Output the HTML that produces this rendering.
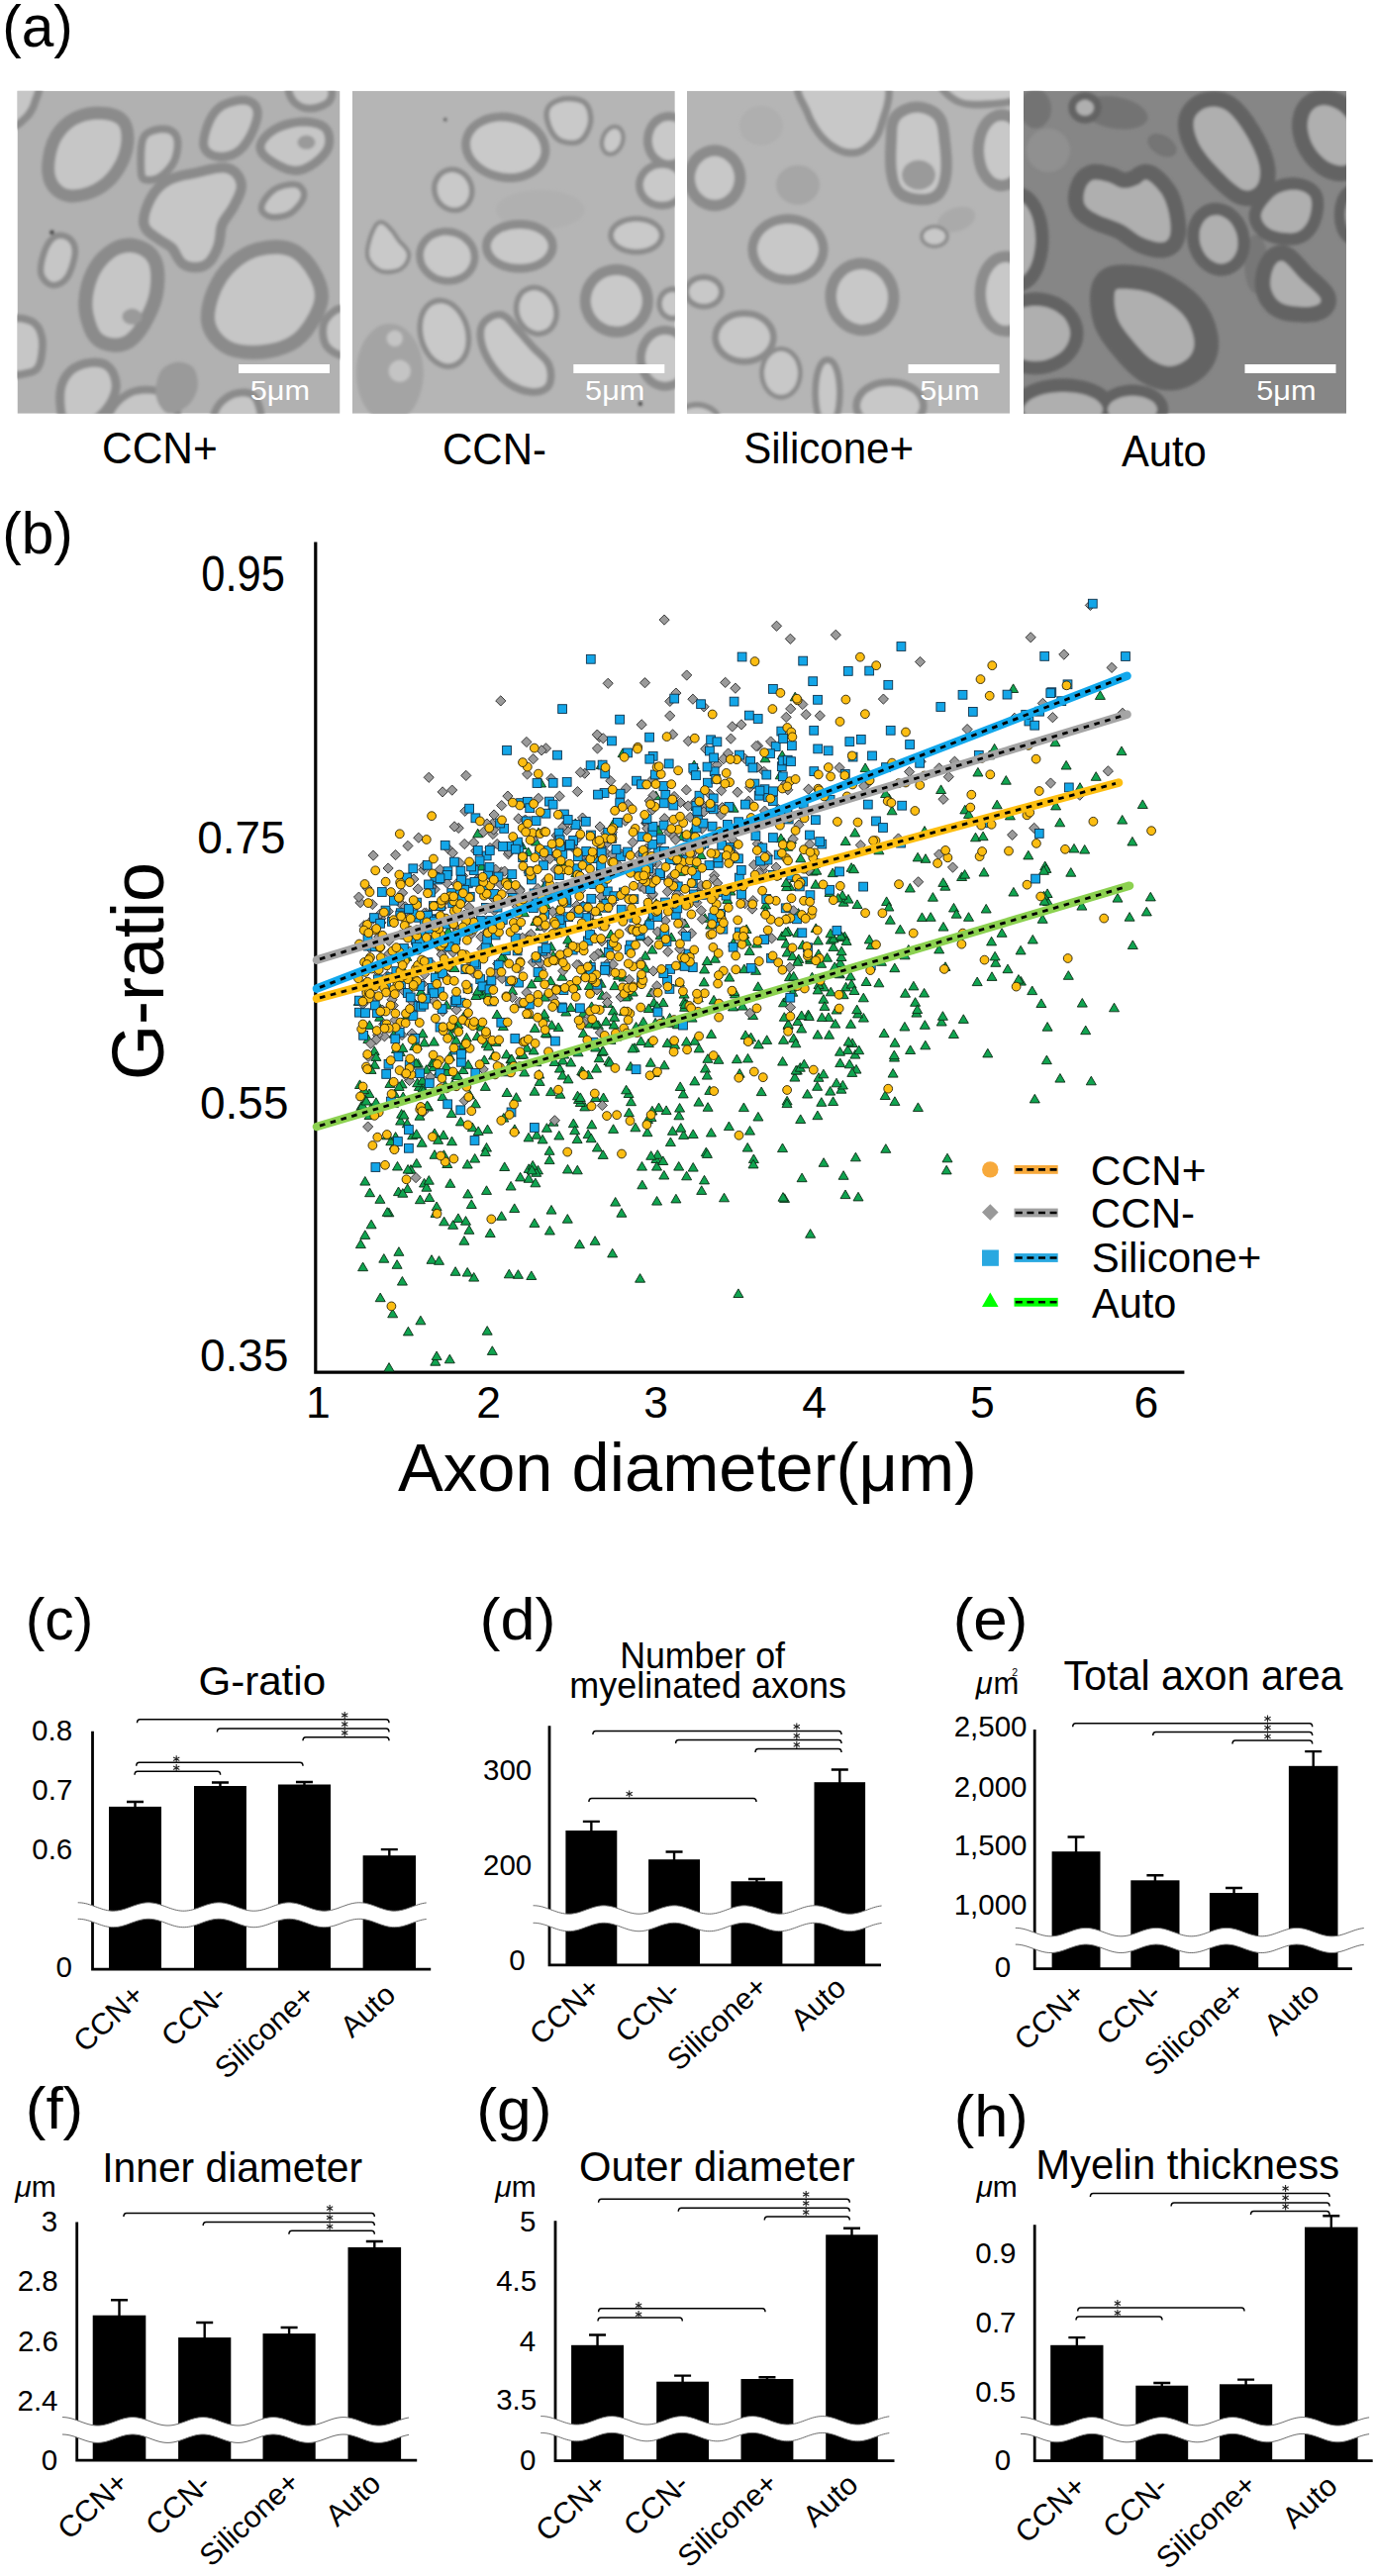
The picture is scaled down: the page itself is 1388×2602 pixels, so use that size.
<!DOCTYPE html>
<html><head><meta charset="utf-8"><title>figure</title>
<style>
html,body{margin:0;padding:0;background:#fff;}
body{width:1388px;height:2602px;overflow:hidden;}
svg{display:block;}
text{font-family:"Liberation Sans",sans-serif;}
</style></head><body>
<svg width="1388" height="2602" viewBox="0 0 1388 2602">
<rect width="1388" height="2602" fill="#fff"/>
<defs><filter id="bl" x="-5%" y="-5%" width="110%" height="110%"><feGaussianBlur stdDeviation="1.6"/></filter>
<clipPath id="cp0"><rect x="17.5" y="91.8" width="326" height="326"/></clipPath>
<clipPath id="cp1"><rect x="355.8" y="91.8" width="326" height="326"/></clipPath>
<clipPath id="cp2"><rect x="694" y="91.8" width="326" height="326"/></clipPath>
<clipPath id="cp3"><rect x="1034" y="91.8" width="326" height="326"/></clipPath>
</defs>
<g clip-path="url(#cp0)">
<rect x="17.5" y="91.8" width="326" height="326" fill="#b1b1b1"/>
<g transform="translate(17.5,91.8)" filter="url(#bl)">
<path d="M38,83C37,75.8 38.8,62.8 42,55C45.2,47.2 50.8,40.3 57,36C63.2,31.7 71.8,29.5 79,29C86.2,28.5 95.7,29.8 100,33C104.3,36.2 105,42 105,48C105,54 103.2,62.3 100,69C96.8,75.7 91.5,83.2 86,88C80.5,92.8 73.3,96.3 67,98C60.7,99.7 52.8,100.5 48,98C43.2,95.5 39,90.2 38,83Z" fill="#8b8b8b" stroke="#8b8b8b" stroke-width="26" stroke-linejoin="round"/>
<path d="M129,81C128.7,75.3 128.5,58.2 130,52C131.5,45.8 134.3,45.5 138,44C141.7,42.5 148.7,41.8 152,43C155.3,44.2 157.5,46.7 158,51C158.5,55.3 157.5,63.7 155,69C152.5,74.3 146.8,80.2 143,83C139.2,85.8 134.3,86.3 132,86C129.7,85.7 129.3,86.7 129,81Z" fill="#8b8b8b" stroke="#8b8b8b" stroke-width="15.6" stroke-linejoin="round"/>
<path d="M193,55C191.8,50.2 195.3,39 198,33C200.7,27 203.8,22.2 209,19C214.2,15.8 224.2,13.7 229,14C233.8,14.3 237.3,16.7 238,21C238.7,25.3 235.8,34 233,40C230.2,46 225.7,53.3 221,57C216.3,60.7 209.7,62.3 205,62C200.3,61.7 194.2,59.8 193,55Z" fill="#8b8b8b" stroke="#8b8b8b" stroke-width="18.2" stroke-linejoin="round"/>
<path d="M250,57C250,52.7 256,46.5 262,43C268,39.5 278.5,36.5 286,36C293.5,35.5 303,36.8 307,40C311,43.2 311.5,50.2 310,55C308.5,59.8 302.8,65.5 298,69C293.2,72.5 287,76 281,76C275,76 267.2,72.2 262,69C256.8,65.8 250,61.3 250,57Z" fill="#8b8b8b" stroke="#8b8b8b" stroke-width="18.2" stroke-linejoin="round"/>
<path d="M280,-5C284.7,-7.2 304.7,-7.2 310,-5C315.3,-2.8 314.5,4.8 312,8C309.5,11.2 300,14 295,14C290,14 284.5,11.2 282,8C279.5,4.8 275.3,-2.8 280,-5Z" fill="#8b8b8b" stroke="#8b8b8b" stroke-width="15.6" stroke-linejoin="round"/>
<path d="M-30,-10C-25.8,-16.7 7.7,-13.3 15,-10C22.3,-6.7 15.7,4.2 14,10C12.3,15.8 9,21.7 5,25C1,28.3 -4.2,35.8 -10,30C-15.8,24.2 -34.2,-3.3 -30,-10Z" fill="#8b8b8b" stroke="#8b8b8b" stroke-width="15.6" stroke-linejoin="round"/>
<path d="M133,133C132.2,127.2 136.3,116.3 140,110C143.7,103.7 148.2,98.7 155,95C161.8,91.3 171.8,90 181,88C190.2,86 203.3,81.8 210,83C216.7,84.2 220.3,89.8 221,95C221.7,100.2 217.2,107.7 214,114C210.8,120.3 204.7,126.2 202,133C199.3,139.8 200.3,148.7 198,155C195.7,161.3 192.5,168.3 188,171C183.5,173.7 175.7,173.7 171,171C166.3,168.3 164.3,159.3 160,155C155.7,150.7 149.5,148.7 145,145C140.5,141.3 133.8,138.8 133,133Z" fill="#8b8b8b" stroke="#8b8b8b" stroke-width="20.8" stroke-linejoin="round"/>
<path d="M250,117C250.8,113.3 256.8,105.2 262,102C267.2,98.8 277,97.2 281,98C285,98.8 287.2,103.2 286,107C284.8,110.8 278.8,118.2 274,121C269.2,123.8 261,124.7 257,124C253,123.3 249.2,120.7 250,117Z" fill="#8b8b8b" stroke="#8b8b8b" stroke-width="13" stroke-linejoin="round"/>
<path d="M27,183C26.2,177.8 28.8,167.5 31,162C33.2,156.5 36.7,151.7 40,150C43.3,148.3 48.5,149.7 51,152C53.5,154.3 55.5,158.3 55,164C54.5,169.7 51.2,181.2 48,186C44.8,190.8 39.5,193.5 36,193C32.5,192.5 27.8,188.2 27,183Z" fill="#8b8b8b" stroke="#8b8b8b" stroke-width="13" stroke-linejoin="round"/>
<path d="M81,238C78.7,232.3 75.7,222.7 76,214C76.3,205.3 79,193.8 83,186C87,178.2 94,170.7 100,167C106,163.3 113.5,162.5 119,164C124.5,165.5 130.7,169.2 133,176C135.3,182.8 135,195.5 133,205C131,214.5 125.3,225.8 121,233C116.7,240.2 112.2,245.5 107,248C101.8,250.5 94.3,249.7 90,248C85.7,246.3 83.3,243.7 81,238Z" fill="#8b8b8b" stroke="#8b8b8b" stroke-width="28.6" stroke-linejoin="round"/>
<path d="M200,233C198.5,225.2 201.5,213.7 205,205C208.5,196.3 214.3,187.3 221,181C227.7,174.7 236.2,169.3 245,167C253.8,164.7 266,163.8 274,167C282,170.2 288.7,178.8 293,186C297.3,193.2 301.2,201.3 300,210C298.8,218.7 291.5,231 286,238C280.5,245 275,248.8 267,252C259,255.2 246.8,257 238,257C229.2,257 220.3,256 214,252C207.7,248 201.5,240.8 200,233Z" fill="#8b8b8b" stroke="#8b8b8b" stroke-width="28.6" stroke-linejoin="round"/>
<path d="M48,305C48.8,296.8 52.3,290.3 57,286C61.7,281.7 70.5,279.5 76,279C81.5,278.5 86.8,279.5 90,283C93.2,286.5 95.7,294 95,300C94.3,306 90.7,313.2 86,319C81.3,324.8 72.7,332.3 67,335C61.3,337.7 55.2,340 52,335C48.8,330 47.2,313.2 48,305Z" fill="#8b8b8b" stroke="#8b8b8b" stroke-width="18.2" stroke-linejoin="round"/>
<path d="M100,322C103.3,316.8 112,309 120,307C128,305 142.2,305.3 148,310C153.8,314.7 163,330.3 155,335C147,339.7 109.2,340.2 100,338C90.8,335.8 96.7,327.2 100,322Z" fill="#8b8b8b" stroke="#8b8b8b" stroke-width="15.6" stroke-linejoin="round"/>
<path d="M-10,238C-6.3,230.8 6.8,234 12,236C17.2,238 19.8,243.7 21,250C22.2,256.3 20.8,268.8 19,274C17.2,279.2 14.8,280.2 10,281C5.2,281.8 -6.7,286.2 -10,279C-13.3,271.8 -13.7,245.2 -10,238Z" fill="#8b8b8b" stroke="#8b8b8b" stroke-width="15.6" stroke-linejoin="round"/>
<path d="M314,235C316.3,229.8 326.5,220.5 330,225C333.5,229.5 337.3,256.8 335,262C332.7,267.2 319.5,260.5 316,256C312.5,251.5 311.7,240.2 314,235Z" fill="#8b8b8b" stroke="#8b8b8b" stroke-width="15.6" stroke-linejoin="round"/>
<path d="M205,322C207.5,317.3 214.7,311.7 220,310C225.3,308.3 233.7,307.3 237,312C240.3,316.7 245.3,333.7 240,338C234.7,342.3 210.8,340.7 205,338C199.2,335.3 202.5,326.7 205,322Z" fill="#8b8b8b" stroke="#8b8b8b" stroke-width="15.6" stroke-linejoin="round"/>
<path d="M38,83C37,75.8 38.8,62.8 42,55C45.2,47.2 50.8,40.3 57,36C63.2,31.7 71.8,29.5 79,29C86.2,28.5 95.7,29.8 100,33C104.3,36.2 105,42 105,48C105,54 103.2,62.3 100,69C96.8,75.7 91.5,83.2 86,88C80.5,92.8 73.3,96.3 67,98C60.7,99.7 52.8,100.5 48,98C43.2,95.5 39,90.2 38,83Z" fill="#c6c6c6"/>
<path d="M129,81C128.7,75.3 128.5,58.2 130,52C131.5,45.8 134.3,45.5 138,44C141.7,42.5 148.7,41.8 152,43C155.3,44.2 157.5,46.7 158,51C158.5,55.3 157.5,63.7 155,69C152.5,74.3 146.8,80.2 143,83C139.2,85.8 134.3,86.3 132,86C129.7,85.7 129.3,86.7 129,81Z" fill="#c6c6c6"/>
<path d="M193,55C191.8,50.2 195.3,39 198,33C200.7,27 203.8,22.2 209,19C214.2,15.8 224.2,13.7 229,14C233.8,14.3 237.3,16.7 238,21C238.7,25.3 235.8,34 233,40C230.2,46 225.7,53.3 221,57C216.3,60.7 209.7,62.3 205,62C200.3,61.7 194.2,59.8 193,55Z" fill="#c6c6c6"/>
<path d="M250,57C250,52.7 256,46.5 262,43C268,39.5 278.5,36.5 286,36C293.5,35.5 303,36.8 307,40C311,43.2 311.5,50.2 310,55C308.5,59.8 302.8,65.5 298,69C293.2,72.5 287,76 281,76C275,76 267.2,72.2 262,69C256.8,65.8 250,61.3 250,57Z" fill="#c6c6c6"/>
<path d="M280,-5C284.7,-7.2 304.7,-7.2 310,-5C315.3,-2.8 314.5,4.8 312,8C309.5,11.2 300,14 295,14C290,14 284.5,11.2 282,8C279.5,4.8 275.3,-2.8 280,-5Z" fill="#c6c6c6"/>
<path d="M-30,-10C-25.8,-16.7 7.7,-13.3 15,-10C22.3,-6.7 15.7,4.2 14,10C12.3,15.8 9,21.7 5,25C1,28.3 -4.2,35.8 -10,30C-15.8,24.2 -34.2,-3.3 -30,-10Z" fill="#c6c6c6"/>
<path d="M133,133C132.2,127.2 136.3,116.3 140,110C143.7,103.7 148.2,98.7 155,95C161.8,91.3 171.8,90 181,88C190.2,86 203.3,81.8 210,83C216.7,84.2 220.3,89.8 221,95C221.7,100.2 217.2,107.7 214,114C210.8,120.3 204.7,126.2 202,133C199.3,139.8 200.3,148.7 198,155C195.7,161.3 192.5,168.3 188,171C183.5,173.7 175.7,173.7 171,171C166.3,168.3 164.3,159.3 160,155C155.7,150.7 149.5,148.7 145,145C140.5,141.3 133.8,138.8 133,133Z" fill="#c6c6c6"/>
<path d="M250,117C250.8,113.3 256.8,105.2 262,102C267.2,98.8 277,97.2 281,98C285,98.8 287.2,103.2 286,107C284.8,110.8 278.8,118.2 274,121C269.2,123.8 261,124.7 257,124C253,123.3 249.2,120.7 250,117Z" fill="#c6c6c6"/>
<path d="M27,183C26.2,177.8 28.8,167.5 31,162C33.2,156.5 36.7,151.7 40,150C43.3,148.3 48.5,149.7 51,152C53.5,154.3 55.5,158.3 55,164C54.5,169.7 51.2,181.2 48,186C44.8,190.8 39.5,193.5 36,193C32.5,192.5 27.8,188.2 27,183Z" fill="#c6c6c6"/>
<path d="M81,238C78.7,232.3 75.7,222.7 76,214C76.3,205.3 79,193.8 83,186C87,178.2 94,170.7 100,167C106,163.3 113.5,162.5 119,164C124.5,165.5 130.7,169.2 133,176C135.3,182.8 135,195.5 133,205C131,214.5 125.3,225.8 121,233C116.7,240.2 112.2,245.5 107,248C101.8,250.5 94.3,249.7 90,248C85.7,246.3 83.3,243.7 81,238Z" fill="#c6c6c6"/>
<path d="M200,233C198.5,225.2 201.5,213.7 205,205C208.5,196.3 214.3,187.3 221,181C227.7,174.7 236.2,169.3 245,167C253.8,164.7 266,163.8 274,167C282,170.2 288.7,178.8 293,186C297.3,193.2 301.2,201.3 300,210C298.8,218.7 291.5,231 286,238C280.5,245 275,248.8 267,252C259,255.2 246.8,257 238,257C229.2,257 220.3,256 214,252C207.7,248 201.5,240.8 200,233Z" fill="#c6c6c6"/>
<path d="M48,305C48.8,296.8 52.3,290.3 57,286C61.7,281.7 70.5,279.5 76,279C81.5,278.5 86.8,279.5 90,283C93.2,286.5 95.7,294 95,300C94.3,306 90.7,313.2 86,319C81.3,324.8 72.7,332.3 67,335C61.3,337.7 55.2,340 52,335C48.8,330 47.2,313.2 48,305Z" fill="#c6c6c6"/>
<path d="M100,322C103.3,316.8 112,309 120,307C128,305 142.2,305.3 148,310C153.8,314.7 163,330.3 155,335C147,339.7 109.2,340.2 100,338C90.8,335.8 96.7,327.2 100,322Z" fill="#c6c6c6"/>
<path d="M-10,238C-6.3,230.8 6.8,234 12,236C17.2,238 19.8,243.7 21,250C22.2,256.3 20.8,268.8 19,274C17.2,279.2 14.8,280.2 10,281C5.2,281.8 -6.7,286.2 -10,279C-13.3,271.8 -13.7,245.2 -10,238Z" fill="#c6c6c6"/>
<path d="M314,235C316.3,229.8 326.5,220.5 330,225C333.5,229.5 337.3,256.8 335,262C332.7,267.2 319.5,260.5 316,256C312.5,251.5 311.7,240.2 314,235Z" fill="#c6c6c6"/>
<path d="M205,322C207.5,317.3 214.7,311.7 220,310C225.3,308.3 233.7,307.3 237,312C240.3,316.7 245.3,333.7 240,338C234.7,342.3 210.8,340.7 205,338C199.2,335.3 202.5,326.7 205,322Z" fill="#c6c6c6"/>
<path d="M301,52C301,53.4 300.3,55 299.3,56.1C298.2,57.2 296.5,58.2 294.8,58.7C293.1,59.1 290.9,59.1 289.2,58.7C287.5,58.2 285.8,57.2 284.7,56.1C283.7,55 283,53.4 283,52C283,50.6 283.7,49 284.7,47.9C285.8,46.8 287.5,45.8 289.2,45.3C290.9,44.9 293.1,44.9 294.8,45.3C296.5,45.8 298.2,46.8 299.3,47.9C300.3,49 301,50.6 301,52Z" fill="#9a9a9a"/>
<path d="M126,228C126,229.6 125.2,231.4 124.1,232.7C122.9,234 121,235.1 119.1,235.6C117.2,236.1 114.8,236.1 112.9,235.6C111,235.1 109.1,234 107.9,232.7C106.8,231.4 106,229.6 106,228C106,226.4 106.8,224.6 107.9,223.3C109.1,222 111,220.9 112.9,220.4C114.8,219.9 117.2,219.9 119.1,220.4C121,220.9 122.9,222 124.1,223.3C125.2,224.6 126,226.4 126,228Z" fill="#9a9a9a"/>
<path d="M145,283C148.7,277.3 156.5,274.5 162,274C167.5,273.5 174.7,275.7 178,280C181.3,284.3 183,293.7 182,300C181,306.3 177,313.7 172,318C167,322.3 157.3,327.7 152,326C146.7,324.3 141.2,315.2 140,308C138.8,300.8 141.3,288.7 145,283Z" fill="#9a9a9a"/>
<path d="M37.2,143C37.2,143.4 37,143.9 36.8,144.3C36.5,144.6 36.1,145 35.7,145.1C35.3,145.2 34.7,145.2 34.3,145.1C33.9,145 33.5,144.6 33.2,144.3C33,143.9 32.8,143.4 32.8,143C32.8,142.6 33,142.1 33.2,141.7C33.5,141.4 33.9,141 34.3,140.9C34.7,140.8 35.3,140.8 35.7,140.9C36.1,141 36.5,141.4 36.8,141.7C37,142.1 37.2,142.6 37.2,143Z" fill="#333333"/>
</g>
<rect x="241" y="368" width="92" height="9" fill="#fff"/>
<text transform="translate(252.8,404) scale(1.0763,1)" font-size="28.5" fill="#fff">5μm</text>
</g>
<g clip-path="url(#cp1)">
<rect x="355.8" y="91.8" width="326" height="326" fill="#b5b5b5"/>
<g transform="translate(355.8,91.8)" filter="url(#bl)">
<path d="M72,285C72,294.8 69.4,306.5 65.5,314.4C61.6,322.3 54.8,329.5 48.5,332.6C42.2,335.6 33.8,335.6 27.5,332.6C21.2,329.5 14.4,322.3 10.5,314.4C6.6,306.5 4,294.8 4,285C4,275.2 6.6,263.5 10.5,255.6C14.4,247.7 21.2,240.5 27.5,237.4C33.8,234.4 42.2,234.4 48.5,237.4C54.8,240.5 61.6,247.7 65.5,255.6C69.4,263.5 72,275.2 72,285Z" fill="#a4a4a4"/>
<path d="M235,120C235,123.9 231.6,128.6 226.4,131.8C221.2,134.9 212.3,137.8 203.9,139C195.5,140.2 184.5,140.2 176.1,139C167.7,137.8 158.8,134.9 153.6,131.8C148.4,128.6 145,123.9 145,120C145,116.1 148.4,111.4 153.6,108.2C158.8,105.1 167.7,102.2 176.1,101C184.5,99.8 195.5,99.8 203.9,101C212.3,102.2 221.2,105.1 226.4,108.2C231.6,111.4 235,116.1 235,120Z" fill="#b0b0b0"/>
<path d="M190.5,63.3C189.6,68.3 185.8,73.8 181,77.1C176.2,80.4 168.5,82.9 161.7,83.3C154.8,83.7 146.1,82.1 139.8,79.4C133.4,76.7 127,71.8 123.7,67C120.3,62.2 118.7,55.8 119.5,50.7C120.4,45.7 124.2,40.2 129,36.9C133.8,33.6 141.5,31.1 148.3,30.7C155.2,30.3 163.9,31.9 170.2,34.6C176.6,37.3 183,42.2 186.3,47C189.7,51.8 191.3,58.2 190.5,63.3Z" fill="#8c8c8c" stroke="#8c8c8c" stroke-width="17.6" stroke-linejoin="round"/>
<path d="M200,19C202,14.8 208.5,11.8 214,11C219.5,10.2 229,10.7 233,14C237,17.3 238.7,25.3 238,31C237.3,36.7 233.3,45.2 229,48C224.7,50.8 216.5,50 212,48C207.5,46 204,40.8 202,36C200,31.2 198,23.2 200,19Z" fill="#8c8c8c" stroke="#8c8c8c" stroke-width="11" stroke-linejoin="round"/>
<path d="M270.5,52.7C269.7,54.9 268.2,57.4 266.7,58.8C265.2,60.3 263.1,61.4 261.4,61.6C259.8,61.7 257.9,61.1 256.8,59.9C255.6,58.7 254.7,56.5 254.5,54.4C254.3,52.3 254.7,49.5 255.5,47.3C256.3,45.1 257.8,42.6 259.3,41.2C260.8,39.7 262.9,38.6 264.6,38.4C266.2,38.3 268.1,38.9 269.2,40.1C270.4,41.3 271.3,43.5 271.5,45.6C271.7,47.7 271.3,50.5 270.5,52.7Z" fill="#8c8c8c" stroke="#8c8c8c" stroke-width="8.8" stroke-linejoin="round"/>
<path d="M337,50C337,53.9 335.7,58.6 333.8,61.8C331.8,64.9 328.4,67.8 325.3,69C322.1,70.2 317.9,70.2 314.7,69C311.6,67.8 308.2,64.9 306.2,61.8C304.3,58.6 303,53.9 303,50C303,46.1 304.3,41.4 306.2,38.2C308.2,35.1 311.6,32.2 314.7,31C317.9,29.8 322.1,29.8 325.3,31C328.4,32.2 331.8,35.1 333.8,38.2C335.7,41.4 337,46.1 337,50Z" fill="#8c8c8c" stroke="#8c8c8c" stroke-width="17.6" stroke-linejoin="round"/>
<path d="M332,95C332,98.3 330.6,102.3 328.4,105C326.2,107.7 322.4,110.1 318.9,111.2C315.3,112.2 310.7,112.2 307.1,111.2C303.6,110.1 299.8,107.7 297.6,105C295.4,102.3 294,98.3 294,95C294,91.7 295.4,87.7 297.6,85C299.8,82.3 303.6,79.9 307.1,78.8C310.7,77.8 315.3,77.8 318.9,78.8C322.4,79.9 326.2,82.3 328.4,85C330.6,87.7 332,91.7 332,95Z" fill="#8c8c8c" stroke="#8c8c8c" stroke-width="15.4" stroke-linejoin="round"/>
<path d="M117,94.5C118.2,97.8 118.5,102.2 117.8,105.5C117,108.8 114.9,112.4 112.5,114.4C110.1,116.4 106.4,117.8 103.2,117.8C100,117.8 96.2,116.4 93.5,114.4C90.7,112.3 88.2,108.8 87,105.5C85.8,102.2 85.5,97.8 86.2,94.5C87,91.2 89.1,87.6 91.5,85.6C93.9,83.6 97.6,82.2 100.8,82.2C104,82.2 107.8,83.6 110.5,85.6C113.3,87.7 115.8,91.2 117,94.5Z" fill="#8c8c8c" stroke="#8c8c8c" stroke-width="11" stroke-linejoin="round"/>
<path d="M20,150C21.7,144.5 25,136.3 28,135C31,133.7 35.2,139.2 38,142C40.8,144.8 42.2,148.2 45,152C47.8,155.8 54.5,160.7 55,165C55.5,169.3 52.2,175.5 48,178C43.8,180.5 35,181.7 30,180C25,178.3 19.7,173 18,168C16.3,163 18.3,155.5 20,150Z" fill="#8c8c8c" stroke="#8c8c8c" stroke-width="8.8" stroke-linejoin="round"/>
<path d="M119.6,171.2C118.9,175.2 116.3,179.7 113,182.5C109.7,185.3 104.5,187.5 99.8,188C95.2,188.4 89.4,187.4 85.2,185.4C81,183.4 76.9,179.5 74.7,175.8C72.6,172 71.7,166.9 72.4,162.8C73.1,158.8 75.7,154.3 79,151.5C82.3,148.7 87.5,146.5 92.2,146C96.8,145.6 102.6,146.6 106.8,148.6C111,150.6 115.1,154.5 117.3,158.2C119.4,162 120.3,167.1 119.6,171.2Z" fill="#8c8c8c" stroke="#8c8c8c" stroke-width="15.4" stroke-linejoin="round"/>
<path d="M198,157C198,160.5 195.8,164.7 192.5,167.6C189.1,170.4 183.4,173 178,174.1C172.6,175.2 165.4,175.2 160,174.1C154.6,173 148.9,170.4 145.5,167.6C142.2,164.7 140,160.5 140,157C140,153.5 142.2,149.3 145.5,146.4C148.9,143.6 154.6,141 160,139.9C165.4,138.8 172.6,138.8 178,139.9C183.4,141 189.1,143.6 192.5,146.4C195.8,149.3 198,153.5 198,157Z" fill="#8c8c8c" stroke="#8c8c8c" stroke-width="17.6" stroke-linejoin="round"/>
<path d="M310,146C310,148.7 308.3,152 305.6,154.2C303,156.4 298.4,158.5 294.1,159.3C289.8,160.2 284.2,160.2 279.9,159.3C275.6,158.5 271,156.4 268.4,154.2C265.7,152 264,148.7 264,146C264,143.3 265.7,140 268.4,137.8C271,135.6 275.6,133.5 279.9,132.7C284.2,131.8 289.8,131.8 294.1,132.7C298.4,133.5 303,135.6 305.6,137.8C308.3,140 310,143.3 310,146Z" fill="#8c8c8c" stroke="#8c8c8c" stroke-width="11" stroke-linejoin="round"/>
<path d="M293,212C293,217.1 291,223.2 288,227.3C285,231.4 279.9,235.2 275,236.7C270.2,238.3 263.8,238.3 259,236.7C254.1,235.2 249,231.4 246,227.3C243,223.2 241,217.1 241,212C241,206.9 243,200.8 246,196.7C249,192.6 254.1,188.8 259,187.3C263.8,185.7 270.2,185.7 275,187.3C279.9,188.8 285,192.6 288,196.7C291,200.8 293,206.9 293,212Z" fill="#8c8c8c" stroke="#8c8c8c" stroke-width="22" stroke-linejoin="round"/>
<path d="M335,215C335,217.4 334.2,220.2 332.9,222.1C331.6,224 329.4,225.7 327.4,226.4C325.3,227.1 322.7,227.1 320.6,226.4C318.6,225.7 316.4,224 315.1,222.1C313.8,220.2 313,217.4 313,215C313,212.6 313.8,209.8 315.1,207.9C316.4,206 318.6,204.3 320.6,203.6C322.7,202.9 325.3,202.9 327.4,203.6C329.4,204.3 331.6,206 332.9,207.9C334.2,209.8 335,212.6 335,215Z" fill="#8c8c8c" stroke="#8c8c8c" stroke-width="11" stroke-linejoin="round"/>
<path d="M336,270C336,274.7 334.5,280.3 332.2,284.1C329.9,287.9 325.9,291.4 322.2,292.8C318.5,294.3 313.5,294.3 309.8,292.8C306.1,291.4 302.1,287.9 299.8,284.1C297.5,280.3 296,274.7 296,270C296,265.3 297.5,259.7 299.8,255.9C302.1,252.1 306.1,248.6 309.8,247.2C313.5,245.7 318.5,245.7 322.2,247.2C325.9,248.6 329.9,252.1 332.2,255.9C334.5,259.7 336,265.3 336,270Z" fill="#8c8c8c" stroke="#8c8c8c" stroke-width="17.6" stroke-linejoin="round"/>
<path d="M113.3,239.6C114.9,245.4 115.2,252.8 114.1,258.2C113.1,263.6 110.2,269 106.9,271.8C103.6,274.6 98.6,276 94.4,275.2C90.1,274.4 84.9,271.1 81.3,267C77.7,262.9 74.3,256.3 72.7,250.4C71.1,244.6 70.8,237.2 71.9,231.8C72.9,226.4 75.8,221 79.1,218.2C82.4,215.4 87.4,214 91.6,214.8C95.9,215.6 101.1,218.9 104.7,223C108.3,227.1 111.7,233.7 113.3,239.6Z" fill="#8c8c8c" stroke="#8c8c8c" stroke-width="11" stroke-linejoin="round"/>
<path d="M135,238C137.5,233.7 145,228.8 150,230C155,231.2 160,239.7 165,245C170,250.3 175,256.5 180,262C185,267.5 192.5,272.3 195,278C197.5,283.7 197.5,292.3 195,296C192.5,299.7 185.8,300.7 180,300C174.2,299.3 165.8,296 160,292C154.2,288 149.2,282 145,276C140.8,270 136.7,262.3 135,256C133.3,249.7 132.5,242.3 135,238Z" fill="#8c8c8c" stroke="#8c8c8c" stroke-width="15.4" stroke-linejoin="round"/>
<path d="M202,216.2C203.4,220.1 203.8,225.1 203.1,228.9C202.4,232.7 200.3,236.7 197.8,239C195.2,241.2 191.3,242.7 187.9,242.6C184.5,242.5 180.3,240.8 177.3,238.3C174.3,235.8 171.4,231.7 170,227.8C168.6,223.9 168.2,218.9 168.9,215.1C169.6,211.3 171.7,207.3 174.2,205C176.8,202.8 180.7,201.3 184.1,201.4C187.5,201.5 191.7,203.2 194.7,205.7C197.7,208.2 200.6,212.3 202,216.2Z" fill="#8c8c8c" stroke="#8c8c8c" stroke-width="11" stroke-linejoin="round"/>
<path d="M190.5,63.3C189.6,68.3 185.8,73.8 181,77.1C176.2,80.4 168.5,82.9 161.7,83.3C154.8,83.7 146.1,82.1 139.8,79.4C133.4,76.7 127,71.8 123.7,67C120.3,62.2 118.7,55.8 119.5,50.7C120.4,45.7 124.2,40.2 129,36.9C133.8,33.6 141.5,31.1 148.3,30.7C155.2,30.3 163.9,31.9 170.2,34.6C176.6,37.3 183,42.2 186.3,47C189.7,51.8 191.3,58.2 190.5,63.3Z" fill="#c9c9c9"/>
<path d="M200,19C202,14.8 208.5,11.8 214,11C219.5,10.2 229,10.7 233,14C237,17.3 238.7,25.3 238,31C237.3,36.7 233.3,45.2 229,48C224.7,50.8 216.5,50 212,48C207.5,46 204,40.8 202,36C200,31.2 198,23.2 200,19Z" fill="#c9c9c9"/>
<path d="M270.5,52.7C269.7,54.9 268.2,57.4 266.7,58.8C265.2,60.3 263.1,61.4 261.4,61.6C259.8,61.7 257.9,61.1 256.8,59.9C255.6,58.7 254.7,56.5 254.5,54.4C254.3,52.3 254.7,49.5 255.5,47.3C256.3,45.1 257.8,42.6 259.3,41.2C260.8,39.7 262.9,38.6 264.6,38.4C266.2,38.3 268.1,38.9 269.2,40.1C270.4,41.3 271.3,43.5 271.5,45.6C271.7,47.7 271.3,50.5 270.5,52.7Z" fill="#c9c9c9"/>
<path d="M337,50C337,53.9 335.7,58.6 333.8,61.8C331.8,64.9 328.4,67.8 325.3,69C322.1,70.2 317.9,70.2 314.7,69C311.6,67.8 308.2,64.9 306.2,61.8C304.3,58.6 303,53.9 303,50C303,46.1 304.3,41.4 306.2,38.2C308.2,35.1 311.6,32.2 314.7,31C317.9,29.8 322.1,29.8 325.3,31C328.4,32.2 331.8,35.1 333.8,38.2C335.7,41.4 337,46.1 337,50Z" fill="#c9c9c9"/>
<path d="M332,95C332,98.3 330.6,102.3 328.4,105C326.2,107.7 322.4,110.1 318.9,111.2C315.3,112.2 310.7,112.2 307.1,111.2C303.6,110.1 299.8,107.7 297.6,105C295.4,102.3 294,98.3 294,95C294,91.7 295.4,87.7 297.6,85C299.8,82.3 303.6,79.9 307.1,78.8C310.7,77.8 315.3,77.8 318.9,78.8C322.4,79.9 326.2,82.3 328.4,85C330.6,87.7 332,91.7 332,95Z" fill="#c9c9c9"/>
<path d="M117,94.5C118.2,97.8 118.5,102.2 117.8,105.5C117,108.8 114.9,112.4 112.5,114.4C110.1,116.4 106.4,117.8 103.2,117.8C100,117.8 96.2,116.4 93.5,114.4C90.7,112.3 88.2,108.8 87,105.5C85.8,102.2 85.5,97.8 86.2,94.5C87,91.2 89.1,87.6 91.5,85.6C93.9,83.6 97.6,82.2 100.8,82.2C104,82.2 107.8,83.6 110.5,85.6C113.3,87.7 115.8,91.2 117,94.5Z" fill="#c9c9c9"/>
<path d="M20,150C21.7,144.5 25,136.3 28,135C31,133.7 35.2,139.2 38,142C40.8,144.8 42.2,148.2 45,152C47.8,155.8 54.5,160.7 55,165C55.5,169.3 52.2,175.5 48,178C43.8,180.5 35,181.7 30,180C25,178.3 19.7,173 18,168C16.3,163 18.3,155.5 20,150Z" fill="#c9c9c9"/>
<path d="M119.6,171.2C118.9,175.2 116.3,179.7 113,182.5C109.7,185.3 104.5,187.5 99.8,188C95.2,188.4 89.4,187.4 85.2,185.4C81,183.4 76.9,179.5 74.7,175.8C72.6,172 71.7,166.9 72.4,162.8C73.1,158.8 75.7,154.3 79,151.5C82.3,148.7 87.5,146.5 92.2,146C96.8,145.6 102.6,146.6 106.8,148.6C111,150.6 115.1,154.5 117.3,158.2C119.4,162 120.3,167.1 119.6,171.2Z" fill="#c9c9c9"/>
<path d="M198,157C198,160.5 195.8,164.7 192.5,167.6C189.1,170.4 183.4,173 178,174.1C172.6,175.2 165.4,175.2 160,174.1C154.6,173 148.9,170.4 145.5,167.6C142.2,164.7 140,160.5 140,157C140,153.5 142.2,149.3 145.5,146.4C148.9,143.6 154.6,141 160,139.9C165.4,138.8 172.6,138.8 178,139.9C183.4,141 189.1,143.6 192.5,146.4C195.8,149.3 198,153.5 198,157Z" fill="#c9c9c9"/>
<path d="M310,146C310,148.7 308.3,152 305.6,154.2C303,156.4 298.4,158.5 294.1,159.3C289.8,160.2 284.2,160.2 279.9,159.3C275.6,158.5 271,156.4 268.4,154.2C265.7,152 264,148.7 264,146C264,143.3 265.7,140 268.4,137.8C271,135.6 275.6,133.5 279.9,132.7C284.2,131.8 289.8,131.8 294.1,132.7C298.4,133.5 303,135.6 305.6,137.8C308.3,140 310,143.3 310,146Z" fill="#c9c9c9"/>
<path d="M293,212C293,217.1 291,223.2 288,227.3C285,231.4 279.9,235.2 275,236.7C270.2,238.3 263.8,238.3 259,236.7C254.1,235.2 249,231.4 246,227.3C243,223.2 241,217.1 241,212C241,206.9 243,200.8 246,196.7C249,192.6 254.1,188.8 259,187.3C263.8,185.7 270.2,185.7 275,187.3C279.9,188.8 285,192.6 288,196.7C291,200.8 293,206.9 293,212Z" fill="#c9c9c9"/>
<path d="M335,215C335,217.4 334.2,220.2 332.9,222.1C331.6,224 329.4,225.7 327.4,226.4C325.3,227.1 322.7,227.1 320.6,226.4C318.6,225.7 316.4,224 315.1,222.1C313.8,220.2 313,217.4 313,215C313,212.6 313.8,209.8 315.1,207.9C316.4,206 318.6,204.3 320.6,203.6C322.7,202.9 325.3,202.9 327.4,203.6C329.4,204.3 331.6,206 332.9,207.9C334.2,209.8 335,212.6 335,215Z" fill="#c9c9c9"/>
<path d="M336,270C336,274.7 334.5,280.3 332.2,284.1C329.9,287.9 325.9,291.4 322.2,292.8C318.5,294.3 313.5,294.3 309.8,292.8C306.1,291.4 302.1,287.9 299.8,284.1C297.5,280.3 296,274.7 296,270C296,265.3 297.5,259.7 299.8,255.9C302.1,252.1 306.1,248.6 309.8,247.2C313.5,245.7 318.5,245.7 322.2,247.2C325.9,248.6 329.9,252.1 332.2,255.9C334.5,259.7 336,265.3 336,270Z" fill="#c9c9c9"/>
<path d="M113.3,239.6C114.9,245.4 115.2,252.8 114.1,258.2C113.1,263.6 110.2,269 106.9,271.8C103.6,274.6 98.6,276 94.4,275.2C90.1,274.4 84.9,271.1 81.3,267C77.7,262.9 74.3,256.3 72.7,250.4C71.1,244.6 70.8,237.2 71.9,231.8C72.9,226.4 75.8,221 79.1,218.2C82.4,215.4 87.4,214 91.6,214.8C95.9,215.6 101.1,218.9 104.7,223C108.3,227.1 111.7,233.7 113.3,239.6Z" fill="#c9c9c9"/>
<path d="M135,238C137.5,233.7 145,228.8 150,230C155,231.2 160,239.7 165,245C170,250.3 175,256.5 180,262C185,267.5 192.5,272.3 195,278C197.5,283.7 197.5,292.3 195,296C192.5,299.7 185.8,300.7 180,300C174.2,299.3 165.8,296 160,292C154.2,288 149.2,282 145,276C140.8,270 136.7,262.3 135,256C133.3,249.7 132.5,242.3 135,238Z" fill="#c9c9c9"/>
<path d="M202,216.2C203.4,220.1 203.8,225.1 203.1,228.9C202.4,232.7 200.3,236.7 197.8,239C195.2,241.2 191.3,242.7 187.9,242.6C184.5,242.5 180.3,240.8 177.3,238.3C174.3,235.8 171.4,231.7 170,227.8C168.6,223.9 168.2,218.9 168.9,215.1C169.6,211.3 171.7,207.3 174.2,205C176.8,202.8 180.7,201.3 184.1,201.4C187.5,201.5 191.7,203.2 194.7,205.7C197.7,208.2 200.6,212.3 202,216.2Z" fill="#c9c9c9"/>
<path d="M51,250C51,251.6 50.4,253.4 49.5,254.7C48.6,256 47,257.1 45.5,257.6C44,258.1 42,258.1 40.5,257.6C39,257.1 37.4,256 36.5,254.7C35.6,253.4 35,251.6 35,250C35,248.4 35.6,246.6 36.5,245.3C37.4,244 39,242.9 40.5,242.4C42,241.9 44,241.9 45.5,242.4C47,242.9 48.6,244 49.5,245.3C50.4,246.6 51,248.4 51,250Z" fill="#c4c4c4"/>
<path d="M59,283C59,285.2 58.2,287.7 56.9,289.5C55.6,291.2 53.4,292.8 51.4,293.5C49.3,294.1 46.7,294.1 44.6,293.5C42.6,292.8 40.4,291.2 39.1,289.5C37.8,287.7 37,285.2 37,283C37,280.8 37.8,278.3 39.1,276.5C40.4,274.8 42.6,273.2 44.6,272.5C46.7,271.9 49.3,271.9 51.4,272.5C53.4,273.2 55.6,274.8 56.9,276.5C58.2,278.3 59,280.8 59,283Z" fill="#c4c4c4"/>
<path d="M95.5,29C95.5,29.3 95.4,29.6 95.2,29.9C95,30.1 94.7,30.3 94.5,30.4C94.2,30.5 93.8,30.5 93.5,30.4C93.3,30.3 93,30.1 92.8,29.9C92.6,29.6 92.5,29.3 92.5,29C92.5,28.7 92.6,28.4 92.8,28.1C93,27.9 93.3,27.7 93.5,27.6C93.8,27.5 94.2,27.5 94.5,27.6C94.7,27.7 95,27.9 95.2,28.1C95.4,28.4 95.5,28.7 95.5,29Z" fill="#333333"/>
<path d="M293,316C293,316.4 292.8,316.9 292.6,317.2C292.4,317.5 292,317.8 291.6,317.9C291.2,318 290.8,318 290.4,317.9C290,317.8 289.6,317.5 289.4,317.2C289.2,316.9 289,316.4 289,316C289,315.6 289.2,315.1 289.4,314.8C289.6,314.5 290,314.2 290.4,314.1C290.8,314 291.2,314 291.6,314.1C292,314.2 292.4,314.5 292.6,314.8C292.8,315.1 293,315.6 293,316Z" fill="#333333"/>
</g>
<rect x="579.3" y="368" width="92" height="9" fill="#fff"/>
<text transform="translate(591.1,404) scale(1.0763,1)" font-size="28.5" fill="#fff">5μm</text>
</g>
<g clip-path="url(#cp2)">
<rect x="694" y="91.8" width="326" height="326" fill="#b5b5b5"/>
<g transform="translate(694,91.8)" filter="url(#bl)">
<path d="M134,95C134,98.9 132.3,103.6 129.8,106.8C127.3,109.9 122.9,112.8 118.8,114C114.7,115.2 109.3,115.2 105.2,114C101.1,112.8 96.7,109.9 94.2,106.8C91.7,103.6 90,98.9 90,95C90,91.1 91.7,86.4 94.2,83.2C96.7,80.1 101.1,77.2 105.2,76C109.3,74.8 114.7,74.8 118.8,76C122.9,77.2 127.3,80.1 129.8,83.2C132.3,86.4 134,91.1 134,95Z" fill="#a6a6a6"/>
<path d="M290.8,123.2C291.6,125.4 291.1,128.5 289.6,131.1C288.1,133.7 285,136.7 281.7,138.6C278.5,140.6 273.8,142.2 270.1,142.8C266.3,143.4 262,143.2 259.2,142.2C256.4,141.2 254,139 253.2,136.8C252.4,134.6 252.9,131.5 254.4,128.9C255.9,126.3 259,123.3 262.3,121.4C265.5,119.4 270.2,117.8 273.9,117.2C277.7,116.6 282,116.8 284.8,117.8C287.6,118.8 290,121 290.8,123.2Z" fill="#aaaaaa"/>
<path d="M97,35C97,38.9 95.3,43.6 92.8,46.8C90.3,49.9 85.9,52.8 81.8,54C77.7,55.2 72.3,55.2 68.2,54C64.1,52.8 59.7,49.9 57.2,46.8C54.7,43.6 53,38.9 53,35C53,31.1 54.7,26.4 57.2,23.2C59.7,20.1 64.1,17.2 68.2,16C72.3,14.8 77.7,14.8 81.8,16C85.9,17.2 90.3,20.1 92.8,23.2C95.3,26.4 97,31.1 97,35Z" fill="#afafaf"/>
<path d="M120,-10C131.7,-15 183,-17.5 195,-10C207,-2.5 194.8,24.2 192,35C189.2,45.8 183.3,51.2 178,55C172.7,58.8 166.3,59.7 160,58C153.7,56.3 145.8,51.3 140,45C134.2,38.7 128.3,29.2 125,20C121.7,10.8 108.3,-5 120,-10Z" fill="#8c8c8c" stroke="#8c8c8c" stroke-width="15.2" stroke-linejoin="round"/>
<path d="M215,30C218.3,25.3 226.2,22 232,22C237.8,22 246.2,24.5 250,30C253.8,35.5 254,46.3 255,55C256,63.7 256.8,74.5 256,82C255.2,89.5 253.5,96.3 250,100C246.5,103.7 240.3,104.3 235,104C229.7,103.7 221.8,102 218,98C214.2,94 213,88 212,80C211,72 211.5,58.3 212,50C212.5,41.7 211.7,34.7 215,30Z" fill="#8c8c8c" stroke="#8c8c8c" stroke-width="22.8" stroke-linejoin="round"/>
<path d="M48,88C48,92.3 46.5,97.4 44.2,100.9C41.9,104.4 37.9,107.6 34.2,108.9C30.5,110.3 25.5,110.3 21.8,108.9C18.1,107.6 14.1,104.4 11.8,100.9C9.5,97.4 8,92.3 8,88C8,83.7 9.5,78.6 11.8,75.1C14.1,71.6 18.1,68.4 21.8,67.1C25.5,65.7 30.5,65.7 34.2,67.1C37.9,68.4 41.9,71.6 44.2,75.1C46.5,78.6 48,83.7 48,88Z" fill="#8c8c8c" stroke="#8c8c8c" stroke-width="22.8" stroke-linejoin="round"/>
<path d="M133,160C133,165.1 130.6,171.2 127.1,175.3C123.5,179.4 117.4,183.2 111.6,184.7C105.8,186.3 98.2,186.3 92.4,184.7C86.6,183.2 80.5,179.4 76.9,175.3C73.4,171.2 71,165.1 71,160C71,154.9 73.4,148.8 76.9,144.7C80.5,140.6 86.6,136.8 92.4,135.3C98.2,133.7 105.8,133.7 111.6,135.3C117.4,136.8 123.5,140.6 127.1,144.7C130.6,148.8 133,154.9 133,160Z" fill="#8c8c8c" stroke="#8c8c8c" stroke-width="19" stroke-linejoin="round"/>
<path d="M336,60C336,65.9 334.6,72.9 332.6,77.6C330.5,82.4 326.9,86.7 323.6,88.5C320.2,90.3 315.8,90.3 312.4,88.5C309.1,86.7 305.5,82.4 303.4,77.6C301.4,72.9 300,65.9 300,60C300,54.1 301.4,47.1 303.4,42.4C305.5,37.6 309.1,33.3 312.4,31.5C315.8,29.7 320.2,29.7 323.6,31.5C326.9,33.3 330.5,37.6 332.6,42.4C334.6,47.1 336,54.1 336,60Z" fill="#8c8c8c" stroke="#8c8c8c" stroke-width="22.8" stroke-linejoin="round"/>
<path d="M261,147C261,148.6 260.2,150.4 258.9,151.7C257.6,153 255.4,154.1 253.4,154.6C251.3,155.1 248.7,155.1 246.6,154.6C244.6,154.1 242.4,153 241.1,151.7C239.8,150.4 239,148.6 239,147C239,145.4 239.8,143.6 241.1,142.3C242.4,141 244.6,139.9 246.6,139.4C248.7,138.9 251.3,138.9 253.4,139.4C255.4,139.9 257.6,141 258.9,142.3C260.2,143.6 261,145.4 261,147Z" fill="#8c8c8c" stroke="#8c8c8c" stroke-width="7.6" stroke-linejoin="round"/>
<path d="M202.6,203.5C203.6,208.9 202.8,215.7 200.6,220.6C198.4,225.4 194,230.3 189.5,232.8C185.1,235.3 178.8,236.4 173.7,235.6C168.6,234.8 162.9,231.7 159.1,227.9C155.4,224 152.3,217.9 151.4,212.5C150.4,207.1 151.2,200.3 153.4,195.4C155.6,190.6 160,185.7 164.5,183.2C168.9,180.7 175.2,179.6 180.3,180.4C185.4,181.2 191.1,184.3 194.9,188.1C198.6,192 201.7,198.1 202.6,203.5Z" fill="#8c8c8c" stroke="#8c8c8c" stroke-width="22.8" stroke-linejoin="round"/>
<path d="M342,205C342,211.3 340.5,218.7 338.2,223.8C335.9,228.9 331.9,233.5 328.2,235.4C324.5,237.4 319.5,237.4 315.8,235.4C312.1,233.5 308.1,228.9 305.8,223.8C303.5,218.7 302,211.3 302,205C302,198.7 303.5,191.3 305.8,186.2C308.1,181.1 312.1,176.5 315.8,174.6C319.5,172.6 324.5,172.6 328.2,174.6C331.9,176.5 335.9,181.1 338.2,186.2C340.5,191.3 342,198.7 342,205Z" fill="#8c8c8c" stroke="#8c8c8c" stroke-width="22.8" stroke-linejoin="round"/>
<path d="M32,203C32,205.4 30.9,208.2 29.1,210.1C27.4,212 24.4,213.7 21.6,214.4C18.8,215.1 15.2,215.1 12.4,214.4C9.6,213.7 6.6,212 4.9,210.1C3.1,208.2 2,205.4 2,203C2,200.6 3.1,197.8 4.9,195.9C6.6,194 9.6,192.3 12.4,191.6C15.2,190.9 18.8,190.9 21.6,191.6C24.4,192.3 27.4,194 29.1,195.9C30.9,197.8 32,200.6 32,203Z" fill="#8c8c8c" stroke="#8c8c8c" stroke-width="11.4" stroke-linejoin="round"/>
<path d="M84,249C84,253.1 82,258 79,261.3C76,264.7 70.9,267.7 66,269C61.2,270.2 54.8,270.2 50,269C45.1,267.7 40,264.7 37,261.3C34,258 32,253.1 32,249C32,244.9 34,240 37,236.7C40,233.3 45.1,230.3 50,229C54.8,227.8 61.2,227.8 66,229C70.9,230.3 76,233.3 79,236.7C82,240 84,244.9 84,249Z" fill="#8c8c8c" stroke="#8c8c8c" stroke-width="13.3" stroke-linejoin="round"/>
<path d="M112,285C112,289.3 110.7,294.4 108.8,297.9C106.8,301.4 103.4,304.6 100.3,305.9C97.1,307.3 92.9,307.3 89.7,305.9C86.6,304.6 83.2,301.4 81.2,297.9C79.3,294.4 78,289.3 78,285C78,280.7 79.3,275.6 81.2,272.1C83.2,268.6 86.6,265.4 89.7,264.1C92.9,262.7 97.1,262.7 100.3,264.1C103.4,265.4 106.8,268.6 108.8,272.1C110.7,275.6 112,280.7 112,285Z" fill="#8c8c8c" stroke="#8c8c8c" stroke-width="9.5" stroke-linejoin="round"/>
<path d="M151,305C151,310.9 150.3,317.9 149.3,322.6C148.2,327.4 146.5,331.7 144.8,333.5C143.1,335.3 140.9,335.3 139.2,333.5C137.5,331.7 135.8,327.4 134.7,322.6C133.7,317.9 133,310.9 133,305C133,299.1 133.7,292.1 134.7,287.4C135.8,282.6 137.5,278.3 139.2,276.5C140.9,274.7 143.1,274.7 144.8,276.5C146.5,278.3 148.2,282.6 149.3,287.4C150.3,292.1 151,299.1 151,305Z" fill="#8c8c8c" stroke="#8c8c8c" stroke-width="13.3" stroke-linejoin="round"/>
<path d="M235,318C235,321.9 232.7,326.6 229.3,329.8C225.8,332.9 219.9,335.8 214.3,337C208.7,338.2 201.3,338.2 195.7,337C190.1,335.8 184.2,332.9 180.7,329.8C177.3,326.6 175,321.9 175,318C175,314.1 177.3,309.4 180.7,306.2C184.2,303.1 190.1,300.2 195.7,299C201.3,297.8 208.7,297.8 214.3,299C219.9,300.2 225.8,303.1 229.3,306.2C232.7,309.4 235,314.1 235,318Z" fill="#8c8c8c" stroke="#8c8c8c" stroke-width="15.2" stroke-linejoin="round"/>
<path d="M30,335C30,337.9 28.5,341.4 26.2,343.8C23.9,346.2 19.9,348.4 16.2,349.3C12.5,350.2 7.5,350.2 3.8,349.3C0.1,348.4 -3.9,346.2 -6.2,343.8C-8.5,341.4 -10,337.9 -10,335C-10,332.1 -8.5,328.6 -6.2,326.2C-3.9,323.8 0.1,321.6 3.8,320.7C7.5,319.8 12.5,319.8 16.2,320.7C19.9,321.6 23.9,323.8 26.2,326.2C28.5,328.6 30,332.1 30,335Z" fill="#8c8c8c" stroke="#8c8c8c" stroke-width="11.4" stroke-linejoin="round"/>
<path d="M265,-10C275.8,-12.3 323.3,-12.5 335,-10C346.7,-7.5 342.5,1.7 335,5C327.5,8.3 300.8,10.2 290,10C279.2,9.8 274.2,7.3 270,4C265.8,0.7 254.2,-7.7 265,-10Z" fill="#8c8c8c" stroke="#8c8c8c" stroke-width="15.2" stroke-linejoin="round"/>
<path d="M120,-10C131.7,-15 183,-17.5 195,-10C207,-2.5 194.8,24.2 192,35C189.2,45.8 183.3,51.2 178,55C172.7,58.8 166.3,59.7 160,58C153.7,56.3 145.8,51.3 140,45C134.2,38.7 128.3,29.2 125,20C121.7,10.8 108.3,-5 120,-10Z" fill="#c8c8c8"/>
<path d="M215,30C218.3,25.3 226.2,22 232,22C237.8,22 246.2,24.5 250,30C253.8,35.5 254,46.3 255,55C256,63.7 256.8,74.5 256,82C255.2,89.5 253.5,96.3 250,100C246.5,103.7 240.3,104.3 235,104C229.7,103.7 221.8,102 218,98C214.2,94 213,88 212,80C211,72 211.5,58.3 212,50C212.5,41.7 211.7,34.7 215,30Z" fill="#c8c8c8"/>
<path d="M48,88C48,92.3 46.5,97.4 44.2,100.9C41.9,104.4 37.9,107.6 34.2,108.9C30.5,110.3 25.5,110.3 21.8,108.9C18.1,107.6 14.1,104.4 11.8,100.9C9.5,97.4 8,92.3 8,88C8,83.7 9.5,78.6 11.8,75.1C14.1,71.6 18.1,68.4 21.8,67.1C25.5,65.7 30.5,65.7 34.2,67.1C37.9,68.4 41.9,71.6 44.2,75.1C46.5,78.6 48,83.7 48,88Z" fill="#c8c8c8"/>
<path d="M133,160C133,165.1 130.6,171.2 127.1,175.3C123.5,179.4 117.4,183.2 111.6,184.7C105.8,186.3 98.2,186.3 92.4,184.7C86.6,183.2 80.5,179.4 76.9,175.3C73.4,171.2 71,165.1 71,160C71,154.9 73.4,148.8 76.9,144.7C80.5,140.6 86.6,136.8 92.4,135.3C98.2,133.7 105.8,133.7 111.6,135.3C117.4,136.8 123.5,140.6 127.1,144.7C130.6,148.8 133,154.9 133,160Z" fill="#c8c8c8"/>
<path d="M336,60C336,65.9 334.6,72.9 332.6,77.6C330.5,82.4 326.9,86.7 323.6,88.5C320.2,90.3 315.8,90.3 312.4,88.5C309.1,86.7 305.5,82.4 303.4,77.6C301.4,72.9 300,65.9 300,60C300,54.1 301.4,47.1 303.4,42.4C305.5,37.6 309.1,33.3 312.4,31.5C315.8,29.7 320.2,29.7 323.6,31.5C326.9,33.3 330.5,37.6 332.6,42.4C334.6,47.1 336,54.1 336,60Z" fill="#c8c8c8"/>
<path d="M261,147C261,148.6 260.2,150.4 258.9,151.7C257.6,153 255.4,154.1 253.4,154.6C251.3,155.1 248.7,155.1 246.6,154.6C244.6,154.1 242.4,153 241.1,151.7C239.8,150.4 239,148.6 239,147C239,145.4 239.8,143.6 241.1,142.3C242.4,141 244.6,139.9 246.6,139.4C248.7,138.9 251.3,138.9 253.4,139.4C255.4,139.9 257.6,141 258.9,142.3C260.2,143.6 261,145.4 261,147Z" fill="#c8c8c8"/>
<path d="M202.6,203.5C203.6,208.9 202.8,215.7 200.6,220.6C198.4,225.4 194,230.3 189.5,232.8C185.1,235.3 178.8,236.4 173.7,235.6C168.6,234.8 162.9,231.7 159.1,227.9C155.4,224 152.3,217.9 151.4,212.5C150.4,207.1 151.2,200.3 153.4,195.4C155.6,190.6 160,185.7 164.5,183.2C168.9,180.7 175.2,179.6 180.3,180.4C185.4,181.2 191.1,184.3 194.9,188.1C198.6,192 201.7,198.1 202.6,203.5Z" fill="#c8c8c8"/>
<path d="M342,205C342,211.3 340.5,218.7 338.2,223.8C335.9,228.9 331.9,233.5 328.2,235.4C324.5,237.4 319.5,237.4 315.8,235.4C312.1,233.5 308.1,228.9 305.8,223.8C303.5,218.7 302,211.3 302,205C302,198.7 303.5,191.3 305.8,186.2C308.1,181.1 312.1,176.5 315.8,174.6C319.5,172.6 324.5,172.6 328.2,174.6C331.9,176.5 335.9,181.1 338.2,186.2C340.5,191.3 342,198.7 342,205Z" fill="#c8c8c8"/>
<path d="M32,203C32,205.4 30.9,208.2 29.1,210.1C27.4,212 24.4,213.7 21.6,214.4C18.8,215.1 15.2,215.1 12.4,214.4C9.6,213.7 6.6,212 4.9,210.1C3.1,208.2 2,205.4 2,203C2,200.6 3.1,197.8 4.9,195.9C6.6,194 9.6,192.3 12.4,191.6C15.2,190.9 18.8,190.9 21.6,191.6C24.4,192.3 27.4,194 29.1,195.9C30.9,197.8 32,200.6 32,203Z" fill="#c8c8c8"/>
<path d="M84,249C84,253.1 82,258 79,261.3C76,264.7 70.9,267.7 66,269C61.2,270.2 54.8,270.2 50,269C45.1,267.7 40,264.7 37,261.3C34,258 32,253.1 32,249C32,244.9 34,240 37,236.7C40,233.3 45.1,230.3 50,229C54.8,227.8 61.2,227.8 66,229C70.9,230.3 76,233.3 79,236.7C82,240 84,244.9 84,249Z" fill="#c8c8c8"/>
<path d="M112,285C112,289.3 110.7,294.4 108.8,297.9C106.8,301.4 103.4,304.6 100.3,305.9C97.1,307.3 92.9,307.3 89.7,305.9C86.6,304.6 83.2,301.4 81.2,297.9C79.3,294.4 78,289.3 78,285C78,280.7 79.3,275.6 81.2,272.1C83.2,268.6 86.6,265.4 89.7,264.1C92.9,262.7 97.1,262.7 100.3,264.1C103.4,265.4 106.8,268.6 108.8,272.1C110.7,275.6 112,280.7 112,285Z" fill="#c8c8c8"/>
<path d="M151,305C151,310.9 150.3,317.9 149.3,322.6C148.2,327.4 146.5,331.7 144.8,333.5C143.1,335.3 140.9,335.3 139.2,333.5C137.5,331.7 135.8,327.4 134.7,322.6C133.7,317.9 133,310.9 133,305C133,299.1 133.7,292.1 134.7,287.4C135.8,282.6 137.5,278.3 139.2,276.5C140.9,274.7 143.1,274.7 144.8,276.5C146.5,278.3 148.2,282.6 149.3,287.4C150.3,292.1 151,299.1 151,305Z" fill="#c8c8c8"/>
<path d="M235,318C235,321.9 232.7,326.6 229.3,329.8C225.8,332.9 219.9,335.8 214.3,337C208.7,338.2 201.3,338.2 195.7,337C190.1,335.8 184.2,332.9 180.7,329.8C177.3,326.6 175,321.9 175,318C175,314.1 177.3,309.4 180.7,306.2C184.2,303.1 190.1,300.2 195.7,299C201.3,297.8 208.7,297.8 214.3,299C219.9,300.2 225.8,303.1 229.3,306.2C232.7,309.4 235,314.1 235,318Z" fill="#c8c8c8"/>
<path d="M30,335C30,337.9 28.5,341.4 26.2,343.8C23.9,346.2 19.9,348.4 16.2,349.3C12.5,350.2 7.5,350.2 3.8,349.3C0.1,348.4 -3.9,346.2 -6.2,343.8C-8.5,341.4 -10,337.9 -10,335C-10,332.1 -8.5,328.6 -6.2,326.2C-3.9,323.8 0.1,321.6 3.8,320.7C7.5,319.8 12.5,319.8 16.2,320.7C19.9,321.6 23.9,323.8 26.2,326.2C28.5,328.6 30,332.1 30,335Z" fill="#c8c8c8"/>
<path d="M265,-10C275.8,-12.3 323.3,-12.5 335,-10C346.7,-7.5 342.5,1.7 335,5C327.5,8.3 300.8,10.2 290,10C279.2,9.8 274.2,7.3 270,4C265.8,0.7 254.2,-7.7 265,-10Z" fill="#c8c8c8"/>
<path d="M251,85C251,87.9 249.7,91.4 247.8,93.8C245.8,96.2 242.4,98.4 239.3,99.3C236.1,100.2 231.9,100.2 228.7,99.3C225.6,98.4 222.2,96.2 220.2,93.8C218.3,91.4 217,87.9 217,85C217,82.1 218.3,78.6 220.2,76.2C222.2,73.8 225.6,71.6 228.7,70.7C231.9,69.8 236.1,69.8 239.3,70.7C242.4,71.6 245.8,73.8 247.8,76.2C249.7,78.6 251,82.1 251,85Z" fill="#9a9a9a"/>
</g>
<rect x="917.5" y="368" width="92" height="9" fill="#fff"/>
<text transform="translate(929.3,404) scale(1.0763,1)" font-size="28.5" fill="#fff">5μm</text>
</g>
<g clip-path="url(#cp3)">
<rect x="1034" y="91.8" width="326" height="326" fill="#868686"/>
<g transform="translate(1034,91.8)" filter="url(#bl)">
<path d="M28,18C28,21.9 26.8,26.6 24.9,29.8C23.1,32.9 19.9,35.8 16.9,37C14,38.2 10,38.2 7.1,37C4.1,35.8 0.9,32.9 -0.9,29.8C-2.8,26.6 -4,21.9 -4,18C-4,14.1 -2.8,9.4 -0.9,6.2C0.9,3.1 4.1,0.2 7.1,-1C10,-2.2 14,-2.2 16.9,-1C19.9,0.2 23.1,3.1 24.9,6.2C26.8,9.4 28,14.1 28,18Z" fill="#737373"/>
<path d="M125.5,27.9C124.9,31 121.8,34.2 117.5,36C113.2,37.9 106.1,39 99.7,38.8C93.3,38.7 85.1,37.2 79,35.2C72.9,33.1 66.7,29.7 63.3,26.5C59.9,23.3 58,19.2 58.5,16.1C59.1,13 62.2,9.8 66.5,8C70.8,6.1 77.9,5 84.3,5.2C90.7,5.3 98.9,6.8 105,8.8C111.1,10.9 117.3,14.3 120.7,17.5C124.1,20.7 126,24.8 125.5,27.9Z" fill="#737373"/>
<path d="M47,60C47,64.3 45.3,69.4 42.8,72.9C40.3,76.4 35.9,79.6 31.8,80.9C27.7,82.3 22.3,82.3 18.2,80.9C14.1,79.6 9.7,76.4 7.2,72.9C4.7,69.4 3,64.3 3,60C3,55.7 4.7,50.6 7.2,47.1C9.7,43.6 14.1,40.4 18.2,39.1C22.3,37.7 27.7,37.7 31.8,39.1C35.9,40.4 40.3,43.6 42.8,47.1C45.3,50.6 47,55.7 47,60Z" fill="#909090"/>
<path d="M153.9,63C152.9,64.7 150.7,66.1 148.3,66.6C145.9,67 142.4,66.7 139.5,65.7C136.6,64.7 133.2,62.8 131,60.8C128.7,58.7 126.7,55.9 125.9,53.6C125,51.3 125.2,48.7 126.1,47C127.1,45.3 129.3,43.9 131.7,43.4C134.1,43 137.6,43.3 140.5,44.3C143.4,45.3 146.8,47.2 149,49.2C151.3,51.3 153.3,54.1 154.1,56.4C155,58.7 154.8,61.3 153.9,63Z" fill="#757575"/>
<path d="M247,175C247,180.9 246.1,187.9 244.7,192.6C243.3,197.4 240.9,201.7 238.7,203.5C236.5,205.3 233.5,205.3 231.3,203.5C229.1,201.7 226.7,197.4 225.3,192.6C223.9,187.9 223,180.9 223,175C223,169.1 223.9,162.1 225.3,157.4C226.7,152.6 229.1,148.3 231.3,146.5C233.5,144.7 236.5,144.7 238.7,146.5C240.9,148.3 243.3,152.6 244.7,157.4C246.1,162.1 247,169.1 247,175Z" fill="#777777"/>
<path d="M172,30C173.2,23.7 179.5,18.7 185,17C190.5,15.3 198.3,15.3 205,20C211.7,24.7 219.5,35.8 225,45C230.5,54.2 236.2,66.7 238,75C239.8,83.3 238.7,90.8 236,95C233.3,99.2 228,102.2 222,100C216,97.8 207.3,89.5 200,82C192.7,74.5 182.7,63.7 178,55C173.3,46.3 170.8,36.3 172,30Z" fill="#636363" stroke="#636363" stroke-width="31.4" stroke-linejoin="round"/>
<path d="M331.1,34C334.3,39.6 336.7,47.1 337.1,52.9C337.5,58.7 336.1,65 333.6,68.8C331,72.6 326.4,75.3 321.8,75.6C317.3,75.9 311.1,74 306.3,70.7C301.5,67.4 296.2,61.6 292.9,56C289.7,50.4 287.3,42.9 286.9,37.1C286.5,31.3 287.9,25 290.4,21.2C293,17.4 297.6,14.7 302.2,14.4C306.7,14.1 312.9,16 317.7,19.3C322.5,22.6 327.8,28.4 331.1,34Z" fill="#636363" stroke="#636363" stroke-width="31.4" stroke-linejoin="round"/>
<path d="M71,17C71,18.6 70.3,20.4 69.3,21.7C68.2,23 66.5,24.1 64.8,24.6C63.1,25.1 60.9,25.1 59.2,24.6C57.5,24.1 55.8,23 54.7,21.7C53.7,20.4 53,18.6 53,17C53,15.4 53.7,13.6 54.7,12.3C55.8,11 57.5,9.9 59.2,9.4C60.9,8.9 63.1,8.9 64.8,9.4C66.5,9.9 68.2,11 69.3,12.3C70.3,13.6 71,15.4 71,17Z" fill="#636363" stroke="#636363" stroke-width="15.7" stroke-linejoin="round"/>
<path d="M62,100C63.3,95.8 66.2,91.3 70,90C73.8,88.7 80,90.7 85,92C90,93.3 95,97.5 100,98C105,98.5 110.8,96.3 115,95C119.2,93.7 120.8,88.3 125,90C129.2,91.7 136.3,99.2 140,105C143.7,110.8 145.7,118.3 147,125C148.3,131.7 149.2,140.3 148,145C146.8,149.7 144.7,152.5 140,153C135.3,153.5 126.7,151 120,148C113.3,145 107.5,138.8 100,135C92.5,131.2 81.3,128.3 75,125C68.7,121.7 64.2,119.2 62,115C59.8,110.8 60.7,104.2 62,100Z" fill="#636363" stroke="#636363" stroke-width="31.4" stroke-linejoin="round"/>
<path d="M215.4,145.1C216.6,149.8 216.7,155.8 215.7,160.2C214.6,164.6 211.9,169.1 208.8,171.4C205.8,173.8 201.3,175 197.5,174.5C193.7,173.9 189.1,171.4 186,168.2C182.8,164.9 179.9,159.6 178.6,154.9C177.4,150.2 177.3,144.2 178.3,139.8C179.4,135.4 182.1,130.9 185.2,128.6C188.2,126.2 192.7,125 196.5,125.5C200.3,126.1 204.9,128.6 208,131.8C211.2,135.1 214.1,140.4 215.4,145.1Z" fill="#636363" stroke="#636363" stroke-width="24.6" stroke-linejoin="round"/>
<path d="M240,125C240.8,119.2 249.2,109.2 255,105C260.8,100.8 269.2,99.5 275,100C280.8,100.5 287.8,103 290,108C292.2,113 290.5,124.2 288,130C285.5,135.8 281.3,141.3 275,143C268.7,144.7 255.8,143 250,140C244.2,137 239.2,130.8 240,125Z" fill="#636363" stroke="#636363" stroke-width="24.6" stroke-linejoin="round"/>
<path d="M252,180C254,175.3 257.3,170.3 262,172C266.7,173.7 273.7,183.7 280,190C286.3,196.3 298.3,205.3 300,210C301.7,214.7 296.3,217.2 290,218C283.7,218.8 268.7,218 262,215C255.3,212 251.7,205.8 250,200C248.3,194.2 250,184.7 252,180Z" fill="#636363" stroke="#636363" stroke-width="31.4" stroke-linejoin="round"/>
<path d="M92,205C92.8,200 93.7,200 100,200C106.3,200 120,200.8 130,205C140,209.2 153,217.5 160,225C167,232.5 170.7,242.8 172,250C173.3,257.2 171.7,263.3 168,268C164.3,272.7 156.3,277.3 150,278C143.7,278.7 136.7,276.3 130,272C123.3,267.7 115.8,259 110,252C104.2,245 98,237.8 95,230C92,222.2 91.2,210 92,205Z" fill="#636363" stroke="#636363" stroke-width="49.3" stroke-linejoin="round"/>
<path d="M47,245C47,250.5 44.3,257 40.3,261.5C36.3,265.9 29.3,269.9 22.8,271.6C16.3,273.3 7.7,273.3 1.2,271.6C-5.3,269.9 -12.3,265.9 -16.3,261.5C-20.3,257 -23,250.5 -23,245C-23,239.5 -20.3,233 -16.3,228.5C-12.3,224.1 -5.3,220.1 1.2,218.4C7.7,216.7 16.3,216.7 22.8,218.4C29.3,220.1 36.3,224.1 40.3,228.5C44.3,233 47,239.5 47,245Z" fill="#636363" stroke="#636363" stroke-width="26.9" stroke-linejoin="round"/>
<path d="M12,150C12,157.8 10.5,167.2 8.2,173.5C5.9,179.9 1.9,185.6 -1.8,188C-5.5,190.5 -10.5,190.5 -14.2,188C-17.9,185.6 -21.9,179.9 -24.2,173.5C-26.5,167.2 -28,157.8 -28,150C-28,142.2 -26.5,132.8 -24.2,126.5C-21.9,120.1 -17.9,114.4 -14.2,112C-10.5,109.5 -5.5,109.5 -1.8,112C1.9,114.4 5.9,120.1 8.2,126.5C10.5,132.8 12,142.2 12,150Z" fill="#636363" stroke="#636363" stroke-width="26.9" stroke-linejoin="round"/>
<path d="M80,322C80,325.5 77,329.7 72.4,332.6C67.8,335.4 59.8,338 52.4,339.1C44.9,340.2 35.1,340.2 27.6,339.1C20.2,338 12.2,335.4 7.6,332.6C3,329.7 0,325.5 0,322C-0,318.5 3,314.3 7.6,311.4C12.2,308.6 20.2,306 27.6,304.9C35.1,303.8 44.9,303.8 52.4,304.9C59.8,306 67.8,308.6 72.4,311.4C77,314.3 80,318.5 80,322Z" fill="#636363" stroke="#636363" stroke-width="26.9" stroke-linejoin="round"/>
<path d="M135,322C135,324.7 133.1,328 130.2,330.2C127.3,332.4 122.4,334.5 117.7,335.3C113.1,336.2 106.9,336.2 102.3,335.3C97.6,334.5 92.7,332.4 89.8,330.2C86.9,328 85,324.7 85,322C85,319.3 86.9,316 89.8,313.8C92.7,311.6 97.6,309.5 102.3,308.7C106.9,307.8 113.1,307.8 117.7,308.7C122.4,309.5 127.3,311.6 130.2,313.8C133.1,316 135,319.3 135,322Z" fill="#636363" stroke="#636363" stroke-width="22.4" stroke-linejoin="round"/>
<path d="M345,125C345,128.9 344.2,133.6 343.1,136.8C341.9,139.9 340,142.8 338.1,144C336.2,145.2 333.8,145.2 331.9,144C330,142.8 328.1,139.9 326.9,136.8C325.8,133.6 325,128.9 325,125C325,121.1 325.8,116.4 326.9,113.2C328.1,110.1 330,107.2 331.9,106C333.8,104.8 336.2,104.8 338.1,106C340,107.2 341.9,110.1 343.1,113.2C344.2,116.4 345,121.1 345,125Z" fill="#636363" stroke="#636363" stroke-width="22.4" stroke-linejoin="round"/>
<path d="M172,30C173.2,23.7 179.5,18.7 185,17C190.5,15.3 198.3,15.3 205,20C211.7,24.7 219.5,35.8 225,45C230.5,54.2 236.2,66.7 238,75C239.8,83.3 238.7,90.8 236,95C233.3,99.2 228,102.2 222,100C216,97.8 207.3,89.5 200,82C192.7,74.5 182.7,63.7 178,55C173.3,46.3 170.8,36.3 172,30Z" fill="#afafaf"/>
<path d="M331.1,34C334.3,39.6 336.7,47.1 337.1,52.9C337.5,58.7 336.1,65 333.6,68.8C331,72.6 326.4,75.3 321.8,75.6C317.3,75.9 311.1,74 306.3,70.7C301.5,67.4 296.2,61.6 292.9,56C289.7,50.4 287.3,42.9 286.9,37.1C286.5,31.3 287.9,25 290.4,21.2C293,17.4 297.6,14.7 302.2,14.4C306.7,14.1 312.9,16 317.7,19.3C322.5,22.6 327.8,28.4 331.1,34Z" fill="#afafaf"/>
<path d="M71,17C71,18.6 70.3,20.4 69.3,21.7C68.2,23 66.5,24.1 64.8,24.6C63.1,25.1 60.9,25.1 59.2,24.6C57.5,24.1 55.8,23 54.7,21.7C53.7,20.4 53,18.6 53,17C53,15.4 53.7,13.6 54.7,12.3C55.8,11 57.5,9.9 59.2,9.4C60.9,8.9 63.1,8.9 64.8,9.4C66.5,9.9 68.2,11 69.3,12.3C70.3,13.6 71,15.4 71,17Z" fill="#afafaf"/>
<path d="M62,100C63.3,95.8 66.2,91.3 70,90C73.8,88.7 80,90.7 85,92C90,93.3 95,97.5 100,98C105,98.5 110.8,96.3 115,95C119.2,93.7 120.8,88.3 125,90C129.2,91.7 136.3,99.2 140,105C143.7,110.8 145.7,118.3 147,125C148.3,131.7 149.2,140.3 148,145C146.8,149.7 144.7,152.5 140,153C135.3,153.5 126.7,151 120,148C113.3,145 107.5,138.8 100,135C92.5,131.2 81.3,128.3 75,125C68.7,121.7 64.2,119.2 62,115C59.8,110.8 60.7,104.2 62,100Z" fill="#afafaf"/>
<path d="M215.4,145.1C216.6,149.8 216.7,155.8 215.7,160.2C214.6,164.6 211.9,169.1 208.8,171.4C205.8,173.8 201.3,175 197.5,174.5C193.7,173.9 189.1,171.4 186,168.2C182.8,164.9 179.9,159.6 178.6,154.9C177.4,150.2 177.3,144.2 178.3,139.8C179.4,135.4 182.1,130.9 185.2,128.6C188.2,126.2 192.7,125 196.5,125.5C200.3,126.1 204.9,128.6 208,131.8C211.2,135.1 214.1,140.4 215.4,145.1Z" fill="#afafaf"/>
<path d="M240,125C240.8,119.2 249.2,109.2 255,105C260.8,100.8 269.2,99.5 275,100C280.8,100.5 287.8,103 290,108C292.2,113 290.5,124.2 288,130C285.5,135.8 281.3,141.3 275,143C268.7,144.7 255.8,143 250,140C244.2,137 239.2,130.8 240,125Z" fill="#afafaf"/>
<path d="M252,180C254,175.3 257.3,170.3 262,172C266.7,173.7 273.7,183.7 280,190C286.3,196.3 298.3,205.3 300,210C301.7,214.7 296.3,217.2 290,218C283.7,218.8 268.7,218 262,215C255.3,212 251.7,205.8 250,200C248.3,194.2 250,184.7 252,180Z" fill="#afafaf"/>
<path d="M92,205C92.8,200 93.7,200 100,200C106.3,200 120,200.8 130,205C140,209.2 153,217.5 160,225C167,232.5 170.7,242.8 172,250C173.3,257.2 171.7,263.3 168,268C164.3,272.7 156.3,277.3 150,278C143.7,278.7 136.7,276.3 130,272C123.3,267.7 115.8,259 110,252C104.2,245 98,237.8 95,230C92,222.2 91.2,210 92,205Z" fill="#afafaf"/>
<path d="M47,245C47,250.5 44.3,257 40.3,261.5C36.3,265.9 29.3,269.9 22.8,271.6C16.3,273.3 7.7,273.3 1.2,271.6C-5.3,269.9 -12.3,265.9 -16.3,261.5C-20.3,257 -23,250.5 -23,245C-23,239.5 -20.3,233 -16.3,228.5C-12.3,224.1 -5.3,220.1 1.2,218.4C7.7,216.7 16.3,216.7 22.8,218.4C29.3,220.1 36.3,224.1 40.3,228.5C44.3,233 47,239.5 47,245Z" fill="#afafaf"/>
<path d="M12,150C12,157.8 10.5,167.2 8.2,173.5C5.9,179.9 1.9,185.6 -1.8,188C-5.5,190.5 -10.5,190.5 -14.2,188C-17.9,185.6 -21.9,179.9 -24.2,173.5C-26.5,167.2 -28,157.8 -28,150C-28,142.2 -26.5,132.8 -24.2,126.5C-21.9,120.1 -17.9,114.4 -14.2,112C-10.5,109.5 -5.5,109.5 -1.8,112C1.9,114.4 5.9,120.1 8.2,126.5C10.5,132.8 12,142.2 12,150Z" fill="#afafaf"/>
<path d="M80,322C80,325.5 77,329.7 72.4,332.6C67.8,335.4 59.8,338 52.4,339.1C44.9,340.2 35.1,340.2 27.6,339.1C20.2,338 12.2,335.4 7.6,332.6C3,329.7 0,325.5 0,322C-0,318.5 3,314.3 7.6,311.4C12.2,308.6 20.2,306 27.6,304.9C35.1,303.8 44.9,303.8 52.4,304.9C59.8,306 67.8,308.6 72.4,311.4C77,314.3 80,318.5 80,322Z" fill="#afafaf"/>
<path d="M135,322C135,324.7 133.1,328 130.2,330.2C127.3,332.4 122.4,334.5 117.7,335.3C113.1,336.2 106.9,336.2 102.3,335.3C97.6,334.5 92.7,332.4 89.8,330.2C86.9,328 85,324.7 85,322C85,319.3 86.9,316 89.8,313.8C92.7,311.6 97.6,309.5 102.3,308.7C106.9,307.8 113.1,307.8 117.7,308.7C122.4,309.5 127.3,311.6 130.2,313.8C133.1,316 135,319.3 135,322Z" fill="#afafaf"/>
<path d="M345,125C345,128.9 344.2,133.6 343.1,136.8C341.9,139.9 340,142.8 338.1,144C336.2,145.2 333.8,145.2 331.9,144C330,142.8 328.1,139.9 326.9,136.8C325.8,133.6 325,128.9 325,125C325,121.1 325.8,116.4 326.9,113.2C328.1,110.1 330,107.2 331.9,106C333.8,104.8 336.2,104.8 338.1,106C340,107.2 341.9,110.1 343.1,113.2C344.2,116.4 345,121.1 345,125Z" fill="#afafaf"/>
<path d="M115,92C115,93.2 114.1,94.6 112.7,95.5C111.3,96.5 108.9,97.3 106.7,97.7C104.5,98.1 101.5,98.1 99.3,97.7C97.1,97.3 94.7,96.5 93.3,95.5C91.9,94.6 91,93.2 91,92C91,90.8 91.9,89.4 93.3,88.5C94.7,87.5 97.1,86.7 99.3,86.3C101.5,85.9 104.5,85.9 106.7,86.3C108.9,86.7 111.3,87.5 112.7,88.5C114.1,89.4 115,90.8 115,92Z" fill="#636363"/>
</g>
<rect x="1257.5" y="368" width="92" height="9" fill="#fff"/>
<text transform="translate(1269.3,404) scale(1.0763,1)" font-size="28.5" fill="#fff">5μm</text>
</g>
<text transform="translate(2.2,46.7) scale(0.9855,1)" font-size="59.5" fill="#000">(a)</text>
<text transform="translate(103,467.8) scale(0.9751,1)" font-size="43.5" fill="#000">CCN+</text>
<text transform="translate(447,468.7) scale(0.9654,1)" font-size="43.5" fill="#000">CCN-</text>
<text transform="translate(751.2,467.9) scale(0.9674,1)" font-size="43.5" fill="#000">Silicone+</text>
<text transform="translate(1132.9,470.9) scale(0.9596,1)" font-size="43.5" fill="#000">Auto</text>
<text transform="translate(2.2,558.9) scale(0.9855,1)" font-size="59.5" fill="#000">(b)</text>
<path d="M318.8,547.5V1386.2H1196.4" fill="none" stroke="#000" stroke-width="3.2"/>
<text transform="translate(203.3,597.4) scale(0.8686,1)" font-size="50" fill="#000">0.95</text>
<text transform="translate(199.2,861.7) scale(0.9966,1)" font-size="46" fill="#000">0.75</text>
<text transform="translate(202.1,1129.7) scale(0.9978,1)" font-size="46" fill="#000">0.55</text>
<text transform="translate(202.1,1384.6) scale(0.9978,1)" font-size="46" fill="#000">0.35</text>
<text x="308.9" y="1432.4" font-size="44.5" fill="#000">1</text>
<text x="481.2" y="1432.4" font-size="44.5" fill="#000">2</text>
<text x="650.2" y="1432.4" font-size="44.5" fill="#000">3</text>
<text x="810.3" y="1432.4" font-size="44.5" fill="#000">4</text>
<text x="980.1" y="1432.4" font-size="44.5" fill="#000">5</text>
<text x="1145.4" y="1432.4" font-size="44.5" fill="#000">6</text>
<text transform="translate(402.1,1505.7) scale(1.0049,1)" font-size="68.3" fill="#000">Axon diameter(μm)</text>
<text transform="translate(164.8,1090.9) rotate(-90) scale(0.96,1)" font-size="75">G-ratio</text>
<defs><circle id="o" r="4.4" fill="#FCBD12" stroke="#2a2208" stroke-width="0.9"/><path id="d" d="M-5.1,0L0,-5.1L5.1,0L0,5.1Z" fill="#9A9A9A" stroke="#2a2a2a" stroke-width="0.9"/><rect id="s" x="-4.4" y="-4.4" width="8.8" height="8.8" fill="#13A6E8" stroke="#10324a" stroke-width="0.9"/><path id="t" d="M-5,4L0,-4.6L5,4Z" fill="#10A450" stroke="#0c2a14" stroke-width="0.9"/></defs>
<g>
<use href="#t" x="700.2" y="1145.5"/>
<use href="#t" x="443.5" y="1081.9"/>
<use href="#t" x="605.2" y="1068.7"/>
<use href="#t" x="550.5" y="1027.8"/>
<use href="#t" x="809.7" y="1039"/>
<use href="#t" x="914.5" y="1003.2"/>
<use href="#t" x="824" y="988.6"/>
<use href="#t" x="630.2" y="1021.4"/>
<use href="#t" x="635.1" y="1104.5"/>
<use href="#t" x="769.2" y="1102.6"/>
<use href="#t" x="832.4" y="996.9"/>
<use href="#t" x="614" y="1013.4"/>
<use href="#t" x="852.2" y="911.2"/>
<use href="#t" x="675.1" y="1033.3"/>
<use href="#t" x="423.4" y="1097.4"/>
<use href="#t" x="856.4" y="1060.4"/>
<use href="#t" x="595.9" y="1055.6"/>
<use href="#t" x="1055.7" y="874.7"/>
<use href="#t" x="925.9" y="1023.1"/>
<use href="#t" x="451.4" y="1082.4"/>
<use href="#t" x="880.1" y="954.6"/>
<use href="#t" x="658.9" y="959.1"/>
<use href="#t" x="427" y="1043.9"/>
<use href="#t" x="838.7" y="1102.1"/>
<use href="#t" x="454.5" y="1067.1"/>
<use href="#t" x="489.3" y="1070.5"/>
<use href="#t" x="662.9" y="1170.5"/>
<use href="#t" x="364.9" y="1117.4"/>
<use href="#t" x="652.2" y="978.1"/>
<use href="#t" x="551.3" y="913.5"/>
<use href="#t" x="601.1" y="1032.3"/>
<use href="#t" x="511.6" y="1064.9"/>
<use href="#t" x="1079.3" y="985.3"/>
<use href="#t" x="1002" y="986.4"/>
<use href="#t" x="832.1" y="1174.3"/>
<use href="#t" x="579.3" y="1134.7"/>
<use href="#t" x="791.5" y="1012.8"/>
<use href="#t" x="821.2" y="880.1"/>
<use href="#t" x="519.7" y="1220.5"/>
<use href="#t" x="687.1" y="865.5"/>
<use href="#t" x="410.9" y="966.3"/>
<use href="#t" x="660.6" y="1012.5"/>
<use href="#t" x="621.7" y="1214.1"/>
<use href="#t" x="801.7" y="1048.7"/>
<use href="#t" x="555.4" y="1243"/>
<use href="#t" x="714.3" y="970.5"/>
<use href="#t" x="601.1" y="1253.3"/>
<use href="#t" x="523.4" y="1287.3"/>
<use href="#t" x="646.6" y="1291.2"/>
<use href="#t" x="595.9" y="1034.1"/>
<use href="#t" x="398.3" y="1156.8"/>
<use href="#t" x="506.6" y="1228.3"/>
<use href="#t" x="367.2" y="1122.5"/>
<use href="#t" x="978.5" y="926.3"/>
<use href="#t" x="630" y="987"/>
<use href="#t" x="540.3" y="1038.4"/>
<use href="#t" x="841.2" y="881.6"/>
<use href="#t" x="567.8" y="986.2"/>
<use href="#t" x="773.6" y="913.9"/>
<use href="#t" x="402.5" y="1203.6"/>
<use href="#t" x="878.2" y="948.9"/>
<use href="#t" x="529.4" y="921.7"/>
<use href="#t" x="439.8" y="1375.2"/>
<use href="#t" x="428.5" y="1195"/>
<use href="#t" x="439" y="1144.6"/>
<use href="#t" x="449.7" y="1096.2"/>
<use href="#t" x="954.8" y="895.2"/>
<use href="#t" x="667.1" y="944.6"/>
<use href="#t" x="441.1" y="1369.6"/>
<use href="#t" x="790.5" y="1159.6"/>
<use href="#t" x="841.9" y="956.4"/>
<use href="#t" x="664.3" y="1166.3"/>
<use href="#t" x="795.1" y="1111.9"/>
<use href="#t" x="406.4" y="1294.1"/>
<use href="#t" x="693.6" y="1187.8"/>
<use href="#t" x="756.4" y="1050"/>
<use href="#t" x="744.4" y="1069.7"/>
<use href="#t" x="546.6" y="791"/>
<use href="#t" x="657.3" y="1073.2"/>
<use href="#t" x="691.7" y="932.7"/>
<use href="#t" x="686.8" y="975.1"/>
<use href="#t" x="1066" y="749.7"/>
<use href="#t" x="857" y="908.1"/>
<use href="#t" x="384.2" y="1310.7"/>
<use href="#t" x="760.6" y="1025.5"/>
<use href="#t" x="670" y="1012.6"/>
<use href="#t" x="1007.2" y="812.8"/>
<use href="#t" x="665.5" y="1118.7"/>
<use href="#t" x="816.5" y="1024.7"/>
<use href="#t" x="1107.2" y="784.3"/>
<use href="#t" x="456.1" y="1124.5"/>
<use href="#t" x="509.5" y="967.9"/>
<use href="#t" x="718.5" y="1044.4"/>
<use href="#t" x="555.1" y="1171.6"/>
<use href="#t" x="701.9" y="1051.2"/>
<use href="#t" x="400.5" y="1059.5"/>
<use href="#t" x="424.9" y="1333.8"/>
<use href="#t" x="670" y="1031"/>
<use href="#t" x="831.9" y="1009.2"/>
<use href="#t" x="465.4" y="1132.9"/>
<use href="#t" x="416.7" y="1146.7"/>
<use href="#t" x="825.6" y="1097.3"/>
<use href="#t" x="545.2" y="1092.4"/>
<use href="#t" x="827" y="1088.3"/>
<use href="#t" x="751.4" y="1118.6"/>
<use href="#t" x="517.6" y="1000.4"/>
<use href="#t" x="852.1" y="1187.3"/>
<use href="#t" x="571.8" y="1022"/>
<use href="#t" x="1005.8" y="972.3"/>
<use href="#t" x="805.8" y="942.2"/>
<use href="#t" x="392.9" y="1224.8"/>
<use href="#t" x="424.4" y="1211.7"/>
<use href="#t" x="412.4" y="1344.9"/>
<use href="#t" x="620" y="1035"/>
<use href="#t" x="795.1" y="962"/>
<use href="#t" x="597.7" y="1016.5"/>
<use href="#t" x="1095.7" y="858.1"/>
<use href="#t" x="662.7" y="803.7"/>
<use href="#t" x="647.7" y="945.8"/>
<use href="#t" x="565.4" y="1079.1"/>
<use href="#t" x="647.5" y="1051.5"/>
<use href="#t" x="655.3" y="1018.5"/>
<use href="#t" x="460.6" y="1050.3"/>
<use href="#t" x="747.2" y="1084.2"/>
<use href="#t" x="690.2" y="1104.9"/>
<use href="#t" x="568.5" y="1071"/>
<use href="#t" x="627.9" y="1225.2"/>
<use href="#t" x="721.1" y="1010"/>
<use href="#t" x="368.8" y="1247.4"/>
<use href="#t" x="391.2" y="1224.3"/>
<use href="#t" x="543.5" y="1181.9"/>
<use href="#t" x="563.5" y="919.1"/>
<use href="#t" x="799.5" y="997.2"/>
<use href="#t" x="948.7" y="958.9"/>
<use href="#t" x="411.7" y="1200.6"/>
<use href="#t" x="378.2" y="1061.5"/>
<use href="#t" x="790.6" y="1072.1"/>
<use href="#t" x="706.7" y="901.4"/>
<use href="#t" x="481.9" y="1035.4"/>
<use href="#t" x="895.6" y="910.5"/>
<use href="#t" x="491.2" y="994.5"/>
<use href="#t" x="609.6" y="1108.6"/>
<use href="#t" x="550.4" y="1007.1"/>
<use href="#t" x="374.3" y="1121.1"/>
<use href="#t" x="1023.9" y="901"/>
<use href="#t" x="803.2" y="703.8"/>
<use href="#t" x="488.3" y="1004.7"/>
<use href="#t" x="676.6" y="1028.1"/>
<use href="#t" x="662.9" y="912.3"/>
<use href="#t" x="734.8" y="908.4"/>
<use href="#t" x="379.9" y="1067.4"/>
<use href="#t" x="401.5" y="1178"/>
<use href="#t" x="934.8" y="1055.8"/>
<use href="#t" x="701.2" y="772.6"/>
<use href="#t" x="373.1" y="1126.5"/>
<use href="#t" x="725.9" y="1070.3"/>
<use href="#t" x="624.5" y="985.2"/>
<use href="#t" x="610.7" y="1050.5"/>
<use href="#t" x="629.1" y="760.6"/>
<use href="#t" x="841.6" y="1112.5"/>
<use href="#t" x="919.3" y="897"/>
<use href="#t" x="803.9" y="1053.8"/>
<use href="#t" x="516.1" y="1198"/>
<use href="#t" x="859.2" y="985.9"/>
<use href="#t" x="810.1" y="1189.7"/>
<use href="#t" x="691.1" y="1004.1"/>
<use href="#t" x="1066.6" y="813.9"/>
<use href="#t" x="755.5" y="1069"/>
<use href="#t" x="738" y="900"/>
<use href="#t" x="491.2" y="1054.1"/>
<use href="#t" x="612.3" y="1031.7"/>
<use href="#t" x="1038.8" y="863.9"/>
<use href="#t" x="373" y="1104.6"/>
<use href="#t" x="607.2" y="993.2"/>
<use href="#t" x="428.6" y="1052.9"/>
<use href="#t" x="702.9" y="814.4"/>
<use href="#t" x="658.9" y="1121.9"/>
<use href="#t" x="874.1" y="775.6"/>
<use href="#t" x="863.9" y="1065.1"/>
<use href="#t" x="492.5" y="1140.7"/>
<use href="#t" x="711.6" y="979"/>
<use href="#t" x="526.3" y="1065.3"/>
<use href="#t" x="792.5" y="1210.4"/>
<use href="#t" x="609.9" y="907"/>
<use href="#t" x="400.2" y="1150.1"/>
<use href="#t" x="424" y="1127.2"/>
<use href="#t" x="957" y="1169.8"/>
<use href="#t" x="1018" y="978.7"/>
<use href="#t" x="1031.4" y="991.1"/>
<use href="#t" x="663.5" y="1178.1"/>
<use href="#t" x="581.3" y="831.5"/>
<use href="#t" x="761.4" y="1170.6"/>
<use href="#t" x="797.9" y="895.3"/>
<use href="#t" x="848.5" y="1062.2"/>
<use href="#t" x="685.9" y="1126.8"/>
<use href="#t" x="480.8" y="1005.5"/>
<use href="#t" x="827" y="994.6"/>
<use href="#t" x="596.6" y="974.4"/>
<use href="#t" x="963.5" y="917"/>
<use href="#t" x="387.8" y="1271.2"/>
<use href="#t" x="438" y="1077.6"/>
<use href="#t" x="829.7" y="973.3"/>
<use href="#t" x="383.6" y="1027.2"/>
<use href="#t" x="820.4" y="986.8"/>
<use href="#t" x="705.9" y="1113.1"/>
<use href="#t" x="1154.3" y="812.5"/>
<use href="#t" x="766.3" y="1054.9"/>
<use href="#t" x="797.3" y="823.2"/>
<use href="#t" x="590.8" y="1117.9"/>
<use href="#t" x="375.1" y="1236.8"/>
<use href="#t" x="691.2" y="1011.9"/>
<use href="#t" x="817.3" y="1026.5"/>
<use href="#t" x="614.3" y="979.8"/>
<use href="#t" x="483.7" y="1000.7"/>
<use href="#t" x="1077.1" y="773"/>
<use href="#t" x="614.9" y="1071.5"/>
<use href="#t" x="898.2" y="806.5"/>
<use href="#t" x="790" y="945.4"/>
<use href="#t" x="637.5" y="1112.7"/>
<use href="#t" x="1081.8" y="881.2"/>
<use href="#t" x="506.9" y="967"/>
<use href="#t" x="851" y="904.2"/>
<use href="#t" x="634.2" y="1005.2"/>
<use href="#t" x="526.7" y="1013.7"/>
<use href="#t" x="603.4" y="1159"/>
<use href="#t" x="477.3" y="1138.7"/>
<use href="#t" x="867.7" y="1060.7"/>
<use href="#t" x="568.3" y="1086.1"/>
<use href="#t" x="826.1" y="999.9"/>
<use href="#t" x="654.5" y="1130.6"/>
<use href="#t" x="619.3" y="1020.9"/>
<use href="#t" x="589.2" y="1023.3"/>
<use href="#t" x="740.8" y="952.2"/>
<use href="#t" x="810.9" y="954.3"/>
<use href="#t" x="491.5" y="1202.4"/>
<use href="#t" x="764.5" y="953"/>
<use href="#t" x="482.7" y="1000.9"/>
<use href="#t" x="848.9" y="972.5"/>
<use href="#t" x="508.8" y="1129.1"/>
<use href="#t" x="378.5" y="1075.3"/>
<use href="#t" x="774.7" y="1050.4"/>
<use href="#t" x="758.6" y="1047.8"/>
<use href="#t" x="491.5" y="1159.1"/>
<use href="#t" x="745.9" y="1306.5"/>
<use href="#t" x="375" y="1119"/>
<use href="#t" x="602.9" y="920.3"/>
<use href="#t" x="471.4" y="1048"/>
<use href="#t" x="608.1" y="1062.3"/>
<use href="#t" x="570.6" y="875.2"/>
<use href="#t" x="490.3" y="1097.4"/>
<use href="#t" x="931.4" y="926.5"/>
<use href="#t" x="439" y="1166.3"/>
<use href="#t" x="597.8" y="1135.9"/>
<use href="#t" x="685.7" y="1178.1"/>
<use href="#t" x="826" y="1045.1"/>
<use href="#t" x="528.5" y="1065.1"/>
<use href="#t" x="490.3" y="1163.5"/>
<use href="#t" x="974.8" y="817.9"/>
<use href="#t" x="541.7" y="1184.3"/>
<use href="#t" x="679.4" y="1142.3"/>
<use href="#t" x="802.9" y="1088.1"/>
<use href="#t" x="754.4" y="951.1"/>
<use href="#t" x="641.1" y="1058.3"/>
<use href="#t" x="800.5" y="965.7"/>
<use href="#t" x="637" y="1077.1"/>
<use href="#t" x="887.9" y="992.8"/>
<use href="#t" x="426.2" y="1154.2"/>
<use href="#t" x="849.9" y="1100.2"/>
<use href="#t" x="362.3" y="1011.4"/>
<use href="#t" x="713.3" y="1163.7"/>
<use href="#t" x="514.3" y="1286.8"/>
<use href="#t" x="1051.9" y="1013.5"/>
<use href="#t" x="917.8" y="959.1"/>
<use href="#t" x="848.3" y="983.8"/>
<use href="#t" x="799.5" y="848"/>
<use href="#t" x="534.1" y="1190.3"/>
<use href="#t" x="794" y="928"/>
<use href="#t" x="872.4" y="1028.1"/>
<use href="#t" x="402" y="993.7"/>
<use href="#t" x="1093.3" y="1013.1"/>
<use href="#t" x="486.6" y="875"/>
<use href="#t" x="956.2" y="1181.9"/>
<use href="#t" x="1143.9" y="850"/>
<use href="#t" x="589.3" y="1043.6"/>
<use href="#t" x="580.7" y="1141.7"/>
<use href="#t" x="393" y="1381.2"/>
<use href="#t" x="996.2" y="918"/>
<use href="#t" x="971.6" y="885.5"/>
<use href="#t" x="558.8" y="965.2"/>
<use href="#t" x="848.7" y="1073.6"/>
<use href="#t" x="594.3" y="1085.6"/>
<use href="#t" x="556.5" y="1102.6"/>
<use href="#t" x="404.6" y="1132.1"/>
<use href="#t" x="375" y="1080.4"/>
<use href="#t" x="415" y="1181.2"/>
<use href="#t" x="674.2" y="1053.4"/>
<use href="#t" x="655.2" y="930.3"/>
<use href="#t" x="924.6" y="1012.3"/>
<use href="#t" x="552.5" y="1044"/>
<use href="#t" x="765.9" y="1128"/>
<use href="#t" x="691.6" y="1017.3"/>
<use href="#t" x="448.4" y="1166.4"/>
<use href="#t" x="765.8" y="996.4"/>
<use href="#t" x="934" y="839.2"/>
<use href="#t" x="399.6" y="1148.2"/>
<use href="#t" x="366.6" y="1279.7"/>
<use href="#t" x="903.5" y="1068.1"/>
<use href="#t" x="1056.9" y="877.4"/>
<use href="#t" x="662.1" y="1033"/>
<use href="#t" x="796" y="940.6"/>
<use href="#t" x="951.2" y="1032"/>
<use href="#t" x="474.7" y="1105.9"/>
<use href="#t" x="838" y="901.4"/>
<use href="#t" x="594.8" y="924.5"/>
<use href="#t" x="450.9" y="1076.5"/>
<use href="#t" x="800.8" y="1002.2"/>
<use href="#t" x="890.4" y="971.3"/>
<use href="#t" x="1158.3" y="920.9"/>
<use href="#t" x="872.3" y="1007.8"/>
<use href="#t" x="794.6" y="895.6"/>
<use href="#t" x="742.5" y="1003.9"/>
<use href="#t" x="456" y="1037"/>
<use href="#t" x="479" y="972"/>
<use href="#t" x="875.1" y="991.5"/>
<use href="#t" x="373.6" y="1204.7"/>
<use href="#t" x="731.5" y="1209.8"/>
<use href="#t" x="693.9" y="1014"/>
<use href="#t" x="451.8" y="1175.5"/>
<use href="#t" x="826.8" y="963.5"/>
<use href="#t" x="887.9" y="858.8"/>
<use href="#t" x="736.8" y="987.1"/>
<use href="#t" x="985.5" y="845.8"/>
<use href="#t" x="366.2" y="1107"/>
<use href="#t" x="806.5" y="922.2"/>
<use href="#t" x="863.7" y="841"/>
<use href="#t" x="741.1" y="816.2"/>
<use href="#t" x="394.8" y="1152.7"/>
<use href="#t" x="564.1" y="1037.6"/>
<use href="#t" x="363.3" y="1123.8"/>
<use href="#t" x="940.2" y="926.3"/>
<use href="#t" x="851.4" y="1096"/>
<use href="#t" x="994" y="881"/>
<use href="#t" x="1005.1" y="965.9"/>
<use href="#t" x="843.8" y="1034.1"/>
<use href="#t" x="508.3" y="1036.6"/>
<use href="#t" x="859.5" y="1034.3"/>
<use href="#t" x="795.7" y="855.2"/>
<use href="#t" x="818.6" y="969.3"/>
<use href="#t" x="974.6" y="883.2"/>
<use href="#t" x="753.1" y="1045.5"/>
<use href="#t" x="493.1" y="1005.2"/>
<use href="#t" x="363.5" y="1095.5"/>
<use href="#t" x="903.8" y="977.7"/>
<use href="#t" x="486.6" y="1037.1"/>
<use href="#t" x="368.8" y="1193.1"/>
<use href="#t" x="935" y="867.3"/>
<use href="#t" x="644.9" y="941.2"/>
<use href="#t" x="366.3" y="1116.4"/>
<use href="#t" x="903.3" y="1065.7"/>
<use href="#t" x="837.6" y="1045.2"/>
<use href="#t" x="860.1" y="876.3"/>
<use href="#t" x="973.3" y="1029.4"/>
<use href="#t" x="894.8" y="1160.3"/>
<use href="#t" x="711.5" y="1191.9"/>
<use href="#t" x="658" y="1128.6"/>
<use href="#t" x="1085" y="857"/>
<use href="#t" x="620.9" y="995.6"/>
<use href="#t" x="460.9" y="1085.8"/>
<use href="#t" x="370" y="1112"/>
<use href="#t" x="788.9" y="846.7"/>
<use href="#t" x="468.9" y="1253.2"/>
<use href="#t" x="642.6" y="1037.1"/>
<use href="#t" x="736.4" y="1137.6"/>
<use href="#t" x="999.4" y="762.8"/>
<use href="#t" x="763.6" y="980.3"/>
<use href="#t" x="586.3" y="1113.5"/>
<use href="#t" x="542.2" y="1146.2"/>
<use href="#t" x="854.5" y="996.9"/>
<use href="#t" x="909.4" y="938.8"/>
<use href="#t" x="806.8" y="968.6"/>
<use href="#t" x="398.6" y="1104.6"/>
<use href="#t" x="1125.5" y="1017.8"/>
<use href="#t" x="396.7" y="1326.8"/>
<use href="#t" x="609.3" y="1061.4"/>
<use href="#t" x="462.4" y="1086.6"/>
<use href="#t" x="585.5" y="1256.7"/>
<use href="#t" x="705.4" y="1007.9"/>
<use href="#t" x="584.5" y="1110.4"/>
<use href="#t" x="791" y="1209.2"/>
<use href="#t" x="462.9" y="1230.5"/>
<use href="#t" x="607.2" y="772.5"/>
<use href="#t" x="997.8" y="1063.9"/>
<use href="#t" x="796" y="1035.4"/>
<use href="#t" x="373.3" y="1035.4"/>
<use href="#t" x="919.6" y="1060.5"/>
<use href="#t" x="1058.5" y="910.6"/>
<use href="#t" x="457.6" y="1237.3"/>
<use href="#t" x="573.5" y="1181"/>
<use href="#t" x="620.7" y="1027.3"/>
<use href="#t" x="466.4" y="1059.3"/>
<use href="#t" x="854.2" y="849.5"/>
<use href="#t" x="953" y="936.1"/>
<use href="#t" x="831.9" y="1084.8"/>
<use href="#t" x="797.5" y="986.7"/>
<use href="#t" x="1162.3" y="905.9"/>
<use href="#t" x="899.3" y="929.2"/>
<use href="#t" x="534.2" y="1180.4"/>
<use href="#t" x="427.2" y="1098.9"/>
<use href="#t" x="671.1" y="1075.8"/>
<use href="#t" x="773" y="765.8"/>
<use href="#t" x="595.3" y="995.4"/>
<use href="#t" x="801.7" y="986"/>
<use href="#t" x="639" y="1058.9"/>
<use href="#t" x="914.1" y="964.8"/>
<use href="#t" x="755.2" y="1159.1"/>
<use href="#t" x="803.4" y="886.5"/>
<use href="#t" x="604.4" y="1035.4"/>
<use href="#t" x="432.7" y="1118"/>
<use href="#t" x="715.1" y="1118.3"/>
<use href="#t" x="576" y="952.7"/>
<use href="#t" x="805.3" y="1081.1"/>
<use href="#t" x="1016.3" y="788.2"/>
<use href="#t" x="576.6" y="1017.5"/>
<use href="#t" x="430.8" y="1080.3"/>
<use href="#t" x="492.2" y="1344.2"/>
<use href="#t" x="1144.3" y="954.5"/>
<use href="#t" x="1023.6" y="695.5"/>
<use href="#t" x="707.1" y="833"/>
<use href="#t" x="587.7" y="1081.7"/>
<use href="#t" x="425.2" y="1001.6"/>
<use href="#t" x="701.8" y="1091.9"/>
<use href="#t" x="479.7" y="1170.1"/>
<use href="#t" x="757.5" y="1142.1"/>
<use href="#t" x="1092.9" y="915.1"/>
<use href="#t" x="594.1" y="1145.6"/>
<use href="#t" x="942.4" y="906.2"/>
<use href="#t" x="472.2" y="1176"/>
<use href="#t" x="716.8" y="1101.4"/>
<use href="#t" x="894.6" y="801.5"/>
<use href="#t" x="1012.1" y="942.3"/>
<use href="#t" x="619.6" y="831.8"/>
<use href="#t" x="541.5" y="850"/>
<use href="#t" x="839.3" y="949.2"/>
<use href="#t" x="476.3" y="1216.5"/>
<use href="#t" x="540.9" y="1194.8"/>
<use href="#t" x="393.9" y="1094.4"/>
<use href="#t" x="406.1" y="1094.9"/>
<use href="#t" x="1058.1" y="1037.2"/>
<use href="#t" x="702.4" y="873.6"/>
<use href="#t" x="865" y="1080.1"/>
<use href="#t" x="795" y="1114.6"/>
<use href="#t" x="386.3" y="1021.2"/>
<use href="#t" x="751.8" y="978.7"/>
<use href="#t" x="480.4" y="1114.8"/>
<use href="#t" x="601.5" y="1108.5"/>
<use href="#t" x="858.2" y="1074.8"/>
<use href="#t" x="955" y="976.4"/>
<use href="#t" x="371.9" y="1049.6"/>
<use href="#t" x="474" y="940.4"/>
<use href="#t" x="443.3" y="980.6"/>
<use href="#t" x="712.5" y="1079.1"/>
<use href="#t" x="455" y="1045.1"/>
<use href="#t" x="690.6" y="1146.4"/>
<use href="#t" x="557.4" y="1035.3"/>
<use href="#t" x="933.6" y="1003"/>
<use href="#t" x="1111.4" y="702.4"/>
<use href="#t" x="657.7" y="1167.3"/>
<use href="#t" x="451.1" y="1015"/>
<use href="#t" x="468.1" y="1027.2"/>
<use href="#t" x="588.9" y="1082.8"/>
<use href="#t" x="510.9" y="1082.8"/>
<use href="#t" x="794.2" y="891.5"/>
<use href="#t" x="501" y="1052.4"/>
<use href="#t" x="574" y="1089.9"/>
<use href="#t" x="601.9" y="1033.8"/>
<use href="#t" x="529.7" y="1083"/>
<use href="#t" x="536.8" y="1288.5"/>
<use href="#t" x="761" y="1175.9"/>
<use href="#t" x="686.4" y="992.1"/>
<use href="#t" x="569.7" y="1065"/>
<use href="#t" x="866" y="913.5"/>
<use href="#t" x="404.3" y="1062.5"/>
<use href="#t" x="684.5" y="1034.8"/>
<use href="#t" x="604" y="867.1"/>
<use href="#t" x="452.9" y="940.4"/>
<use href="#t" x="861.1" y="1053.5"/>
<use href="#t" x="498.5" y="1066"/>
<use href="#t" x="430.9" y="1199.2"/>
<use href="#t" x="804.2" y="1081"/>
<use href="#t" x="447" y="1107.5"/>
<use href="#t" x="829.8" y="1113.3"/>
<use href="#t" x="632.3" y="1006.9"/>
<use href="#t" x="538.2" y="1177.1"/>
<use href="#t" x="839.3" y="1001.8"/>
<use href="#t" x="438.4" y="1052.1"/>
<use href="#t" x="436" y="1272.3"/>
<use href="#t" x="808.3" y="1078.2"/>
<use href="#t" x="617.3" y="796.9"/>
<use href="#t" x="384.5" y="1019.1"/>
<use href="#t" x="901.1" y="818.8"/>
<use href="#t" x="845" y="1093.8"/>
<use href="#t" x="483.2" y="1142.5"/>
<use href="#t" x="441.1" y="1218.6"/>
<use href="#t" x="534.1" y="1024.6"/>
<use href="#t" x="1091" y="795.3"/>
<use href="#t" x="467.5" y="1055.6"/>
<use href="#t" x="866.6" y="1023.9"/>
<use href="#t" x="1020.4" y="823.9"/>
<use href="#t" x="379.9" y="1113.4"/>
<use href="#t" x="740.5" y="1016.9"/>
<use href="#t" x="472.7" y="1205.9"/>
<use href="#t" x="904" y="1053.2"/>
<use href="#t" x="578.9" y="996.5"/>
<use href="#t" x="1054.5" y="879.3"/>
<use href="#t" x="706.1" y="1058.9"/>
<use href="#t" x="459.1" y="977.5"/>
<use href="#t" x="731.7" y="853.7"/>
<use href="#t" x="952.8" y="891.4"/>
<use href="#t" x="790.2" y="762.8"/>
<use href="#t" x="493.5" y="1056.8"/>
<use href="#t" x="582.5" y="833.1"/>
<use href="#t" x="1043.3" y="949"/>
<use href="#t" x="654" y="1143.7"/>
<use href="#t" x="853.3" y="945.8"/>
<use href="#t" x="421.4" y="1056"/>
<use href="#t" x="402.9" y="1264.3"/>
<use href="#t" x="687.8" y="1139.2"/>
<use href="#t" x="502.1" y="1024.6"/>
<use href="#t" x="364.4" y="1256.6"/>
<use href="#t" x="617" y="943.6"/>
<use href="#t" x="601.7" y="1058"/>
<use href="#t" x="412.1" y="1181.1"/>
<use href="#t" x="860.8" y="1083.4"/>
<use href="#t" x="687.2" y="1097.5"/>
<use href="#t" x="606.5" y="962.8"/>
<use href="#t" x="405.6" y="1125.2"/>
<use href="#t" x="550.4" y="894"/>
<use href="#t" x="651.9" y="965.2"/>
<use href="#t" x="712.2" y="927.3"/>
<use href="#t" x="519.9" y="1140.5"/>
<use href="#t" x="850" y="966.5"/>
<use href="#t" x="616.4" y="1073.1"/>
<use href="#t" x="532.2" y="1058.2"/>
<use href="#t" x="1045.3" y="1109.9"/>
<use href="#t" x="825.9" y="1126.7"/>
<use href="#t" x="1031.1" y="959.9"/>
<use href="#t" x="845.1" y="1020"/>
<use href="#t" x="619.6" y="1140.4"/>
<use href="#t" x="617" y="1050.4"/>
<use href="#t" x="421.6" y="1093.7"/>
<use href="#t" x="812.3" y="1074.8"/>
<use href="#t" x="843.2" y="976.5"/>
<use href="#t" x="655.2" y="911.3"/>
<use href="#t" x="648.8" y="1196.8"/>
<use href="#t" x="741.8" y="1001.4"/>
<use href="#t" x="635.4" y="1123.7"/>
<use href="#t" x="573.7" y="949"/>
<use href="#t" x="448" y="1146.4"/>
<use href="#t" x="512.1" y="1103.5"/>
<use href="#t" x="420.7" y="1145.4"/>
<use href="#t" x="1133" y="758.6"/>
<use href="#t" x="793.8" y="941.5"/>
<use href="#t" x="824.8" y="879.2"/>
<use href="#t" x="401.1" y="1277.3"/>
<use href="#t" x="913.9" y="1037"/>
<use href="#t" x="993.1" y="844.7"/>
<use href="#t" x="470.5" y="1233.2"/>
<use href="#t" x="516" y="1069.8"/>
<use href="#t" x="857.2" y="1052.1"/>
<use href="#t" x="867" y="1208.9"/>
<use href="#t" x="648.5" y="1178.1"/>
<use href="#t" x="649.9" y="1032"/>
<use href="#t" x="403.2" y="1097.4"/>
<use href="#t" x="1129" y="907.1"/>
<use href="#t" x="461.3" y="1036.2"/>
<use href="#t" x="669.8" y="1172.5"/>
<use href="#t" x="462.8" y="1034.4"/>
<use href="#t" x="497.3" y="1364.4"/>
<use href="#t" x="431.6" y="1116.6"/>
<use href="#t" x="546" y="935.6"/>
<use href="#t" x="551.4" y="1043.4"/>
<use href="#t" x="897.9" y="916"/>
<use href="#t" x="442.6" y="1151.3"/>
<use href="#t" x="559" y="1133.2"/>
<use href="#t" x="833" y="1016.4"/>
<use href="#t" x="717.7" y="934.1"/>
<use href="#t" x="457.1" y="1095.4"/>
<use href="#t" x="754.1" y="938.5"/>
<use href="#t" x="865.7" y="1019.7"/>
<use href="#t" x="657.9" y="1002.5"/>
<use href="#t" x="473.9" y="1242.3"/>
<use href="#t" x="597.2" y="1149.7"/>
<use href="#t" x="422.3" y="1074.2"/>
<use href="#t" x="1141.1" y="926.2"/>
<use href="#t" x="722.4" y="968.2"/>
<use href="#t" x="693.5" y="1052"/>
<use href="#t" x="978.5" y="822.4"/>
<use href="#t" x="525.6" y="1188.9"/>
<use href="#t" x="842.1" y="947.9"/>
<use href="#t" x="860.2" y="994.1"/>
<use href="#t" x="850.1" y="960.7"/>
<use href="#t" x="608.4" y="1005.2"/>
<use href="#t" x="691.5" y="965.2"/>
<use href="#t" x="850.7" y="946.4"/>
<use href="#t" x="757.2" y="960.4"/>
<use href="#t" x="556.2" y="990.7"/>
<use href="#t" x="582.3" y="995.6"/>
<use href="#t" x="433.8" y="1209.5"/>
<use href="#t" x="418.7" y="1056.5"/>
<use href="#t" x="792" y="851"/>
<use href="#t" x="1057.4" y="1070.7"/>
<use href="#t" x="397.5" y="1114.4"/>
<use href="#t" x="795.8" y="1007.6"/>
<use href="#t" x="592.8" y="915.5"/>
<use href="#t" x="862.5" y="877.7"/>
<use href="#t" x="583.1" y="1150.6"/>
<use href="#t" x="689.4" y="844.6"/>
<use href="#t" x="433.3" y="1192.2"/>
<use href="#t" x="408" y="1126.1"/>
<use href="#t" x="534" y="1148.9"/>
<use href="#t" x="805.8" y="1031.6"/>
<use href="#t" x="673.1" y="1121.5"/>
<use href="#t" x="406.8" y="1205.2"/>
<use href="#t" x="622.7" y="1047.1"/>
<use href="#t" x="903.9" y="1112.4"/>
<use href="#t" x="468" y="1080.5"/>
<use href="#t" x="1058.1" y="902.5"/>
<use href="#t" x="565" y="873.9"/>
<use href="#t" x="556.7" y="956"/>
<use href="#t" x="565.9" y="1105.2"/>
<use href="#t" x="436.9" y="1072.7"/>
<use href="#t" x="877.4" y="784.4"/>
<use href="#t" x="751.9" y="943.6"/>
<use href="#t" x="1070.9" y="1089.1"/>
<use href="#t" x="835.6" y="967.2"/>
<use href="#t" x="576.7" y="1073"/>
<use href="#t" x="852.1" y="1004.7"/>
<use href="#t" x="521.5" y="1108.3"/>
<use href="#t" x="420.8" y="1175"/>
<use href="#t" x="539.9" y="1235.4"/>
<use href="#t" x="473" y="1075.2"/>
<use href="#t" x="708.7" y="1202.4"/>
<use href="#t" x="544.8" y="1085.1"/>
<use href="#t" x="1054.5" y="904.8"/>
<use href="#t" x="966.2" y="923.2"/>
<use href="#t" x="443.5" y="1273.3"/>
<use href="#t" x="963.4" y="1044.5"/>
<use href="#t" x="854" y="1206.6"/>
<use href="#t" x="837" y="1027.6"/>
<use href="#t" x="461.2" y="1038.9"/>
<use href="#t" x="584.1" y="1062.8"/>
<use href="#t" x="934.3" y="1035.3"/>
<use href="#t" x="855.1" y="950.4"/>
<use href="#t" x="692" y="1014.3"/>
<use href="#t" x="516.9" y="1069.6"/>
<use href="#t" x="398.2" y="1044.2"/>
<use href="#t" x="700.2" y="1179.1"/>
<use href="#t" x="478.7" y="1290.1"/>
<use href="#t" x="514.3" y="1077.2"/>
<use href="#t" x="922.9" y="995.9"/>
<use href="#t" x="1001.6" y="950.9"/>
<use href="#t" x="686.6" y="1119.1"/>
<use href="#t" x="454.3" y="1372.8"/>
<use href="#t" x="438.4" y="1073.6"/>
<use href="#t" x="987.2" y="991.6"/>
<use href="#t" x="663.8" y="1016.3"/>
<use href="#t" x="681.7" y="1055.2"/>
<use href="#t" x="411.3" y="1134.8"/>
<use href="#t" x="454.8" y="1195.3"/>
<use href="#t" x="590.2" y="985.4"/>
<use href="#t" x="849.4" y="945.1"/>
<use href="#t" x="513.3" y="888.4"/>
<use href="#t" x="540" y="1102.2"/>
<use href="#t" x="537.3" y="1181.9"/>
<use href="#t" x="952.4" y="1026.3"/>
<use href="#t" x="549.9" y="1024"/>
<use href="#t" x="526.9" y="853.5"/>
<use href="#t" x="573.3" y="1231.2"/>
<use href="#t" x="540.8" y="930.5"/>
<use href="#t" x="583.5" y="1106.8"/>
<use href="#t" x="552.4" y="1139.3"/>
<use href="#t" x="632.6" y="1100.8"/>
<use href="#t" x="714.9" y="1069.3"/>
<use href="#t" x="406.8" y="1058.4"/>
<use href="#t" x="663.6" y="1213.1"/>
<use href="#t" x="699.1" y="1028.1"/>
<use href="#t" x="708.3" y="863.5"/>
<use href="#t" x="1042.7" y="1000.6"/>
<use href="#t" x="494.7" y="954.3"/>
<use href="#t" x="495.2" y="1245.5"/>
<use href="#t" x="557" y="1222.1"/>
<use href="#t" x="448.6" y="1233.8"/>
<use href="#t" x="711.2" y="991.9"/>
<use href="#t" x="586.3" y="1108.5"/>
<use href="#t" x="687.4" y="880.3"/>
<use href="#t" x="863" y="1000.5"/>
<use href="#t" x="560.1" y="1072.5"/>
<use href="#t" x="1133.7" y="828.1"/>
<use href="#t" x="809.7" y="1025.6"/>
<use href="#t" x="1053.2" y="928.3"/>
<use href="#t" x="548.1" y="1150.9"/>
<use href="#t" x="661.1" y="1083.5"/>
<use href="#t" x="670.8" y="1187"/>
<use href="#t" x="482.1" y="1046.4"/>
<use href="#t" x="718.4" y="1144"/>
<use href="#t" x="950.6" y="797.5"/>
<use href="#t" x="533.6" y="860.6"/>
<use href="#t" x="794.1" y="953.1"/>
<use href="#t" x="543.8" y="987.4"/>
<use href="#t" x="426.7" y="1091.2"/>
<use href="#t" x="987.9" y="780"/>
<use href="#t" x="1096.7" y="1040.7"/>
<use href="#t" x="796.3" y="1034.4"/>
<use href="#t" x="805.7" y="971.3"/>
<use href="#t" x="792.3" y="1027.3"/>
<use href="#t" x="383.9" y="1211.3"/>
<use href="#t" x="894.2" y="1106.5"/>
<use href="#t" x="926.7" y="1019.6"/>
<use href="#t" x="846.6" y="907"/>
<use href="#t" x="791.5" y="1050.3"/>
<use href="#t" x="808.8" y="866.8"/>
<use href="#t" x="564.8" y="1147"/>
<use href="#t" x="665" y="838.2"/>
<use href="#t" x="555.1" y="1162.3"/>
<use href="#t" x="595.4" y="979.4"/>
<use href="#t" x="678.2" y="946.6"/>
<use href="#t" x="1055.1" y="910.1"/>
<use href="#t" x="411.4" y="1025.1"/>
<use href="#t" x="714.4" y="1165.4"/>
<use href="#t" x="543.9" y="840.8"/>
<use href="#t" x="618.7" y="1265.9"/>
<use href="#t" x="537" y="993.9"/>
<use href="#t" x="509.7" y="1178.5"/>
<use href="#t" x="815.6" y="1105"/>
<use href="#t" x="927.1" y="865.9"/>
<use href="#t" x="609.2" y="1166.4"/>
<use href="#t" x="893.1" y="1043.6"/>
<use href="#t" x="583.3" y="1181.8"/>
<use href="#t" x="639.3" y="1002"/>
<use href="#t" x="830.3" y="1027.5"/>
<use href="#t" x="1028.9" y="989.2"/>
<use href="#t" x="784.5" y="884.1"/>
<use href="#t" x="1070.7" y="830.8"/>
<use href="#t" x="581.8" y="881.7"/>
<use href="#t" x="826.4" y="950"/>
<use href="#t" x="818.6" y="1246.2"/>
<use href="#t" x="839" y="942.8"/>
<use href="#t" x="472.2" y="1285.1"/>
<use href="#t" x="927.4" y="1118.5"/>
<use href="#t" x="655.4" y="1053.6"/>
<use href="#t" x="714.3" y="1086.1"/>
<use href="#t" x="407.2" y="1107.7"/>
<use href="#t" x="773.3" y="920.1"/>
<use href="#t" x="602.5" y="1079.1"/>
<use href="#t" x="902.1" y="1084.1"/>
<use href="#t" x="482.7" y="841.8"/>
<use href="#t" x="420.3" y="1073.7"/>
<use href="#t" x="677.4" y="1153.6"/>
<use href="#t" x="541.9" y="1072.7"/>
<use href="#t" x="1004.6" y="756"/>
<use href="#t" x="823.9" y="893.2"/>
<use href="#t" x="750.2" y="1016.1"/>
<use href="#t" x="460.1" y="1284.3"/>
<use href="#t" x="818.4" y="967.6"/>
<use href="#t" x="427.6" y="1102"/>
<use href="#t" x="1102.3" y="1091.8"/>
<use href="#t" x="808.7" y="1130.5"/>
<use href="#t" x="824.2" y="937.5"/>
<use href="#t" x="367.7" y="1100.6"/>
<use href="#t" x="440" y="1225.4"/>
<use href="#t" x="456.5" y="1152.7"/>
<use href="#t" x="405.9" y="977.1"/>
<use href="#t" x="539.1" y="1060.9"/>
<use href="#t" x="390.9" y="1146.8"/>
<use href="#t" x="641.9" y="1138.8"/>
<use href="#t" x="846.7" y="983"/>
<use href="#t" x="682.9" y="1210.9"/>
<use href="#t" x="788.2" y="782.8"/>
<use href="#t" x="699.2" y="840.2"/>
<use href="#t" x="864.4" y="1168.8"/>
<use href="#d" x="645.6" y="863.5"/>
<use href="#d" x="516.4" y="901.1"/>
<use href="#d" x="607.2" y="905.8"/>
<use href="#d" x="486.8" y="958.2"/>
<use href="#d" x="1041.2" y="643.8"/>
<use href="#d" x="572.6" y="838.5"/>
<use href="#d" x="765.7" y="753.4"/>
<use href="#d" x="394.5" y="1002.3"/>
<use href="#d" x="818" y="852.7"/>
<use href="#d" x="391.2" y="985.7"/>
<use href="#d" x="507.2" y="988.5"/>
<use href="#d" x="407.9" y="1001"/>
<use href="#d" x="770.6" y="879.4"/>
<use href="#d" x="568.7" y="835.2"/>
<use href="#d" x="506.5" y="880.9"/>
<use href="#d" x="1044.7" y="836.4"/>
<use href="#d" x="524.2" y="978.1"/>
<use href="#d" x="409.7" y="919.9"/>
<use href="#d" x="565.8" y="906.9"/>
<use href="#d" x="376.2" y="913.5"/>
<use href="#d" x="469.2" y="852.5"/>
<use href="#d" x="491.7" y="941.5"/>
<use href="#d" x="473.7" y="916.3"/>
<use href="#d" x="641.2" y="876.9"/>
<use href="#d" x="427.8" y="1122.9"/>
<use href="#d" x="488.2" y="1080.1"/>
<use href="#d" x="721.6" y="884.3"/>
<use href="#d" x="568.8" y="937.8"/>
<use href="#d" x="793.7" y="791.6"/>
<use href="#d" x="538.2" y="847.5"/>
<use href="#d" x="666.5" y="850"/>
<use href="#d" x="659.9" y="803.5"/>
<use href="#d" x="1119.4" y="778.9"/>
<use href="#d" x="756.2" y="809.2"/>
<use href="#d" x="793.3" y="820.7"/>
<use href="#d" x="759.9" y="918.1"/>
<use href="#d" x="478.7" y="930.8"/>
<use href="#d" x="962.5" y="876.1"/>
<use href="#d" x="735.6" y="761"/>
<use href="#d" x="450.6" y="986.7"/>
<use href="#d" x="550" y="936.5"/>
<use href="#d" x="416.1" y="1044"/>
<use href="#d" x="478.6" y="983"/>
<use href="#d" x="367.8" y="934.9"/>
<use href="#d" x="674.7" y="961.3"/>
<use href="#d" x="371.7" y="1138.1"/>
<use href="#d" x="457.6" y="961.9"/>
<use href="#d" x="659" y="817.8"/>
<use href="#d" x="426.9" y="993.9"/>
<use href="#d" x="588.8" y="865"/>
<use href="#d" x="560.7" y="863.5"/>
<use href="#d" x="748.1" y="889.7"/>
<use href="#d" x="612.9" y="974.1"/>
<use href="#d" x="752.5" y="766.3"/>
<use href="#d" x="534.6" y="945.1"/>
<use href="#d" x="427.8" y="878.4"/>
<use href="#d" x="538.6" y="766.7"/>
<use href="#d" x="745" y="800.2"/>
<use href="#d" x="765.2" y="852.3"/>
<use href="#d" x="709.7" y="814.5"/>
<use href="#d" x="541.8" y="908.8"/>
<use href="#d" x="498" y="842.5"/>
<use href="#d" x="384.2" y="957"/>
<use href="#d" x="433.2" y="785.3"/>
<use href="#d" x="663.6" y="871.8"/>
<use href="#d" x="1090.8" y="803.2"/>
<use href="#d" x="502.2" y="852.6"/>
<use href="#d" x="786.6" y="817.7"/>
<use href="#d" x="612.8" y="862.2"/>
<use href="#d" x="717.1" y="802.3"/>
<use href="#d" x="948.6" y="863"/>
<use href="#d" x="663.4" y="884.8"/>
<use href="#d" x="606.9" y="934.6"/>
<use href="#d" x="597.5" y="943.7"/>
<use href="#d" x="724.4" y="772.6"/>
<use href="#d" x="619.3" y="974"/>
<use href="#d" x="639.2" y="850.7"/>
<use href="#d" x="774.4" y="867"/>
<use href="#d" x="765" y="775"/>
<use href="#d" x="948.7" y="775.9"/>
<use href="#d" x="811.1" y="824.7"/>
<use href="#d" x="798.5" y="1017.4"/>
<use href="#d" x="504.7" y="910.1"/>
<use href="#d" x="447.2" y="1021.6"/>
<use href="#d" x="708.3" y="919.7"/>
<use href="#d" x="740.2" y="848.2"/>
<use href="#d" x="586.4" y="899.6"/>
<use href="#d" x="635.6" y="989.4"/>
<use href="#d" x="506.7" y="813.6"/>
<use href="#d" x="551.8" y="889.6"/>
<use href="#d" x="417.9" y="888.1"/>
<use href="#d" x="617.6" y="911.2"/>
<use href="#d" x="561.1" y="878.3"/>
<use href="#d" x="607.9" y="931.2"/>
<use href="#d" x="728.7" y="798.6"/>
<use href="#d" x="493.5" y="961.8"/>
<use href="#d" x="483.7" y="892.6"/>
<use href="#d" x="453.4" y="976.4"/>
<use href="#d" x="552.4" y="965.3"/>
<use href="#d" x="364" y="911.7"/>
<use href="#d" x="420.1" y="1189.6"/>
<use href="#d" x="652.6" y="831.4"/>
<use href="#d" x="590.7" y="781.2"/>
<use href="#d" x="608" y="950.8"/>
<use href="#d" x="681.1" y="804.5"/>
<use href="#d" x="602.9" y="999.9"/>
<use href="#d" x="621.1" y="879.3"/>
<use href="#d" x="430.4" y="922.2"/>
<use href="#d" x="664.4" y="941.1"/>
<use href="#d" x="499.4" y="919.8"/>
<use href="#d" x="763.9" y="753.6"/>
<use href="#d" x="816.7" y="797.2"/>
<use href="#d" x="509.7" y="880.1"/>
<use href="#d" x="675.6" y="840.2"/>
<use href="#d" x="732.7" y="689.4"/>
<use href="#d" x="497.9" y="906.7"/>
<use href="#d" x="469.5" y="1030.6"/>
<use href="#d" x="422.2" y="897.9"/>
<use href="#d" x="605.6" y="744.6"/>
<use href="#d" x="869.3" y="853.6"/>
<use href="#d" x="634.4" y="812.4"/>
<use href="#d" x="584.7" y="845.6"/>
<use href="#d" x="416" y="1011.1"/>
<use href="#d" x="680.6" y="845"/>
<use href="#d" x="659.2" y="787.4"/>
<use href="#d" x="683.9" y="903.2"/>
<use href="#d" x="386.3" y="1020.2"/>
<use href="#d" x="543.9" y="806.4"/>
<use href="#d" x="741.3" y="862.3"/>
<use href="#d" x="435" y="972.5"/>
<use href="#d" x="675.6" y="916.2"/>
<use href="#d" x="624.9" y="874.1"/>
<use href="#d" x="388.4" y="1046.8"/>
<use href="#d" x="397.3" y="1015.6"/>
<use href="#d" x="578.3" y="855.5"/>
<use href="#d" x="687.4" y="810.5"/>
<use href="#d" x="366.6" y="1014.2"/>
<use href="#d" x="653.2" y="857.1"/>
<use href="#d" x="384.8" y="927.7"/>
<use href="#d" x="711.1" y="713.8"/>
<use href="#d" x="692.8" y="857.9"/>
<use href="#d" x="618.6" y="863"/>
<use href="#d" x="771.8" y="779.4"/>
<use href="#d" x="779.6" y="947.8"/>
<use href="#d" x="698.3" y="865.5"/>
<use href="#d" x="721.3" y="888.3"/>
<use href="#d" x="485.9" y="946.2"/>
<use href="#d" x="474.8" y="975.7"/>
<use href="#d" x="633.5" y="923.9"/>
<use href="#d" x="470.8" y="783.4"/>
<use href="#d" x="564" y="935.8"/>
<use href="#d" x="401.1" y="992.2"/>
<use href="#d" x="646.9" y="895.4"/>
<use href="#d" x="362.5" y="906.1"/>
<use href="#d" x="527.8" y="947.3"/>
<use href="#d" x="618.4" y="840.6"/>
<use href="#d" x="513.4" y="862.8"/>
<use href="#d" x="381.5" y="981.5"/>
<use href="#d" x="614.2" y="690.3"/>
<use href="#d" x="1053.4" y="710.4"/>
<use href="#d" x="653.4" y="830.9"/>
<use href="#d" x="435.4" y="929.5"/>
<use href="#d" x="775.6" y="864.4"/>
<use href="#d" x="522.3" y="915.7"/>
<use href="#d" x="376.8" y="928.2"/>
<use href="#d" x="807" y="833.2"/>
<use href="#d" x="498.7" y="838.1"/>
<use href="#d" x="632.5" y="796.2"/>
<use href="#d" x="606.4" y="1043"/>
<use href="#d" x="695.3" y="748.6"/>
<use href="#d" x="693.8" y="861.9"/>
<use href="#d" x="422.8" y="846.2"/>
<use href="#d" x="798.7" y="715.9"/>
<use href="#d" x="706.1" y="901.3"/>
<use href="#d" x="648.2" y="731.9"/>
<use href="#d" x="565.3" y="804.2"/>
<use href="#d" x="658.6" y="904.6"/>
<use href="#d" x="1101.4" y="611.4"/>
<use href="#d" x="488" y="930"/>
<use href="#d" x="766.7" y="881.6"/>
<use href="#d" x="918.6" y="779.6"/>
<use href="#d" x="473.1" y="923.6"/>
<use href="#d" x="392.9" y="950.5"/>
<use href="#d" x="795.8" y="797.8"/>
<use href="#d" x="392.1" y="877"/>
<use href="#d" x="462.3" y="939.1"/>
<use href="#d" x="370.9" y="897"/>
<use href="#d" x="769.4" y="855.6"/>
<use href="#d" x="497.1" y="886.6"/>
<use href="#d" x="482.7" y="887.8"/>
<use href="#d" x="478.6" y="851.1"/>
<use href="#d" x="977.1" y="736.6"/>
<use href="#d" x="707.4" y="810.4"/>
<use href="#d" x="444.5" y="878.3"/>
<use href="#d" x="682.9" y="700.1"/>
<use href="#d" x="612.4" y="1006.9"/>
<use href="#d" x="709.3" y="928.4"/>
<use href="#d" x="658.9" y="890.4"/>
<use href="#d" x="524.8" y="898.2"/>
<use href="#d" x="583.4" y="799.6"/>
<use href="#d" x="451.8" y="892.2"/>
<use href="#d" x="488.4" y="840.4"/>
<use href="#d" x="514.2" y="860.8"/>
<use href="#d" x="748.9" y="731.9"/>
<use href="#d" x="798.4" y="645.3"/>
<use href="#d" x="495.2" y="894.6"/>
<use href="#d" x="558.9" y="1008.2"/>
<use href="#d" x="385" y="931.9"/>
<use href="#d" x="708.2" y="894.5"/>
<use href="#d" x="648.2" y="881.3"/>
<use href="#d" x="393" y="963.4"/>
<use href="#d" x="658.5" y="880.4"/>
<use href="#d" x="452.8" y="857.3"/>
<use href="#d" x="480.7" y="859.4"/>
<use href="#d" x="405.2" y="913.4"/>
<use href="#d" x="582.6" y="914.6"/>
<use href="#d" x="681.3" y="893.4"/>
<use href="#d" x="570.7" y="902.1"/>
<use href="#d" x="392.3" y="920.7"/>
<use href="#d" x="381.6" y="1045.5"/>
<use href="#d" x="495" y="856.5"/>
<use href="#d" x="801.1" y="847.5"/>
<use href="#d" x="651.5" y="689.7"/>
<use href="#d" x="586.4" y="780.2"/>
<use href="#d" x="377.1" y="864.1"/>
<use href="#d" x="595.1" y="926"/>
<use href="#d" x="439.3" y="898.2"/>
<use href="#d" x="712.7" y="756.4"/>
<use href="#d" x="663.6" y="995.9"/>
<use href="#d" x="396" y="1009.8"/>
<use href="#d" x="679.6" y="741.9"/>
<use href="#d" x="689.1" y="932.4"/>
<use href="#d" x="814.2" y="721.7"/>
<use href="#d" x="512.9" y="804.1"/>
<use href="#d" x="446.2" y="916.9"/>
<use href="#d" x="676.7" y="723"/>
<use href="#d" x="1074.8" y="661.1"/>
<use href="#d" x="464.5" y="871.9"/>
<use href="#d" x="589.5" y="1033"/>
<use href="#d" x="457.3" y="861.6"/>
<use href="#d" x="657.9" y="873.1"/>
<use href="#d" x="406.6" y="901.9"/>
<use href="#d" x="757.5" y="795.3"/>
<use href="#d" x="532.6" y="782"/>
<use href="#d" x="657.8" y="894.5"/>
<use href="#d" x="651" y="897.6"/>
<use href="#d" x="643.9" y="876"/>
<use href="#d" x="672.2" y="929.9"/>
<use href="#d" x="536.3" y="943.5"/>
<use href="#d" x="730.8" y="766.7"/>
<use href="#d" x="562.1" y="843.9"/>
<use href="#d" x="499.1" y="823"/>
<use href="#d" x="930.2" y="769.2"/>
<use href="#d" x="760.8" y="909.7"/>
<use href="#d" x="408.4" y="921.8"/>
<use href="#d" x="456.7" y="798.1"/>
<use href="#d" x="797.8" y="977.2"/>
<use href="#d" x="703.8" y="911.7"/>
<use href="#d" x="1061.4" y="791"/>
<use href="#d" x="560.3" y="852.1"/>
<use href="#d" x="907.5" y="847"/>
<use href="#d" x="689.9" y="942"/>
<use href="#d" x="654.9" y="950.8"/>
<use href="#d" x="411.5" y="940.2"/>
<use href="#d" x="551.5" y="755.9"/>
<use href="#d" x="570.7" y="963.8"/>
<use href="#d" x="738.3" y="746.1"/>
<use href="#d" x="497.4" y="832.2"/>
<use href="#d" x="1134" y="720.3"/>
<use href="#d" x="876.5" y="791"/>
<use href="#d" x="742.9" y="695.2"/>
<use href="#d" x="739.7" y="733.9"/>
<use href="#d" x="671.1" y="626.1"/>
<use href="#d" x="848" y="775.4"/>
<use href="#d" x="538.4" y="971.9"/>
<use href="#d" x="373.4" y="957.2"/>
<use href="#d" x="469.2" y="1111.7"/>
<use href="#d" x="631.6" y="829.2"/>
<use href="#d" x="615.3" y="981.5"/>
<use href="#d" x="800.6" y="926.8"/>
<use href="#d" x="698.5" y="942.8"/>
<use href="#d" x="603.3" y="742.1"/>
<use href="#d" x="892.4" y="706.1"/>
<use href="#d" x="549.3" y="865.3"/>
<use href="#d" x="676.8" y="708.4"/>
<use href="#d" x="844.3" y="641.3"/>
<use href="#d" x="613.4" y="851.4"/>
<use href="#d" x="475.8" y="943.7"/>
<use href="#d" x="654.6" y="950.8"/>
<use href="#d" x="490.2" y="918.7"/>
<use href="#d" x="609.3" y="745.8"/>
<use href="#d" x="560.4" y="1131.8"/>
<use href="#d" x="532.3" y="1013.3"/>
<use href="#d" x="724.7" y="892.1"/>
<use href="#d" x="501.1" y="983.5"/>
<use href="#d" x="447.2" y="960.4"/>
<use href="#d" x="461.2" y="1019.9"/>
<use href="#d" x="369.5" y="992.5"/>
<use href="#d" x="608.4" y="1116.6"/>
<use href="#d" x="523.8" y="826.9"/>
<use href="#d" x="447.1" y="799.9"/>
<use href="#d" x="693.7" y="682"/>
<use href="#d" x="606.1" y="835"/>
<use href="#d" x="382.8" y="946.2"/>
<use href="#d" x="369.8" y="1000.2"/>
<use href="#d" x="444" y="977.3"/>
<use href="#d" x="627.8" y="862.9"/>
<use href="#d" x="618.1" y="911.7"/>
<use href="#d" x="653.7" y="836.8"/>
<use href="#d" x="409.4" y="915.8"/>
<use href="#d" x="964.4" y="769.2"/>
<use href="#d" x="406.4" y="967.4"/>
<use href="#d" x="434.7" y="1087.9"/>
<use href="#d" x="525.2" y="899.7"/>
<use href="#d" x="467.6" y="884.7"/>
<use href="#d" x="678.4" y="885.5"/>
<use href="#d" x="416" y="1022.3"/>
<use href="#d" x="502.6" y="973.5"/>
<use href="#d" x="413.8" y="961.3"/>
<use href="#d" x="784" y="876"/>
<use href="#d" x="556.8" y="786.5"/>
<use href="#d" x="616.8" y="788.7"/>
<use href="#d" x="693.4" y="797.9"/>
<use href="#d" x="660" y="980.9"/>
<use href="#d" x="761.6" y="873.7"/>
<use href="#d" x="659.5" y="903"/>
<use href="#d" x="577" y="894.8"/>
<use href="#d" x="688.5" y="907.3"/>
<use href="#d" x="461" y="892.9"/>
<use href="#d" x="436" y="895.3"/>
<use href="#d" x="532.8" y="909.3"/>
<use href="#d" x="584.7" y="974.7"/>
<use href="#d" x="547.1" y="757.9"/>
<use href="#d" x="505.8" y="707.9"/>
<use href="#d" x="658.4" y="871"/>
<use href="#d" x="555.5" y="867.6"/>
<use href="#d" x="772.5" y="819.1"/>
<use href="#d" x="699.9" y="706.2"/>
<use href="#d" x="752.6" y="912.7"/>
<use href="#d" x="532" y="1002.6"/>
<use href="#d" x="686.7" y="958.5"/>
<use href="#d" x="428.4" y="874.5"/>
<use href="#d" x="380" y="1050.2"/>
<use href="#d" x="594.9" y="865.3"/>
<use href="#d" x="729.5" y="815.6"/>
<use href="#d" x="543.3" y="897.5"/>
<use href="#d" x="412" y="854.4"/>
<use href="#d" x="440.2" y="940.5"/>
<use href="#d" x="582.8" y="974.6"/>
<use href="#d" x="929.5" y="668.5"/>
<use href="#d" x="573" y="830.6"/>
<use href="#d" x="682.2" y="891.7"/>
<use href="#d" x="953" y="807.3"/>
<use href="#d" x="461.1" y="903.2"/>
<use href="#d" x="374.5" y="1054.1"/>
<use href="#d" x="387.7" y="1034.4"/>
<use href="#d" x="604.2" y="963.3"/>
<use href="#d" x="1063.4" y="724.7"/>
<use href="#d" x="600.4" y="966.1"/>
<use href="#d" x="568.7" y="980.8"/>
<use href="#d" x="534" y="881.3"/>
<use href="#d" x="739.2" y="839.1"/>
<use href="#d" x="428.5" y="922.4"/>
<use href="#d" x="505.7" y="893.2"/>
<use href="#d" x="580.4" y="920.7"/>
<use href="#d" x="778" y="806.4"/>
<use href="#d" x="671.3" y="826.7"/>
<use href="#d" x="406.1" y="1045.5"/>
<use href="#d" x="699.3" y="861.9"/>
<use href="#d" x="428.8" y="984.2"/>
<use href="#d" x="372.1" y="1067.3"/>
<use href="#d" x="469.8" y="819.3"/>
<use href="#d" x="810.8" y="711.5"/>
<use href="#d" x="473.3" y="929.2"/>
<use href="#d" x="595.3" y="1026.6"/>
<use href="#d" x="636.3" y="938.7"/>
<use href="#d" x="384.1" y="923.2"/>
<use href="#d" x="728.4" y="822.9"/>
<use href="#d" x="525" y="1012.3"/>
<use href="#d" x="435.9" y="896.4"/>
<use href="#d" x="530.6" y="828.1"/>
<use href="#d" x="1022.6" y="843.3"/>
<use href="#d" x="701.9" y="781.4"/>
<use href="#d" x="404.1" y="981"/>
<use href="#d" x="546.7" y="979.2"/>
<use href="#d" x="589.1" y="915.2"/>
<use href="#d" x="801.5" y="919.8"/>
<use href="#d" x="1123.1" y="674.4"/>
<use href="#d" x="816.8" y="879.6"/>
<use href="#d" x="794.2" y="724.4"/>
<use href="#d" x="656.2" y="808.9"/>
<use href="#d" x="695.2" y="814"/>
<use href="#d" x="450.5" y="909"/>
<use href="#d" x="682.5" y="848.1"/>
<use href="#d" x="660.6" y="1002.9"/>
<use href="#d" x="828.3" y="722.9"/>
<use href="#d" x="603.5" y="756"/>
<use href="#d" x="546" y="935"/>
<use href="#d" x="697.2" y="825.4"/>
<use href="#d" x="771.5" y="874.3"/>
<use href="#d" x="413.6" y="1091.5"/>
<use href="#d" x="611.2" y="934.7"/>
<use href="#d" x="402.2" y="982.3"/>
<use href="#d" x="500.6" y="878.2"/>
<use href="#d" x="675.5" y="890"/>
<use href="#d" x="784.5" y="632.3"/>
<use href="#d" x="627" y="1007.1"/>
<use href="#d" x="558.3" y="920.8"/>
<use href="#d" x="517.5" y="1007.4"/>
<use href="#d" x="927.6" y="890.8"/>
<use href="#d" x="399.6" y="863.6"/>
<use href="#d" x="588.5" y="826.1"/>
<use href="#d" x="447.3" y="984.5"/>
<use href="#d" x="446" y="964.1"/>
<use href="#d" x="481.4" y="889.2"/>
<use href="#d" x="439.6" y="915.1"/>
<use href="#d" x="702.5" y="809.9"/>
<use href="#d" x="674.3" y="900.6"/>
<use href="#d" x="872.6" y="794"/>
<use href="#d" x="463.2" y="836.4"/>
<use href="#d" x="378.6" y="1007.1"/>
<use href="#d" x="469.2" y="924.1"/>
<use href="#d" x="410" y="1086.2"/>
<use href="#d" x="647" y="972.4"/>
<use href="#d" x="567.2" y="930.2"/>
<use href="#d" x="399.1" y="1030.4"/>
<use href="#d" x="546.1" y="901.6"/>
<use href="#d" x="1024.8" y="725.3"/>
<use href="#d" x="711" y="819.9"/>
<use href="#d" x="611.8" y="841.8"/>
<use href="#d" x="491.9" y="832.1"/>
<use href="#d" x="613.5" y="1012.6"/>
<use href="#d" x="438.7" y="1011.2"/>
<use href="#d" x="709.2" y="837.1"/>
<use href="#d" x="757.6" y="1023.3"/>
<use href="#d" x="958.3" y="784.7"/>
<use href="#d" x="531.9" y="749.5"/>
<use href="#d" x="778.6" y="749"/>
<use href="#d" x="459.1" y="834.9"/>
<use href="#d" x="545.7" y="972.6"/>
<use href="#s" x="670.6" y="833.6"/>
<use href="#s" x="380.8" y="1023.1"/>
<use href="#s" x="420" y="949.7"/>
<use href="#s" x="721.7" y="779.3"/>
<use href="#s" x="826" y="706.8"/>
<use href="#s" x="741.6" y="708.6"/>
<use href="#s" x="795.5" y="821.6"/>
<use href="#s" x="681.2" y="705.6"/>
<use href="#s" x="500.6" y="944.5"/>
<use href="#s" x="762.4" y="791.6"/>
<use href="#s" x="626.6" y="801.7"/>
<use href="#s" x="389.5" y="919.6"/>
<use href="#s" x="459.6" y="1012"/>
<use href="#s" x="885" y="829.4"/>
<use href="#s" x="412.5" y="986"/>
<use href="#s" x="736.4" y="815"/>
<use href="#s" x="675.7" y="771.4"/>
<use href="#s" x="572.7" y="789.8"/>
<use href="#s" x="776.1" y="805.2"/>
<use href="#s" x="548.2" y="960.6"/>
<use href="#s" x="614.8" y="961.8"/>
<use href="#s" x="543.5" y="982"/>
<use href="#s" x="432.4" y="972.2"/>
<use href="#s" x="411.8" y="1003"/>
<use href="#s" x="515.2" y="991.3"/>
<use href="#s" x="772.5" y="797.2"/>
<use href="#s" x="381.8" y="989.3"/>
<use href="#s" x="878.2" y="677.6"/>
<use href="#s" x="629.6" y="925.9"/>
<use href="#s" x="569.9" y="822.4"/>
<use href="#s" x="412.9" y="1159.8"/>
<use href="#s" x="495.5" y="932.2"/>
<use href="#s" x="481.1" y="974.6"/>
<use href="#s" x="423" y="926.8"/>
<use href="#s" x="856.8" y="677.9"/>
<use href="#s" x="404.8" y="922.2"/>
<use href="#s" x="567.2" y="935.4"/>
<use href="#s" x="472.8" y="892.3"/>
<use href="#s" x="1062.3" y="699.2"/>
<use href="#s" x="404.2" y="924.6"/>
<use href="#s" x="599.8" y="867"/>
<use href="#s" x="460.7" y="945.7"/>
<use href="#s" x="734.9" y="832.9"/>
<use href="#s" x="665.1" y="859.8"/>
<use href="#s" x="490.9" y="916.9"/>
<use href="#s" x="700.8" y="903.4"/>
<use href="#s" x="730.4" y="938.6"/>
<use href="#s" x="672" y="911.5"/>
<use href="#s" x="899.7" y="737.8"/>
<use href="#s" x="725.9" y="932"/>
<use href="#s" x="780.9" y="695.9"/>
<use href="#s" x="982.8" y="718.9"/>
<use href="#s" x="818.4" y="904.2"/>
<use href="#s" x="623.9" y="830.8"/>
<use href="#s" x="377.9" y="927.1"/>
<use href="#s" x="676.2" y="863.2"/>
<use href="#s" x="777" y="826.3"/>
<use href="#s" x="516" y="854.8"/>
<use href="#s" x="606.8" y="881"/>
<use href="#s" x="611.5" y="976.5"/>
<use href="#s" x="422.6" y="1015.9"/>
<use href="#s" x="424.3" y="952.8"/>
<use href="#s" x="417.4" y="1026.2"/>
<use href="#s" x="626.1" y="726.7"/>
<use href="#s" x="690" y="1035.6"/>
<use href="#s" x="1103.8" y="609.7"/>
<use href="#s" x="1078.5" y="691.3"/>
<use href="#s" x="705" y="828.4"/>
<use href="#s" x="572.6" y="911.7"/>
<use href="#s" x="649.3" y="873.5"/>
<use href="#s" x="412.9" y="1141"/>
<use href="#s" x="465.4" y="879.7"/>
<use href="#s" x="746.8" y="886.6"/>
<use href="#s" x="567.5" y="1017.4"/>
<use href="#s" x="988.8" y="762.8"/>
<use href="#s" x="613.8" y="900.4"/>
<use href="#s" x="703.3" y="813.9"/>
<use href="#s" x="596.8" y="976.8"/>
<use href="#s" x="728.1" y="922.8"/>
<use href="#s" x="452.2" y="1115.3"/>
<use href="#s" x="579.1" y="849"/>
<use href="#s" x="539.9" y="1139"/>
<use href="#s" x="371.9" y="955.6"/>
<use href="#s" x="714.9" y="790.7"/>
<use href="#s" x="438.1" y="928.2"/>
<use href="#s" x="795" y="820.8"/>
<use href="#s" x="853.8" y="781.8"/>
<use href="#s" x="972.5" y="701.8"/>
<use href="#s" x="816" y="957.2"/>
<use href="#s" x="682.8" y="923.9"/>
<use href="#s" x="659.7" y="763.8"/>
<use href="#s" x="618" y="846.9"/>
<use href="#s" x="640.4" y="926.9"/>
<use href="#s" x="607.4" y="859.6"/>
<use href="#s" x="509.2" y="836.9"/>
<use href="#s" x="783.7" y="754.1"/>
<use href="#s" x="651.1" y="883.3"/>
<use href="#s" x="435.4" y="928.8"/>
<use href="#s" x="565.8" y="896.2"/>
<use href="#s" x="421" y="911.6"/>
<use href="#s" x="789.8" y="774.2"/>
<use href="#s" x="480.3" y="1083.8"/>
<use href="#s" x="895" y="775.1"/>
<use href="#s" x="374.7" y="952.8"/>
<use href="#s" x="608.9" y="892"/>
<use href="#s" x="793.7" y="917.3"/>
<use href="#s" x="676.4" y="998.9"/>
<use href="#s" x="444" y="1001.6"/>
<use href="#s" x="490.7" y="957"/>
<use href="#s" x="718.1" y="747.3"/>
<use href="#s" x="674" y="989.9"/>
<use href="#s" x="725.7" y="871.8"/>
<use href="#s" x="542.6" y="907.8"/>
<use href="#s" x="661.8" y="782.5"/>
<use href="#s" x="659.2" y="840.6"/>
<use href="#s" x="548.9" y="948"/>
<use href="#s" x="858.3" y="749.1"/>
<use href="#s" x="465.9" y="1072.8"/>
<use href="#s" x="578.7" y="959.6"/>
<use href="#s" x="485.2" y="989.1"/>
<use href="#s" x="611.1" y="979.9"/>
<use href="#s" x="1039.4" y="728.5"/>
<use href="#s" x="401.9" y="1153"/>
<use href="#s" x="482.8" y="859"/>
<use href="#s" x="479.5" y="1152"/>
<use href="#s" x="1036.2" y="721.8"/>
<use href="#s" x="378.8" y="1015.4"/>
<use href="#s" x="634.1" y="760.4"/>
<use href="#s" x="458.9" y="870.6"/>
<use href="#s" x="897.3" y="691.8"/>
<use href="#s" x="526" y="811.1"/>
<use href="#s" x="752.9" y="812.6"/>
<use href="#s" x="439.8" y="987.6"/>
<use href="#s" x="818" y="843.5"/>
<use href="#s" x="716.5" y="874.1"/>
<use href="#s" x="522.2" y="934.3"/>
<use href="#s" x="433.8" y="1094.2"/>
<use href="#s" x="869.8" y="746.9"/>
<use href="#s" x="684.6" y="869"/>
<use href="#s" x="417.3" y="877.3"/>
<use href="#s" x="708.1" y="711.2"/>
<use href="#s" x="496.1" y="930"/>
<use href="#s" x="611.2" y="781.5"/>
<use href="#s" x="449.7" y="853.8"/>
<use href="#s" x="848" y="880.4"/>
<use href="#s" x="444.5" y="1037.6"/>
<use href="#s" x="585.9" y="1018.3"/>
<use href="#s" x="536.9" y="888.5"/>
<use href="#s" x="765.7" y="726"/>
<use href="#s" x="699.8" y="977.1"/>
<use href="#s" x="404.9" y="994.1"/>
<use href="#s" x="487.4" y="996.4"/>
<use href="#s" x="581.5" y="833"/>
<use href="#s" x="583.2" y="877.3"/>
<use href="#s" x="407.9" y="958"/>
<use href="#s" x="565.2" y="864.8"/>
<use href="#s" x="403.7" y="1042.9"/>
<use href="#s" x="656.1" y="744.7"/>
<use href="#s" x="486.1" y="896.5"/>
<use href="#s" x="703.6" y="836.4"/>
<use href="#s" x="719.6" y="834.7"/>
<use href="#s" x="381.2" y="955.5"/>
<use href="#s" x="778" y="761.2"/>
<use href="#s" x="996.2" y="831.3"/>
<use href="#s" x="821.2" y="688.2"/>
<use href="#s" x="461.2" y="902.8"/>
<use href="#s" x="491.7" y="864.5"/>
<use href="#s" x="659.5" y="834.8"/>
<use href="#s" x="362.9" y="1010.6"/>
<use href="#s" x="950.3" y="714"/>
<use href="#s" x="441.9" y="888.5"/>
<use href="#s" x="541.6" y="829.1"/>
<use href="#s" x="499.2" y="903"/>
<use href="#s" x="493.5" y="878.2"/>
<use href="#s" x="1079.8" y="795.4"/>
<use href="#s" x="596.6" y="773.2"/>
<use href="#s" x="534.5" y="880.2"/>
<use href="#s" x="796.7" y="827.5"/>
<use href="#s" x="655.1" y="877.2"/>
<use href="#s" x="522.6" y="960.4"/>
<use href="#s" x="456.2" y="902.1"/>
<use href="#s" x="465.6" y="1012.7"/>
<use href="#s" x="775.5" y="868.6"/>
<use href="#s" x="680.3" y="813.5"/>
<use href="#s" x="428.9" y="932.1"/>
<use href="#s" x="706.5" y="803.7"/>
<use href="#s" x="531.7" y="829.4"/>
<use href="#s" x="493.2" y="882.7"/>
<use href="#s" x="822.3" y="779.1"/>
<use href="#s" x="1055.2" y="662.9"/>
<use href="#s" x="861.6" y="764.6"/>
<use href="#s" x="826.2" y="756.4"/>
<use href="#s" x="573.7" y="828"/>
<use href="#s" x="568.3" y="862.7"/>
<use href="#s" x="541.9" y="967.5"/>
<use href="#s" x="574.1" y="926.2"/>
<use href="#s" x="749" y="903.4"/>
<use href="#s" x="720.7" y="817.3"/>
<use href="#s" x="565.5" y="929.1"/>
<use href="#s" x="371.5" y="948.2"/>
<use href="#s" x="746.1" y="830.2"/>
<use href="#s" x="733.5" y="904.6"/>
<use href="#s" x="379.4" y="1179"/>
<use href="#s" x="645.1" y="880"/>
<use href="#s" x="673.5" y="951"/>
<use href="#s" x="503.5" y="885.5"/>
<use href="#s" x="516.5" y="1123.4"/>
<use href="#s" x="791" y="768.4"/>
<use href="#s" x="737.8" y="855.9"/>
<use href="#s" x="591.8" y="829.8"/>
<use href="#s" x="385.8" y="901"/>
<use href="#s" x="740.6" y="956.7"/>
<use href="#s" x="362.9" y="1022.7"/>
<use href="#s" x="446.6" y="1019.1"/>
<use href="#s" x="640.4" y="908.2"/>
<use href="#s" x="432.1" y="924.8"/>
<use href="#s" x="437.9" y="915.1"/>
<use href="#s" x="749.6" y="663.5"/>
<use href="#s" x="414.7" y="1007.4"/>
<use href="#s" x="424.1" y="1084.2"/>
<use href="#s" x="710.4" y="831.6"/>
<use href="#s" x="499.2" y="937"/>
<use href="#s" x="496.8" y="1011.5"/>
<use href="#s" x="426.1" y="944.7"/>
<use href="#s" x="657" y="898"/>
<use href="#s" x="745.9" y="867.3"/>
<use href="#s" x="910" y="851.6"/>
<use href="#s" x="551.7" y="958.1"/>
<use href="#s" x="637" y="954.6"/>
<use href="#s" x="782.6" y="821.8"/>
<use href="#s" x="627" y="865.2"/>
<use href="#s" x="766.7" y="803.7"/>
<use href="#s" x="701.1" y="906.7"/>
<use href="#s" x="648.5" y="845.2"/>
<use href="#s" x="667.7" y="847.6"/>
<use href="#s" x="452.4" y="880.2"/>
<use href="#s" x="508" y="855"/>
<use href="#s" x="717.7" y="815"/>
<use href="#s" x="656.3" y="934.4"/>
<use href="#s" x="1137" y="663"/>
<use href="#s" x="667.1" y="884"/>
<use href="#s" x="576" y="854.4"/>
<use href="#s" x="503.7" y="974.7"/>
<use href="#s" x="664.5" y="1022.4"/>
<use href="#s" x="451.7" y="884"/>
<use href="#s" x="723.2" y="786.8"/>
<use href="#s" x="538.8" y="917.2"/>
<use href="#s" x="450.4" y="933.5"/>
<use href="#s" x="736.3" y="858.3"/>
<use href="#s" x="379.1" y="956.3"/>
<use href="#s" x="649.7" y="860.5"/>
<use href="#s" x="597" y="843.5"/>
<use href="#s" x="592.2" y="927.1"/>
<use href="#s" x="789.3" y="738.6"/>
<use href="#s" x="1072.3" y="708.2"/>
<use href="#s" x="1046.1" y="887.6"/>
<use href="#s" x="424.5" y="996"/>
<use href="#s" x="434.9" y="901.4"/>
<use href="#s" x="724.4" y="749.3"/>
<use href="#s" x="592.6" y="872.5"/>
<use href="#s" x="555" y="809.6"/>
<use href="#s" x="798.3" y="1007.7"/>
<use href="#s" x="439.8" y="949.4"/>
<use href="#s" x="788.4" y="819.3"/>
<use href="#s" x="700.3" y="775.8"/>
<use href="#s" x="512" y="757.9"/>
<use href="#s" x="711.4" y="851.8"/>
<use href="#s" x="763.4" y="844.2"/>
<use href="#s" x="564.9" y="884.1"/>
<use href="#s" x="392.5" y="1074.8"/>
<use href="#s" x="423.8" y="951"/>
<use href="#s" x="425.4" y="1016.8"/>
<use href="#s" x="830.3" y="852.6"/>
<use href="#s" x="805" y="928.3"/>
<use href="#s" x="811.2" y="667.6"/>
<use href="#s" x="428" y="1014.7"/>
<use href="#s" x="394.4" y="987.2"/>
<use href="#s" x="692.9" y="945.8"/>
<use href="#s" x="643" y="788.7"/>
<use href="#s" x="774.2" y="908"/>
<use href="#s" x="612.4" y="916.8"/>
<use href="#s" x="384.1" y="932.8"/>
<use href="#s" x="772.1" y="949"/>
<use href="#s" x="725.3" y="866.2"/>
<use href="#s" x="460" y="949.6"/>
<use href="#s" x="911.2" y="813.7"/>
<use href="#s" x="648" y="792.3"/>
<use href="#s" x="417.6" y="923.3"/>
<use href="#s" x="1049.8" y="841.9"/>
<use href="#s" x="653.5" y="827.2"/>
<use href="#s" x="823.9" y="828.2"/>
<use href="#s" x="780.8" y="809"/>
<use href="#s" x="560.9" y="1051.6"/>
<use href="#s" x="799.3" y="884.5"/>
<use href="#s" x="919.1" y="752"/>
<use href="#s" x="492.1" y="948.7"/>
<use href="#s" x="648.1" y="990.1"/>
<use href="#s" x="694.5" y="845.2"/>
<use href="#s" x="929.2" y="770.8"/>
<use href="#s" x="445.3" y="915.1"/>
<use href="#s" x="811" y="890.5"/>
<use href="#s" x="564.6" y="841.5"/>
<use href="#s" x="807.8" y="895.4"/>
<use href="#s" x="703" y="783.2"/>
<use href="#s" x="593.8" y="950.4"/>
<use href="#s" x="524.3" y="857.5"/>
<use href="#s" x="434.2" y="938.3"/>
<use href="#s" x="465.3" y="1121.3"/>
<use href="#s" x="811.7" y="811.9"/>
<use href="#s" x="532.8" y="809.8"/>
<use href="#s" x="724.6" y="901"/>
<use href="#s" x="396" y="930.9"/>
<use href="#s" x="1045.2" y="732.7"/>
<use href="#s" x="612.4" y="912.8"/>
<use href="#s" x="436.4" y="1000.4"/>
<use href="#s" x="714.5" y="774.6"/>
<use href="#s" x="672.3" y="802.9"/>
<use href="#s" x="828.2" y="850.1"/>
<use href="#s" x="670.7" y="811.3"/>
<use href="#s" x="460" y="1060.5"/>
<use href="#s" x="517.3" y="883.1"/>
<use href="#s" x="799.9" y="753.2"/>
<use href="#s" x="528.1" y="866.1"/>
<use href="#s" x="695.7" y="963.6"/>
<use href="#s" x="630" y="901.4"/>
<use href="#s" x="597.3" y="907.8"/>
<use href="#s" x="779" y="967.8"/>
<use href="#s" x="781" y="799.3"/>
<use href="#s" x="596" y="944.1"/>
<use href="#s" x="671.4" y="942.7"/>
<use href="#s" x="592.2" y="860"/>
<use href="#s" x="677.1" y="978.9"/>
<use href="#s" x="490.1" y="897.4"/>
<use href="#s" x="570.8" y="903.9"/>
<use href="#s" x="583.8" y="865.1"/>
<use href="#s" x="677" y="868.1"/>
<use href="#s" x="569.4" y="1000.1"/>
<use href="#s" x="607.7" y="861.2"/>
<use href="#s" x="720.7" y="806.4"/>
<use href="#s" x="466.3" y="907.5"/>
<use href="#s" x="439.5" y="885.9"/>
<use href="#s" x="572" y="908.9"/>
<use href="#s" x="453.6" y="956.3"/>
<use href="#s" x="496.4" y="990.5"/>
<use href="#s" x="436.7" y="998"/>
<use href="#s" x="647.6" y="879.6"/>
<use href="#s" x="790.8" y="784.3"/>
<use href="#s" x="910.4" y="653"/>
<use href="#s" x="551.5" y="821.7"/>
<use href="#s" x="622.5" y="857.9"/>
<use href="#s" x="795.7" y="767.7"/>
<use href="#s" x="466" y="1064.7"/>
<use href="#s" x="484.6" y="869.3"/>
<use href="#s" x="780.9" y="846.1"/>
<use href="#s" x="466" y="888.8"/>
<use href="#s" x="655.7" y="867.6"/>
<use href="#s" x="494.8" y="859"/>
<use href="#s" x="1017.5" y="701.6"/>
<use href="#s" x="607.7" y="882"/>
<use href="#s" x="431.7" y="873.8"/>
<use href="#s" x="699.8" y="892.3"/>
<use href="#s" x="413" y="918"/>
<use href="#s" x="747" y="941.5"/>
<use href="#s" x="703" y="884.2"/>
<use href="#s" x="748.8" y="878.9"/>
<use href="#s" x="550.2" y="923.6"/>
<use href="#s" x="770.3" y="856.4"/>
<use href="#s" x="535.2" y="816.2"/>
<use href="#s" x="758.7" y="977.8"/>
<use href="#s" x="566.2" y="855.1"/>
<use href="#s" x="634.1" y="860.5"/>
<use href="#s" x="510.9" y="960"/>
<use href="#s" x="768" y="869.6"/>
<use href="#s" x="671" y="859.9"/>
<use href="#s" x="542.5" y="791"/>
<use href="#s" x="729.2" y="853.7"/>
<use href="#s" x="607.2" y="874.3"/>
<use href="#s" x="670.3" y="983.1"/>
<use href="#s" x="553.5" y="895.2"/>
<use href="#s" x="494.5" y="999.4"/>
<use href="#s" x="584.5" y="922.2"/>
<use href="#s" x="626.2" y="811.1"/>
<use href="#s" x="1050" y="718.7"/>
<use href="#s" x="438.2" y="1003.2"/>
<use href="#s" x="421" y="956.6"/>
<use href="#s" x="596.8" y="665.8"/>
<use href="#s" x="549" y="874.2"/>
<use href="#s" x="872.1" y="895.6"/>
<use href="#s" x="758.1" y="768.9"/>
<use href="#s" x="472.6" y="998.4"/>
<use href="#s" x="879.8" y="975.3"/>
<use href="#s" x="369" y="1023.2"/>
<use href="#s" x="620.4" y="905.2"/>
<use href="#s" x="461" y="1010.3"/>
<use href="#s" x="684.8" y="895.4"/>
<use href="#s" x="474.8" y="905.8"/>
<use href="#s" x="507.8" y="929.1"/>
<use href="#s" x="575.8" y="853"/>
<use href="#s" x="400.3" y="981.1"/>
<use href="#s" x="786.7" y="863.5"/>
<use href="#s" x="534.8" y="1014.5"/>
<use href="#s" x="558.7" y="790.8"/>
<use href="#s" x="720.2" y="927.1"/>
<use href="#s" x="485.8" y="930"/>
<use href="#s" x="646.7" y="944.5"/>
<use href="#s" x="480.4" y="826.3"/>
<use href="#s" x="747" y="762.6"/>
<use href="#s" x="644.8" y="940.1"/>
<use href="#s" x="430" y="1008.6"/>
<use href="#s" x="522.9" y="850.6"/>
<use href="#s" x="520.8" y="857.7"/>
<use href="#s" x="656.3" y="766.7"/>
<use href="#s" x="822.2" y="737.8"/>
<use href="#s" x="413.7" y="1075.7"/>
<use href="#s" x="791.1" y="746"/>
<use href="#s" x="693.7" y="868.4"/>
<use href="#s" x="494.5" y="875.8"/>
<use href="#s" x="892" y="836"/>
<use href="#s" x="520.7" y="947.6"/>
<use href="#s" x="433" y="893.4"/>
<use href="#s" x="539.5" y="902.4"/>
<use href="#s" x="603.4" y="994.7"/>
<use href="#s" x="419.3" y="1048.8"/>
<use href="#s" x="659.7" y="923.9"/>
<use href="#s" x="558.6" y="812.6"/>
<use href="#s" x="568.1" y="716.1"/>
<use href="#s" x="505.1" y="831.5"/>
<use href="#s" x="591.3" y="916.2"/>
<use href="#s" x="610.5" y="801"/>
<use href="#s" x="708.9" y="903.9"/>
<use href="#s" x="545" y="860.2"/>
<use href="#s" x="389.9" y="996.1"/>
<use href="#s" x="469.2" y="898.8"/>
<use href="#s" x="402.4" y="1067.3"/>
<use href="#s" x="596.7" y="980.1"/>
<use href="#s" x="474.1" y="816.7"/>
<use href="#s" x="617.8" y="953.9"/>
<use href="#s" x="881" y="763.4"/>
<use href="#s" x="627.7" y="918.7"/>
<use href="#s" x="608.6" y="772.6"/>
<use href="#s" x="367.1" y="1045.8"/>
<use href="#s" x="470.3" y="979.1"/>
<use href="#s" x="836.7" y="758.3"/>
<use href="#s" x="600.1" y="893"/>
<use href="#s" x="478.7" y="879"/>
<use href="#s" x="838.1" y="898.8"/>
<use href="#s" x="664.3" y="926.1"/>
<use href="#s" x="659.2" y="852.8"/>
<use href="#s" x="756.8" y="722.6"/>
<use href="#s" x="1061.3" y="700.1"/>
<use href="#s" x="760.4" y="775.5"/>
<use href="#s" x="568.3" y="1018.3"/>
<use href="#s" x="838.6" y="807.8"/>
<use href="#s" x="563" y="762.7"/>
<use href="#s" x="447.2" y="983.2"/>
<use href="#s" x="767.5" y="798.6"/>
<use href="#s" x="644.9" y="876.7"/>
<use href="#s" x="845.4" y="940"/>
<use href="#s" x="599.4" y="1052.7"/>
<use href="#s" x="614.2" y="840.9"/>
<use href="#s" x="666.6" y="882.1"/>
<use href="#s" x="506.3" y="1032.8"/>
<use href="#s" x="444.4" y="1084.2"/>
<use href="#s" x="642.6" y="1080.2"/>
<use href="#s" x="438.9" y="930.6"/>
<use href="#s" x="781" y="883.9"/>
<use href="#s" x="553.4" y="859.1"/>
<use href="#s" x="684.3" y="917.4"/>
<use href="#s" x="545.1" y="930.5"/>
<use href="#s" x="635.7" y="959.3"/>
<use href="#s" x="502.5" y="916.6"/>
<use href="#s" x="411" y="886.5"/>
<use href="#s" x="394.8" y="1112.6"/>
<use href="#s" x="390.2" y="1084.9"/>
<use href="#s" x="810.3" y="942.3"/>
<use href="#s" x="876.8" y="812.6"/>
<use href="#s" x="604" y="802.6"/>
<use href="#s" x="479.4" y="972.5"/>
<use href="#s" x="520.3" y="1049"/>
<use href="#s" x="524" y="992.6"/>
<use href="#s" x="704.3" y="819.2"/>
<use href="#s" x="702.3" y="847.7"/>
<use href="#s" x="397.9" y="909.7"/>
<use href="#s" x="457.2" y="912.3"/>
<use href="#s" x="389" y="1036.2"/>
<use href="#s" x="479.5" y="890.8"/>
<use href="#s" x="691.6" y="975.9"/>
<use href="#s" x="708.1" y="853.3"/>
<use href="#s" x="716.9" y="758.5"/>
<use href="#s" x="799" y="769.2"/>
<use href="#s" x="721.1" y="765.4"/>
<use href="#s" x="565.7" y="848.4"/>
<use href="#s" x="584.9" y="887.5"/>
<use href="#s" x="618" y="748.4"/>
<use href="#s" x="774.3" y="782.6"/>
<use href="#s" x="399.3" y="1049.4"/>
<use href="#s" x="670.4" y="794"/>
<use href="#s" x="517.7" y="906.9"/>
<use href="#s" x="444.5" y="887.2"/>
<use href="#s" x="476.1" y="875.4"/>
<use href="#o" x="971.4" y="953.7"/>
<use href="#o" x="506.3" y="1131.8"/>
<use href="#o" x="518.9" y="1076.9"/>
<use href="#o" x="826.8" y="782.4"/>
<use href="#o" x="478.6" y="931.5"/>
<use href="#o" x="621.9" y="1043.7"/>
<use href="#o" x="583.2" y="957.2"/>
<use href="#o" x="764.8" y="859"/>
<use href="#o" x="565.3" y="851.1"/>
<use href="#o" x="922.7" y="942.6"/>
<use href="#o" x="378.1" y="952.8"/>
<use href="#o" x="512.6" y="1032.5"/>
<use href="#o" x="515.6" y="941.5"/>
<use href="#o" x="410" y="1023.7"/>
<use href="#o" x="901.1" y="770.6"/>
<use href="#o" x="583.4" y="883.6"/>
<use href="#o" x="562.8" y="862.4"/>
<use href="#o" x="797.4" y="825.9"/>
<use href="#o" x="812" y="909.8"/>
<use href="#o" x="972.6" y="942.6"/>
<use href="#o" x="519.5" y="1143.7"/>
<use href="#o" x="444" y="1071.1"/>
<use href="#o" x="525.4" y="971.5"/>
<use href="#o" x="794.4" y="867"/>
<use href="#o" x="740.1" y="896.7"/>
<use href="#o" x="406.1" y="971"/>
<use href="#o" x="436.9" y="1148.3"/>
<use href="#o" x="667.2" y="1033.7"/>
<use href="#o" x="682.8" y="907.1"/>
<use href="#o" x="500.8" y="1067.2"/>
<use href="#o" x="636.1" y="1000.2"/>
<use href="#o" x="532.8" y="774.6"/>
<use href="#o" x="471" y="930.1"/>
<use href="#o" x="385.5" y="971.2"/>
<use href="#o" x="576.4" y="925.6"/>
<use href="#o" x="487.4" y="1032.5"/>
<use href="#o" x="458.3" y="910.3"/>
<use href="#o" x="661.6" y="814.8"/>
<use href="#o" x="783.8" y="909.8"/>
<use href="#o" x="470.9" y="978.5"/>
<use href="#o" x="664.6" y="1002.7"/>
<use href="#o" x="458.4" y="1170.5"/>
<use href="#o" x="836.8" y="775.1"/>
<use href="#o" x="1026.6" y="996.6"/>
<use href="#o" x="401.3" y="995.3"/>
<use href="#o" x="695.9" y="912.8"/>
<use href="#o" x="559.4" y="943.3"/>
<use href="#o" x="436.9" y="882.4"/>
<use href="#o" x="848.5" y="728.9"/>
<use href="#o" x="528.7" y="1052.5"/>
<use href="#o" x="404.1" y="891.4"/>
<use href="#o" x="778.6" y="928.8"/>
<use href="#o" x="611.3" y="846.5"/>
<use href="#o" x="689.3" y="870.6"/>
<use href="#o" x="762.7" y="883.7"/>
<use href="#o" x="548.2" y="927.3"/>
<use href="#o" x="371.4" y="991.8"/>
<use href="#o" x="405.4" y="944.1"/>
<use href="#o" x="529" y="1012.7"/>
<use href="#o" x="681" y="1030.1"/>
<use href="#o" x="698.4" y="923.5"/>
<use href="#o" x="639.5" y="976.3"/>
<use href="#o" x="602.1" y="992.4"/>
<use href="#o" x="445.6" y="912.9"/>
<use href="#o" x="472.5" y="999.3"/>
<use href="#o" x="430.8" y="848"/>
<use href="#o" x="589.7" y="1085.9"/>
<use href="#o" x="630.6" y="764.8"/>
<use href="#o" x="389" y="1176.8"/>
<use href="#o" x="530.2" y="1051.8"/>
<use href="#o" x="489" y="904.7"/>
<use href="#o" x="786.2" y="972.2"/>
<use href="#o" x="384.7" y="967.1"/>
<use href="#o" x="642" y="954.5"/>
<use href="#o" x="441.5" y="1015"/>
<use href="#o" x="589.7" y="960.3"/>
<use href="#o" x="443.2" y="955.1"/>
<use href="#o" x="455.4" y="1035.9"/>
<use href="#o" x="527.7" y="836.4"/>
<use href="#o" x="653.2" y="792.5"/>
<use href="#o" x="409" y="970.5"/>
<use href="#o" x="885.2" y="672.2"/>
<use href="#o" x="461" y="1097.3"/>
<use href="#o" x="721.2" y="1102.1"/>
<use href="#o" x="627.2" y="904.1"/>
<use href="#o" x="879.2" y="980.1"/>
<use href="#o" x="798.4" y="927.2"/>
<use href="#o" x="896.7" y="809.2"/>
<use href="#o" x="819.7" y="923.9"/>
<use href="#o" x="518.9" y="932"/>
<use href="#o" x="668.2" y="979"/>
<use href="#o" x="770.8" y="1088.2"/>
<use href="#o" x="451.8" y="990.2"/>
<use href="#o" x="374" y="967.1"/>
<use href="#o" x="406.1" y="987.1"/>
<use href="#o" x="991.7" y="765.9"/>
<use href="#o" x="554.4" y="1003.1"/>
<use href="#o" x="506.5" y="981.8"/>
<use href="#o" x="415.4" y="1085.5"/>
<use href="#o" x="515.7" y="909.4"/>
<use href="#o" x="1115.2" y="927.6"/>
<use href="#o" x="845.9" y="830"/>
<use href="#o" x="639" y="939"/>
<use href="#o" x="445.2" y="943.9"/>
<use href="#o" x="511.4" y="1006.3"/>
<use href="#o" x="379.3" y="939.5"/>
<use href="#o" x="761.8" y="1082.5"/>
<use href="#o" x="510.8" y="891.5"/>
<use href="#o" x="630.2" y="1038.6"/>
<use href="#o" x="674.9" y="920.6"/>
<use href="#o" x="831.5" y="893.4"/>
<use href="#o" x="725.1" y="993.6"/>
<use href="#o" x="507" y="828.4"/>
<use href="#o" x="606.8" y="916.3"/>
<use href="#o" x="789.8" y="861.8"/>
<use href="#o" x="868.9" y="663.7"/>
<use href="#o" x="737" y="860.6"/>
<use href="#o" x="841.8" y="909.2"/>
<use href="#o" x="371.2" y="1065"/>
<use href="#o" x="378.8" y="996.5"/>
<use href="#o" x="398.4" y="1161.2"/>
<use href="#o" x="651.2" y="822.9"/>
<use href="#o" x="643.7" y="939.5"/>
<use href="#o" x="412.1" y="989.3"/>
<use href="#o" x="553.7" y="972.1"/>
<use href="#o" x="414" y="1019"/>
<use href="#o" x="663.7" y="916.6"/>
<use href="#o" x="762.5" y="668.1"/>
<use href="#o" x="694.1" y="1060.3"/>
<use href="#o" x="475" y="979.7"/>
<use href="#o" x="957.4" y="866.3"/>
<use href="#o" x="558.6" y="897.8"/>
<use href="#o" x="750.8" y="895.3"/>
<use href="#o" x="785" y="885"/>
<use href="#o" x="422.3" y="959.7"/>
<use href="#o" x="823" y="861.4"/>
<use href="#o" x="506.8" y="903.2"/>
<use href="#o" x="1038.8" y="752.9"/>
<use href="#o" x="576" y="994.8"/>
<use href="#o" x="644.2" y="754.7"/>
<use href="#o" x="821.8" y="1080.6"/>
<use href="#o" x="815.1" y="956"/>
<use href="#o" x="467.3" y="1030.1"/>
<use href="#o" x="421.1" y="945.2"/>
<use href="#o" x="690.2" y="831.1"/>
<use href="#o" x="649.9" y="858.5"/>
<use href="#o" x="494.9" y="894.4"/>
<use href="#o" x="618.6" y="846.9"/>
<use href="#o" x="397.7" y="987.8"/>
<use href="#o" x="721.9" y="904.7"/>
<use href="#o" x="600.7" y="948.2"/>
<use href="#o" x="387.9" y="921.5"/>
<use href="#o" x="687" y="953.3"/>
<use href="#o" x="586.7" y="1035.5"/>
<use href="#o" x="908" y="893.2"/>
<use href="#o" x="420" y="978.2"/>
<use href="#o" x="914.9" y="790.5"/>
<use href="#o" x="514.6" y="1126"/>
<use href="#o" x="662.7" y="921"/>
<use href="#o" x="605.8" y="1020"/>
<use href="#o" x="628.9" y="997.4"/>
<use href="#o" x="574.5" y="894.6"/>
<use href="#o" x="375.6" y="978.5"/>
<use href="#o" x="693.1" y="878.7"/>
<use href="#o" x="659.2" y="891.9"/>
<use href="#o" x="365.2" y="1039.5"/>
<use href="#o" x="671.4" y="937.3"/>
<use href="#o" x="570.7" y="997.9"/>
<use href="#o" x="652.5" y="890.7"/>
<use href="#o" x="631.5" y="899.5"/>
<use href="#o" x="452.1" y="1048.9"/>
<use href="#o" x="684.8" y="837.9"/>
<use href="#o" x="441.5" y="1225.9"/>
<use href="#o" x="820.6" y="919.6"/>
<use href="#o" x="537.9" y="841.3"/>
<use href="#o" x="1049.8" y="799"/>
<use href="#o" x="636.5" y="1132.1"/>
<use href="#o" x="382.7" y="979.7"/>
<use href="#o" x="589.5" y="955.1"/>
<use href="#o" x="743.2" y="965.4"/>
<use href="#o" x="797.9" y="789.2"/>
<use href="#o" x="812" y="858.2"/>
<use href="#o" x="420.6" y="990.5"/>
<use href="#o" x="803.6" y="838.9"/>
<use href="#o" x="929.3" y="793"/>
<use href="#o" x="370" y="1077.5"/>
<use href="#o" x="484.9" y="829.4"/>
<use href="#o" x="623.3" y="956.5"/>
<use href="#o" x="680.6" y="1062.5"/>
<use href="#o" x="383.9" y="957.1"/>
<use href="#o" x="628.8" y="815.1"/>
<use href="#o" x="471" y="994.6"/>
<use href="#o" x="368.1" y="971.9"/>
<use href="#o" x="404.4" y="1032.7"/>
<use href="#o" x="403.6" y="906.8"/>
<use href="#o" x="1046.6" y="766.7"/>
<use href="#o" x="475.1" y="939.9"/>
<use href="#o" x="827.8" y="968"/>
<use href="#o" x="652.2" y="883.5"/>
<use href="#o" x="394.7" y="1071.1"/>
<use href="#o" x="618.4" y="908.7"/>
<use href="#o" x="471.8" y="949.7"/>
<use href="#o" x="421.3" y="991.1"/>
<use href="#o" x="586.3" y="842.7"/>
<use href="#o" x="790.3" y="796.5"/>
<use href="#o" x="458" y="933.5"/>
<use href="#o" x="805.7" y="707.3"/>
<use href="#o" x="884.5" y="849.1"/>
<use href="#o" x="642.9" y="929.1"/>
<use href="#o" x="488.4" y="968.6"/>
<use href="#o" x="636.4" y="1023.7"/>
<use href="#o" x="652.5" y="878.5"/>
<use href="#o" x="649.5" y="888.3"/>
<use href="#o" x="560.6" y="1013.7"/>
<use href="#o" x="596" y="1021.5"/>
<use href="#o" x="678.2" y="837.1"/>
<use href="#o" x="403.3" y="883.5"/>
<use href="#o" x="588.5" y="874"/>
<use href="#o" x="371.1" y="1080"/>
<use href="#o" x="645" y="937.7"/>
<use href="#o" x="394.5" y="1015.5"/>
<use href="#o" x="787.9" y="833.7"/>
<use href="#o" x="731.7" y="817.8"/>
<use href="#o" x="621.1" y="818.8"/>
<use href="#o" x="379.2" y="879.3"/>
<use href="#o" x="596.4" y="844.6"/>
<use href="#o" x="525.3" y="1062.4"/>
<use href="#o" x="470.4" y="964.4"/>
<use href="#o" x="404.4" y="981"/>
<use href="#o" x="746.5" y="1146.8"/>
<use href="#o" x="603.9" y="891.2"/>
<use href="#o" x="388" y="997.6"/>
<use href="#o" x="821.3" y="866.5"/>
<use href="#o" x="424.2" y="1120.6"/>
<use href="#o" x="447.8" y="953.9"/>
<use href="#o" x="628" y="1165.5"/>
<use href="#o" x="583.5" y="860.9"/>
<use href="#o" x="663.6" y="774.9"/>
<use href="#o" x="380.7" y="1041"/>
<use href="#o" x="742.3" y="865.7"/>
<use href="#o" x="369" y="981.9"/>
<use href="#o" x="474.3" y="1033.4"/>
<use href="#o" x="885" y="954.2"/>
<use href="#o" x="722.8" y="862.3"/>
<use href="#o" x="364" y="1107.5"/>
<use href="#o" x="795.3" y="735"/>
<use href="#o" x="518.1" y="990.5"/>
<use href="#o" x="458.5" y="1058.6"/>
<use href="#o" x="805" y="705.7"/>
<use href="#o" x="602.2" y="984.5"/>
<use href="#o" x="397.8" y="999.4"/>
<use href="#o" x="454.5" y="905.3"/>
<use href="#o" x="665.6" y="954.4"/>
<use href="#o" x="578.6" y="955.7"/>
<use href="#o" x="693.1" y="914.7"/>
<use href="#o" x="641.5" y="873.2"/>
<use href="#o" x="431.2" y="931.4"/>
<use href="#o" x="804.9" y="887.5"/>
<use href="#o" x="598.3" y="989.3"/>
<use href="#o" x="597.5" y="1117.3"/>
<use href="#o" x="724" y="787.4"/>
<use href="#o" x="438.1" y="915.2"/>
<use href="#o" x="815.9" y="965.6"/>
<use href="#o" x="990.5" y="686.1"/>
<use href="#o" x="751.7" y="940"/>
<use href="#o" x="512.7" y="894.2"/>
<use href="#o" x="403.6" y="961.7"/>
<use href="#o" x="825.7" y="939.6"/>
<use href="#o" x="678.6" y="1031.9"/>
<use href="#o" x="504" y="941.6"/>
<use href="#o" x="696.9" y="966.7"/>
<use href="#o" x="672.5" y="875.8"/>
<use href="#o" x="394.9" y="901.1"/>
<use href="#o" x="598.1" y="1029.5"/>
<use href="#o" x="498.3" y="999.9"/>
<use href="#o" x="524.9" y="911.7"/>
<use href="#o" x="421.5" y="939.1"/>
<use href="#o" x="788.4" y="699.9"/>
<use href="#o" x="662.5" y="792.1"/>
<use href="#o" x="461.5" y="942.8"/>
<use href="#o" x="558.3" y="943"/>
<use href="#o" x="390.5" y="1034.4"/>
<use href="#o" x="818.5" y="860.8"/>
<use href="#o" x="403.3" y="995.6"/>
<use href="#o" x="630.5" y="1003.8"/>
<use href="#o" x="403.6" y="1081.1"/>
<use href="#o" x="739.4" y="1000.7"/>
<use href="#o" x="606.3" y="852.4"/>
<use href="#o" x="686.7" y="992.2"/>
<use href="#o" x="390.9" y="1146"/>
<use href="#o" x="808.6" y="891.5"/>
<use href="#o" x="366.6" y="1097.5"/>
<use href="#o" x="545.6" y="842.1"/>
<use href="#o" x="593.3" y="1050.6"/>
<use href="#o" x="610.7" y="935.8"/>
<use href="#o" x="667.7" y="782"/>
<use href="#o" x="705.2" y="1021.8"/>
<use href="#o" x="682.9" y="975.5"/>
<use href="#o" x="372.7" y="969.2"/>
<use href="#o" x="619.3" y="870.7"/>
<use href="#o" x="370.3" y="1003.1"/>
<use href="#o" x="432" y="902.3"/>
<use href="#o" x="733.3" y="900.2"/>
<use href="#o" x="729.2" y="928.9"/>
<use href="#o" x="563.8" y="822.8"/>
<use href="#o" x="467.6" y="936.4"/>
<use href="#o" x="643.6" y="1043.1"/>
<use href="#o" x="548.5" y="1033.8"/>
<use href="#o" x="498.8" y="888.6"/>
<use href="#o" x="413.6" y="939.8"/>
<use href="#o" x="772.1" y="760.2"/>
<use href="#o" x="550" y="840.1"/>
<use href="#o" x="370.5" y="1008.9"/>
<use href="#o" x="1019" y="859.6"/>
<use href="#o" x="396.4" y="960.6"/>
<use href="#o" x="458.8" y="920.3"/>
<use href="#o" x="623.1" y="879.8"/>
<use href="#o" x="410.2" y="930.5"/>
<use href="#o" x="647.4" y="974.5"/>
<use href="#o" x="800.5" y="957.4"/>
<use href="#o" x="409.7" y="1033.4"/>
<use href="#o" x="376.4" y="1157"/>
<use href="#o" x="980.3" y="815.6"/>
<use href="#o" x="447.9" y="1041.3"/>
<use href="#o" x="449.4" y="908.1"/>
<use href="#o" x="654.6" y="911.7"/>
<use href="#o" x="397.5" y="929.2"/>
<use href="#o" x="575.4" y="872.7"/>
<use href="#o" x="416.5" y="1050.1"/>
<use href="#o" x="635.2" y="908.3"/>
<use href="#o" x="711.8" y="1003.3"/>
<use href="#o" x="678.7" y="864.1"/>
<use href="#o" x="696.9" y="869.4"/>
<use href="#o" x="520.2" y="937.6"/>
<use href="#o" x="586.9" y="979.6"/>
<use href="#o" x="717.5" y="944.2"/>
<use href="#o" x="471.6" y="1013.7"/>
<use href="#o" x="371" y="976"/>
<use href="#o" x="1037.5" y="893.7"/>
<use href="#o" x="645" y="885.2"/>
<use href="#o" x="458.2" y="905.4"/>
<use href="#o" x="450.3" y="927.6"/>
<use href="#o" x="717.4" y="811.8"/>
<use href="#o" x="505.1" y="1078.3"/>
<use href="#o" x="812.1" y="877.7"/>
<use href="#o" x="448.3" y="950.8"/>
<use href="#o" x="422.1" y="974.9"/>
<use href="#o" x="458" y="1029.9"/>
<use href="#o" x="1163.1" y="839.2"/>
<use href="#o" x="606.2" y="897.6"/>
<use href="#o" x="554" y="1062.3"/>
<use href="#o" x="1002.3" y="672.2"/>
<use href="#o" x="398.8" y="1004.1"/>
<use href="#o" x="380.2" y="938"/>
<use href="#o" x="713.6" y="894.1"/>
<use href="#o" x="764.5" y="1018.4"/>
<use href="#o" x="536.2" y="884.5"/>
<use href="#o" x="981.3" y="802.7"/>
<use href="#o" x="395.6" y="1105"/>
<use href="#o" x="453.8" y="1070.5"/>
<use href="#o" x="639.7" y="996.3"/>
<use href="#o" x="730.8" y="980.6"/>
<use href="#o" x="384" y="956.6"/>
<use href="#o" x="423.8" y="1033"/>
<use href="#o" x="363" y="953.5"/>
<use href="#o" x="640" y="894.8"/>
<use href="#o" x="643.3" y="940.8"/>
<use href="#o" x="616.5" y="965.2"/>
<use href="#o" x="636.8" y="881.8"/>
<use href="#o" x="755.8" y="1052.1"/>
<use href="#o" x="989.6" y="865.1"/>
<use href="#o" x="826.7" y="872.1"/>
<use href="#o" x="733.7" y="780.9"/>
<use href="#o" x="565.9" y="964.3"/>
<use href="#o" x="463.3" y="1042.2"/>
<use href="#o" x="458.1" y="933.4"/>
<use href="#o" x="474.1" y="906.5"/>
<use href="#o" x="766.8" y="971"/>
<use href="#o" x="497.3" y="1050.8"/>
<use href="#o" x="440.2" y="944.6"/>
<use href="#o" x="735.4" y="858.1"/>
<use href="#o" x="765.4" y="950.4"/>
<use href="#o" x="404" y="969"/>
<use href="#o" x="873.9" y="721.2"/>
<use href="#o" x="653.1" y="865.3"/>
<use href="#o" x="408.2" y="985.2"/>
<use href="#o" x="602.8" y="850.5"/>
<use href="#o" x="657.1" y="865.6"/>
<use href="#o" x="634.8" y="973.4"/>
<use href="#o" x="854.4" y="706.6"/>
<use href="#o" x="371" y="933.9"/>
<use href="#o" x="703.5" y="829.9"/>
<use href="#o" x="1077.5" y="692.3"/>
<use href="#o" x="773.3" y="923.8"/>
<use href="#o" x="697" y="971.6"/>
<use href="#o" x="806.6" y="893.9"/>
<use href="#o" x="553.3" y="900"/>
<use href="#o" x="555.5" y="893.5"/>
<use href="#o" x="810" y="924"/>
<use href="#o" x="644" y="756.5"/>
<use href="#o" x="706.4" y="809.6"/>
<use href="#o" x="619.5" y="952.5"/>
<use href="#o" x="502.6" y="1077"/>
<use href="#o" x="660" y="1051.1"/>
<use href="#o" x="735.8" y="916.8"/>
<use href="#o" x="638" y="917.4"/>
<use href="#o" x="390" y="1002.5"/>
<use href="#o" x="535.5" y="880"/>
<use href="#o" x="793.9" y="928.6"/>
<use href="#o" x="839.1" y="784.4"/>
<use href="#o" x="533.7" y="1049.8"/>
<use href="#o" x="544.2" y="1086"/>
<use href="#o" x="579.2" y="998.9"/>
<use href="#o" x="585.3" y="905.1"/>
<use href="#o" x="399.6" y="1037.9"/>
<use href="#o" x="681.5" y="912.9"/>
<use href="#o" x="571.7" y="976.3"/>
<use href="#o" x="478.7" y="938.5"/>
<use href="#o" x="596.1" y="1003.8"/>
<use href="#o" x="564" y="1100.7"/>
<use href="#o" x="709.2" y="876.8"/>
<use href="#o" x="745.8" y="853"/>
<use href="#o" x="696.4" y="1016"/>
<use href="#o" x="727.3" y="923.4"/>
<use href="#o" x="462.3" y="894.9"/>
<use href="#o" x="525.6" y="972.4"/>
<use href="#o" x="442" y="977.8"/>
<use href="#o" x="799.5" y="907.3"/>
<use href="#o" x="381.3" y="1148.7"/>
<use href="#o" x="743.3" y="979.3"/>
<use href="#o" x="614.5" y="916.7"/>
<use href="#o" x="594" y="916.6"/>
<use href="#o" x="518.2" y="845.1"/>
<use href="#o" x="368.5" y="893"/>
<use href="#o" x="550.7" y="1040.2"/>
<use href="#o" x="449.7" y="1173.5"/>
<use href="#o" x="446" y="909.6"/>
<use href="#o" x="488.3" y="891.1"/>
<use href="#o" x="540.2" y="866.2"/>
<use href="#o" x="601.3" y="1019.3"/>
<use href="#o" x="472.7" y="1136.3"/>
<use href="#o" x="573.2" y="1163.6"/>
<use href="#o" x="638.7" y="817.4"/>
<use href="#o" x="726.1" y="1027.6"/>
<use href="#o" x="543.1" y="1027.7"/>
<use href="#o" x="451" y="1099.4"/>
<use href="#o" x="473.3" y="1108"/>
<use href="#o" x="611.6" y="775.2"/>
<use href="#o" x="439.9" y="1028.7"/>
<use href="#o" x="749.6" y="953.9"/>
<use href="#o" x="613.4" y="887.9"/>
<use href="#o" x="460.2" y="958.1"/>
<use href="#o" x="445.7" y="955.6"/>
<use href="#o" x="625.1" y="966.3"/>
<use href="#o" x="398" y="932.1"/>
<use href="#o" x="924.3" y="819"/>
<use href="#o" x="441.8" y="1074.9"/>
<use href="#o" x="392.6" y="988.9"/>
<use href="#o" x="491.7" y="902.8"/>
<use href="#o" x="712" y="798.1"/>
<use href="#o" x="392.7" y="1038.7"/>
<use href="#o" x="397.7" y="1092.8"/>
<use href="#o" x="477.7" y="1036.2"/>
<use href="#o" x="861.2" y="792.5"/>
<use href="#o" x="372.7" y="1008.5"/>
<use href="#o" x="719.7" y="721.5"/>
<use href="#o" x="891.4" y="922.3"/>
<use href="#o" x="389.7" y="1021.6"/>
<use href="#o" x="412" y="947.5"/>
<use href="#o" x="813.7" y="927.8"/>
<use href="#o" x="372" y="912.1"/>
<use href="#o" x="533.1" y="831.9"/>
<use href="#o" x="1037.4" y="823.3"/>
<use href="#o" x="795.1" y="916.5"/>
<use href="#o" x="641.7" y="836.9"/>
<use href="#o" x="458.8" y="990.8"/>
<use href="#o" x="787" y="931.1"/>
<use href="#o" x="421.1" y="914"/>
<use href="#o" x="680.5" y="827.8"/>
<use href="#o" x="673.6" y="744.1"/>
<use href="#o" x="367.7" y="939.6"/>
<use href="#o" x="790.4" y="979.7"/>
<use href="#o" x="799.3" y="739.4"/>
<use href="#o" x="493" y="1010.8"/>
<use href="#o" x="618.2" y="871"/>
<use href="#o" x="680.3" y="895"/>
<use href="#o" x="654.1" y="846.2"/>
<use href="#o" x="476.3" y="1122.2"/>
<use href="#o" x="494.3" y="836.3"/>
<use href="#o" x="724.3" y="899"/>
<use href="#o" x="828.6" y="990.6"/>
<use href="#o" x="525" y="1077.2"/>
<use href="#o" x="514.2" y="973.4"/>
<use href="#o" x="466.8" y="963.7"/>
<use href="#o" x="1000.3" y="782.3"/>
<use href="#o" x="663.7" y="914"/>
<use href="#o" x="648.1" y="994.2"/>
<use href="#o" x="634.2" y="826.3"/>
<use href="#o" x="410.5" y="1191.3"/>
<use href="#o" x="408.7" y="934.9"/>
<use href="#o" x="790.8" y="853.2"/>
<use href="#o" x="534.1" y="1023.7"/>
<use href="#o" x="706.1" y="1046.6"/>
<use href="#o" x="461.9" y="918.5"/>
<use href="#o" x="649.5" y="990.1"/>
<use href="#o" x="485" y="898.6"/>
<use href="#o" x="746.3" y="1088.7"/>
<use href="#o" x="449.2" y="906.6"/>
<use href="#o" x="366.5" y="1011.6"/>
<use href="#o" x="780.4" y="716.1"/>
<use href="#o" x="545.7" y="820.1"/>
<use href="#o" x="417.7" y="909.2"/>
<use href="#o" x="531.1" y="840.4"/>
<use href="#o" x="569.4" y="912"/>
<use href="#o" x="600.7" y="933.1"/>
<use href="#o" x="907.8" y="791.2"/>
<use href="#o" x="519.1" y="1115.5"/>
<use href="#o" x="618.7" y="797.6"/>
<use href="#o" x="723.8" y="913.3"/>
<use href="#o" x="744.8" y="945.7"/>
<use href="#o" x="399.4" y="1023.6"/>
<use href="#o" x="686.6" y="877"/>
<use href="#o" x="568.8" y="972.3"/>
<use href="#o" x="539.1" y="812"/>
<use href="#o" x="445.1" y="1167.5"/>
<use href="#o" x="467.8" y="902.2"/>
<use href="#o" x="414.7" y="927.8"/>
<use href="#o" x="593.8" y="976.5"/>
<use href="#o" x="495.5" y="982"/>
<use href="#o" x="649.7" y="938.6"/>
<use href="#o" x="443.3" y="938.3"/>
<use href="#o" x="582.7" y="990.5"/>
<use href="#o" x="370.7" y="974"/>
<use href="#o" x="637.3" y="963"/>
<use href="#o" x="761.8" y="814.7"/>
<use href="#o" x="598" y="987.5"/>
<use href="#o" x="803.6" y="787"/>
<use href="#o" x="486.9" y="1050"/>
<use href="#o" x="697.1" y="861.8"/>
<use href="#o" x="403.8" y="842.3"/>
<use href="#o" x="559.7" y="930.8"/>
<use href="#o" x="525.1" y="813.5"/>
<use href="#o" x="798.4" y="1026.6"/>
<use href="#o" x="372.8" y="1002.6"/>
<use href="#o" x="874.1" y="922.2"/>
<use href="#o" x="681.9" y="882.9"/>
<use href="#o" x="543.4" y="1004.9"/>
<use href="#o" x="425" y="1118"/>
<use href="#o" x="692.6" y="879.1"/>
<use href="#o" x="426.3" y="1122.4"/>
<use href="#o" x="587.8" y="932.4"/>
<use href="#o" x="491.2" y="1044.5"/>
<use href="#o" x="550.2" y="994.3"/>
<use href="#o" x="598.5" y="864.5"/>
<use href="#o" x="487.7" y="885.8"/>
<use href="#o" x="947.1" y="872"/>
<use href="#o" x="389.6" y="890.7"/>
<use href="#o" x="601.6" y="920.6"/>
<use href="#o" x="847.5" y="1004.8"/>
<use href="#o" x="573.8" y="962.2"/>
<use href="#o" x="499.1" y="1011.2"/>
<use href="#o" x="528" y="865.3"/>
<use href="#o" x="474.6" y="1058.9"/>
<use href="#o" x="799.1" y="854.2"/>
<use href="#o" x="400.4" y="957.1"/>
<use href="#o" x="693.6" y="843.1"/>
<use href="#o" x="532.1" y="1024.1"/>
<use href="#o" x="619.3" y="836.3"/>
<use href="#o" x="665.7" y="774.2"/>
<use href="#o" x="406.6" y="975"/>
<use href="#o" x="362" y="988.3"/>
<use href="#o" x="664.2" y="920"/>
<use href="#o" x="629.3" y="930.8"/>
<use href="#o" x="557.6" y="852.4"/>
<use href="#o" x="679.3" y="807.5"/>
<use href="#o" x="404.8" y="893.5"/>
<use href="#o" x="551.3" y="840.3"/>
<use href="#o" x="720.4" y="956.9"/>
<use href="#o" x="699" y="879.8"/>
<use href="#o" x="621.4" y="1078.9"/>
<use href="#o" x="539.8" y="755.6"/>
<use href="#o" x="795.1" y="1101"/>
<use href="#o" x="417.6" y="996.7"/>
<use href="#o" x="550.9" y="934.5"/>
<use href="#o" x="519.5" y="1018.7"/>
<use href="#o" x="627.9" y="983.5"/>
<use href="#o" x="492.8" y="942.4"/>
<use href="#o" x="483" y="984.5"/>
<use href="#o" x="439.7" y="936.4"/>
<use href="#o" x="436.1" y="824.2"/>
<use href="#o" x="542.8" y="878.2"/>
<use href="#o" x="1046.9" y="851.9"/>
<use href="#o" x="656.6" y="1086.3"/>
<use href="#o" x="991.2" y="833.6"/>
<use href="#o" x="437.9" y="867.5"/>
<use href="#o" x="542.7" y="929.8"/>
<use href="#o" x="678.2" y="792.2"/>
<use href="#o" x="650.4" y="884.4"/>
<use href="#o" x="441.3" y="993.9"/>
<use href="#o" x="424.4" y="924.5"/>
<use href="#o" x="447.9" y="1006.3"/>
<use href="#o" x="566.5" y="941.7"/>
<use href="#o" x="596" y="877.7"/>
<use href="#o" x="426.4" y="1008.2"/>
<use href="#o" x="726.3" y="1013.6"/>
<use href="#o" x="581.7" y="1006.8"/>
<use href="#o" x="639.5" y="840.5"/>
<use href="#o" x="591.4" y="987.4"/>
<use href="#o" x="444.9" y="1099.1"/>
<use href="#o" x="382.7" y="1123.5"/>
<use href="#o" x="639.7" y="908.2"/>
<use href="#o" x="750.8" y="945.9"/>
<use href="#o" x="395.4" y="1319.4"/>
<use href="#o" x="528.4" y="875"/>
<use href="#o" x="826.5" y="796.7"/>
<use href="#o" x="719.4" y="943.4"/>
<use href="#o" x="521.6" y="978"/>
<use href="#o" x="535.6" y="848.6"/>
<use href="#o" x="705.2" y="1009.5"/>
<use href="#o" x="760.2" y="913.3"/>
<use href="#o" x="832.5" y="804.5"/>
<use href="#o" x="437.6" y="1065.6"/>
<use href="#o" x="523.2" y="922.6"/>
<use href="#o" x="718.9" y="908.4"/>
<use href="#o" x="780.6" y="965.4"/>
<use href="#o" x="737.1" y="790.2"/>
<use href="#o" x="648" y="984.3"/>
<use href="#o" x="658.3" y="864.8"/>
<use href="#o" x="516" y="1083.4"/>
<use href="#o" x="619.6" y="871"/>
<use href="#o" x="528.4" y="908.5"/>
<use href="#o" x="882.1" y="849.1"/>
<use href="#o" x="748.2" y="912.9"/>
<use href="#o" x="528" y="770.1"/>
<use href="#o" x="596.4" y="867.6"/>
<use href="#o" x="848.8" y="894.9"/>
<use href="#o" x="744.2" y="767.2"/>
<use href="#o" x="496.3" y="1231.4"/>
<use href="#o" x="561" y="933.5"/>
<use href="#o" x="620.9" y="947.4"/>
<use href="#o" x="384.3" y="1021.7"/>
<use href="#o" x="698.1" y="1018.3"/>
<use href="#o" x="812.8" y="998.5"/>
<use href="#o" x="523.3" y="959.3"/>
<use href="#o" x="999.7" y="702.8"/>
<use href="#o" x="633.7" y="1021.7"/>
<use href="#o" x="511.6" y="1007.1"/>
<use href="#o" x="623.1" y="1126.2"/>
<use href="#o" x="701.8" y="745.7"/>
<use href="#o" x="568.6" y="910.1"/>
<use href="#o" x="560.5" y="970.3"/>
<use href="#o" x="497.7" y="938.5"/>
<use href="#o" x="953.8" y="978.9"/>
<use href="#o" x="378.3" y="1126.9"/>
<use href="#o" x="1051.2" y="905.5"/>
<use href="#o" x="745.2" y="929.4"/>
<use href="#o" x="417.7" y="994.9"/>
<use href="#o" x="685.1" y="778.3"/>
<use href="#o" x="672.6" y="948.7"/>
<use href="#o" x="548.9" y="984.4"/>
<use href="#o" x="992.1" y="860"/>
<use href="#o" x="559.1" y="970"/>
<use href="#o" x="373.9" y="1003.9"/>
<use href="#o" x="860.8" y="763.4"/>
<use href="#o" x="613" y="1127.1"/>
<use href="#o" x="444.7" y="925"/>
<use href="#o" x="617.3" y="847.4"/>
<use href="#o" x="478.9" y="1032"/>
<use href="#o" x="457.6" y="1082.5"/>
<use href="#o" x="500.1" y="1085.4"/>
<use href="#o" x="430.8" y="947.1"/>
<use href="#o" x="933.9" y="783.5"/>
<use href="#o" x="719.2" y="933.4"/>
<use href="#o" x="625.6" y="943.2"/>
<use href="#o" x="805.4" y="996.1"/>
<use href="#o" x="504.1" y="1050.4"/>
<use href="#o" x="584.6" y="1030.6"/>
<use href="#o" x="818.1" y="910.8"/>
<use href="#o" x="685.1" y="932.8"/>
<use href="#o" x="569.8" y="878.3"/>
<use href="#o" x="400.1" y="1057.8"/>
<use href="#o" x="421.3" y="1059.5"/>
<use href="#o" x="689.9" y="1001.3"/>
<use href="#o" x="413.8" y="891.1"/>
<use href="#o" x="827.5" y="798.3"/>
<use href="#o" x="535.2" y="1008.5"/>
<use href="#o" x="878.6" y="788.2"/>
<use href="#o" x="543.8" y="781.6"/>
<use href="#o" x="634.1" y="997.9"/>
<use href="#o" x="702.3" y="845.4"/>
<use href="#o" x="471.4" y="1097.8"/>
<use href="#o" x="706.6" y="858"/>
<use href="#o" x="853.3" y="783.2"/>
<use href="#o" x="796" y="869.4"/>
<use href="#o" x="566.7" y="869.3"/>
<use href="#o" x="502.6" y="908.2"/>
<use href="#o" x="447.5" y="1037.4"/>
<use href="#o" x="605.4" y="848.9"/>
<use href="#o" x="528.5" y="986.3"/>
<use href="#o" x="688.6" y="967.2"/>
<use href="#o" x="426.1" y="969.5"/>
<use href="#o" x="621.4" y="982.7"/>
<use href="#o" x="684" y="868.3"/>
<use href="#o" x="955.1" y="858.9"/>
<use href="#o" x="490.9" y="1042.1"/>
<use href="#o" x="897.2" y="1099.7"/>
<use href="#o" x="564.3" y="878.8"/>
<use href="#o" x="692.1" y="897.8"/>
<use href="#o" x="598.6" y="860.4"/>
<use href="#o" x="733.8" y="864.1"/>
<use href="#o" x="630.8" y="1021.6"/>
<use href="#o" x="388.5" y="1038.7"/>
<use href="#o" x="516.3" y="990.4"/>
<use href="#o" x="421.2" y="980.4"/>
<use href="#o" x="465.2" y="913.1"/>
<use href="#o" x="405.1" y="925.5"/>
<use href="#o" x="543" y="930.8"/>
<use href="#o" x="607.1" y="948"/>
<use href="#o" x="703.8" y="870.7"/>
<use href="#o" x="428.7" y="971"/>
<use href="#o" x="448.3" y="952.5"/>
<use href="#o" x="554.4" y="887.1"/>
<use href="#o" x="584.8" y="918.7"/>
<use href="#o" x="727" y="839.9"/>
<use href="#o" x="366.6" y="1034.5"/>
<use href="#o" x="545.3" y="857.2"/>
<use href="#o" x="721.4" y="919.4"/>
<use href="#o" x="1078.7" y="968"/>
<use href="#o" x="540.6" y="1053.9"/>
<use href="#o" x="610.8" y="1045.9"/>
<use href="#o" x="448.7" y="968.5"/>
<use href="#o" x="402.9" y="906.8"/>
<use href="#o" x="714" y="893.7"/>
<use href="#o" x="549.6" y="861.3"/>
<use href="#o" x="600.8" y="1104.5"/>
<use href="#o" x="725.7" y="962.9"/>
<use href="#o" x="727.7" y="938.7"/>
<use href="#o" x="657.1" y="812.3"/>
<use href="#o" x="800.4" y="744.3"/>
<use href="#o" x="777" y="908.7"/>
<use href="#o" x="636.7" y="864"/>
<use href="#o" x="816.3" y="963.1"/>
<use href="#o" x="608.8" y="867.8"/>
<use href="#o" x="675.2" y="891.3"/>
<use href="#o" x="526.2" y="931.6"/>
<use href="#o" x="725.9" y="985.1"/>
<use href="#o" x="633.3" y="1043.5"/>
<use href="#o" x="543.7" y="1012.5"/>
<use href="#o" x="617.8" y="838.1"/>
<use href="#o" x="732.4" y="791.6"/>
<use href="#o" x="915" y="739.5"/>
<use href="#o" x="386.4" y="944.8"/>
<use href="#o" x="778.3" y="806.6"/>
<use href="#o" x="718.4" y="861.9"/>
<use href="#o" x="585.9" y="884.9"/>
<use href="#o" x="737.8" y="767"/>
<use href="#o" x="812.6" y="826.4"/>
<use href="#o" x="1040.2" y="820.7"/>
<use href="#o" x="824.1" y="970.3"/>
<use href="#o" x="549.1" y="918.4"/>
<use href="#o" x="452.8" y="975.9"/>
<use href="#o" x="1104.4" y="829.8"/>
<use href="#o" x="413.7" y="1079"/>
<use href="#o" x="730.9" y="932.2"/>
<use href="#o" x="772.8" y="865.9"/>
<use href="#o" x="517.9" y="810.6"/>
<use href="#o" x="664" y="1082.6"/>
<use href="#o" x="758.7" y="826"/>
<use href="#o" x="796.1" y="1041.8"/>
<use href="#o" x="461" y="1001.7"/>
<use href="#o" x="1076" y="857.8"/>
<use href="#o" x="562.1" y="999.2"/>
<use href="#o" x="484.6" y="1075.2"/>
<use href="#o" x="749.9" y="837.5"/>
<use href="#o" x="520.8" y="894"/>
<use href="#o" x="674.5" y="996.5"/>
<use href="#o" x="474.1" y="870.5"/>
<use href="#o" x="691.9" y="968"/>
<use href="#o" x="446.4" y="1089.1"/>
<use href="#o" x="547.7" y="907.2"/>
<use href="#o" x="558.2" y="1017"/>
<use href="#o" x="412.1" y="941.2"/>
<use href="#o" x="390.9" y="975.3"/>
<use href="#o" x="662.9" y="889.1"/>
<use href="#o" x="562" y="1000"/>
<use href="#o" x="736.2" y="872"/>
<use href="#o" x="372.3" y="942.3"/>
<use href="#o" x="994.5" y="969.6"/>
<use href="#o" x="410.3" y="1084.3"/>
<use href="#o" x="653.4" y="1136.1"/>
<use href="#o" x="701.2" y="959.4"/>
<use href="#o" x="847.7" y="1018.6"/>
<use href="#o" x="373.5" y="901.1"/>
<use href="#o" x="657.6" y="1126.1"/>
<use href="#o" x="775.7" y="939.5"/>
<use href="#o" x="634.6" y="1030.2"/>
<use href="#o" x="574.5" y="879.3"/>
<use href="#o" x="382.5" y="1006.1"/>
<use href="#o" x="534.5" y="949.4"/>
<use href="#o" x="855.7" y="804.4"/>
<use href="#o" x="770.1" y="899.7"/>
<use href="#o" x="720.7" y="1066.1"/>
<use href="#o" x="472.8" y="968.4"/>
<use href="#o" x="470.9" y="1054.2"/>
<use href="#o" x="505.5" y="934.4"/>
<use href="#o" x="473" y="1023"/>
<use href="#o" x="681.1" y="1051.1"/>
<use href="#o" x="704" y="1003.7"/>
<use href="#o" x="900.4" y="810.9"/>
<use href="#o" x="795.2" y="794.4"/>
<use href="#o" x="566.2" y="919.3"/>
<use href="#o" x="757.6" y="791.4"/>
<use href="#o" x="639.3" y="997.4"/>
<use href="#o" x="541.2" y="965.8"/>
<use href="#o" x="687" y="824.7"/>
<use href="#o" x="866.5" y="830.6"/>
<use href="#o" x="698.6" y="892"/>
<use href="#o" x="1001.6" y="832.8"/>
<use href="#o" x="647.2" y="1017.5"/>
<use href="#o" x="414.2" y="1069.4"/>
</g>
<path d="M320,1138L1141,894.7" stroke="#8CD150" stroke-width="8.6" stroke-linecap="round"/>
<path d="M323,1137.1L1138,895.6" stroke="#000" stroke-width="2.8" stroke-dasharray="5.6,5.6"/>
<path d="M320,1008.7L1130,790.6" stroke="#FDBE10" stroke-width="8.6" stroke-linecap="round"/>
<path d="M323,1007.9L1127,791.4" stroke="#000" stroke-width="2.8" stroke-dasharray="5.6,5.6"/>
<path d="M320,998.6L1138.5,682.8" stroke="#12A8EC" stroke-width="8.6" stroke-linecap="round"/>
<path d="M323,997.4L1135.5,684" stroke="#000" stroke-width="2.8" stroke-dasharray="5.6,5.6"/>
<path d="M320,969.7L1138.5,721.6" stroke="#A5A5A5" stroke-width="8.6" stroke-linecap="round"/>
<path d="M323,968.8L1135.5,722.5" stroke="#000" stroke-width="2.8" stroke-dasharray="5.6,5.6"/>
<circle cx="1000.3" cy="1181.4" r="8.2" fill="#F7A93B"/>
<path d="M992,1224.5L1000.3,1216.3L1008.6,1224.5L1000.3,1232.7Z" fill="#999"/>
<rect x="992" y="1262.5" width="16.9" height="16.3" fill="#29A8E0"/>
<path d="M992,1320L1000.3,1305.6L1008.6,1320Z" fill="#0F0"/>
<rect x="1024.5" y="1177" width="44.2" height="8.8" fill="#F7A93B"/>
<path d="M1025.8,1181.4H1068" stroke="#000" stroke-width="2.6" stroke-dasharray="7,4.6"/>
<rect x="1024.5" y="1220.6" width="44.2" height="8.8" fill="#A0A0A0"/>
<path d="M1025.8,1225H1068" stroke="#000" stroke-width="2.6" stroke-dasharray="7,4.6"/>
<rect x="1024.5" y="1266.1" width="44.2" height="8.8" fill="#29A8E0"/>
<path d="M1025.8,1270.5H1068" stroke="#000" stroke-width="2.6" stroke-dasharray="7,4.6"/>
<rect x="1024.5" y="1310.9" width="44.2" height="8.8" fill="#0F0"/>
<path d="M1025.8,1315.3H1068" stroke="#000" stroke-width="2.6" stroke-dasharray="7,4.6"/>
<text transform="translate(1101.8,1196.6) scale(1.0036,1)" font-size="42.3" fill="#000">CCN+</text>
<text transform="translate(1101.8,1239.7) scale(0.9958,1)" font-size="42.3" fill="#000">CCN-</text>
<text transform="translate(1102.7,1284.5) scale(0.9936,1)" font-size="42.3" fill="#000">Silicone+</text>
<text transform="translate(1103,1330.5) scale(0.9809,1)" font-size="42.3" fill="#000">Auto</text>
<text transform="translate(25.67,1656.4) scale(0.9809,1)" font-size="60">(c)</text>
<text transform="translate(200.39,1712.2) scale(1.0274,1)" font-size="41">G-ratio</text>
<rect x="110" y="1824.9" width="53" height="164.3"/>
<path d="M136.5,1825.9V1820M128,1820H145" stroke="#000" stroke-width="2.4" fill="none"/>
<rect x="196" y="1804" width="52.9" height="185.2"/>
<path d="M222.45,1805V1800.5M213.95,1800.5H230.95" stroke="#000" stroke-width="2.4" fill="none"/>
<rect x="280.9" y="1802.5" width="53.1" height="186.7"/>
<path d="M307.45,1803.5V1800M298.95,1800H315.95" stroke="#000" stroke-width="2.4" fill="none"/>
<rect x="366.6" y="1874.2" width="53.4" height="115"/>
<path d="M393.3,1875.2V1868.1M384.8,1868.1H401.8" stroke="#000" stroke-width="2.4" fill="none"/>
<path d="M93.5,1748.8V1989.2H435.2" stroke="#000" stroke-width="2.8" fill="none"/>
<path d="M78.7,1921.8 L80.7,1921.85 L82.7,1922.02 L84.7,1922.32 L86.7,1922.74 L88.7,1923.25 L90.7,1923.86 L92.7,1924.53 L94.7,1925.24 L96.7,1925.98 L98.7,1926.72 L100.7,1927.44 L102.7,1928.11 L104.7,1928.72 L106.7,1929.24 L108.7,1929.66 L110.7,1929.96 L112.7,1930.15 L114.7,1930.2 L116.7,1930.12 L118.7,1929.91 L120.7,1929.58 L122.7,1929.14 L124.7,1928.6 L126.7,1927.98 L128.7,1927.3 L130.7,1926.57 L132.7,1925.83 L134.7,1925.1 L136.7,1924.39 L138.7,1923.73 L140.7,1923.14 L142.7,1922.65 L144.7,1922.25 L146.7,1921.98 L148.7,1921.83 L150.7,1921.81 L152.7,1921.92 L154.7,1922.16 L156.7,1922.52 L158.7,1922.98 L160.7,1923.55 L162.7,1924.18 L164.7,1924.88 L166.7,1925.61 L168.7,1926.35 L170.7,1927.08 L172.7,1927.78 L174.7,1928.42 L176.7,1928.99 L178.7,1929.46 L180.7,1929.83 L182.7,1930.07 L184.7,1930.19 L186.7,1930.18 L188.7,1930.03 L190.7,1929.76 L192.7,1929.38 L194.7,1928.88 L196.7,1928.3 L198.7,1927.65 L200.7,1926.94 L202.7,1926.2 L204.7,1925.46 L206.7,1924.74 L208.7,1924.05 L210.7,1923.43 L212.7,1922.88 L214.7,1922.44 L216.7,1922.1 L218.7,1921.89 L220.7,1921.8 L222.7,1921.85 L224.7,1922.02 L226.7,1922.32 L228.7,1922.74 L230.7,1923.25 L232.7,1923.86 L234.7,1924.53 L236.7,1925.24 L238.7,1925.98 L240.7,1926.72 L242.7,1927.44 L244.7,1928.11 L246.7,1928.72 L248.7,1929.24 L250.7,1929.66 L252.7,1929.96 L254.7,1930.15 L256.7,1930.2 L258.7,1930.12 L260.7,1929.91 L262.7,1929.58 L264.7,1929.14 L266.7,1928.6 L268.7,1927.98 L270.7,1927.3 L272.7,1926.57 L274.7,1925.83 L276.7,1925.1 L278.7,1924.39 L280.7,1923.73 L282.7,1923.14 L284.7,1922.65 L286.7,1922.25 L288.7,1921.98 L290.7,1921.83 L292.7,1921.81 L294.7,1921.92 L296.7,1922.16 L298.7,1922.52 L300.7,1922.98 L302.7,1923.55 L304.7,1924.18 L306.7,1924.88 L308.7,1925.61 L310.7,1926.35 L312.7,1927.08 L314.7,1927.78 L316.7,1928.42 L318.7,1928.99 L320.7,1929.46 L322.7,1929.83 L324.7,1930.07 L326.7,1930.19 L328.7,1930.18 L330.7,1930.03 L332.7,1929.76 L334.7,1929.38 L336.7,1928.88 L338.7,1928.3 L340.7,1927.65 L342.7,1926.94 L344.7,1926.2 L346.7,1925.46 L348.7,1924.74 L350.7,1924.05 L352.7,1923.43 L354.7,1922.88 L356.7,1922.44 L358.7,1922.1 L360.7,1921.89 L362.7,1921.8 L364.7,1921.85 L366.7,1922.02 L368.7,1922.32 L370.7,1922.74 L372.7,1923.25 L374.7,1923.86 L376.7,1924.53 L378.7,1925.24 L380.7,1925.98 L382.7,1926.72 L384.7,1927.44 L386.7,1928.11 L388.7,1928.72 L390.7,1929.24 L392.7,1929.66 L394.7,1929.96 L396.7,1930.15 L398.7,1930.2 L400.7,1930.12 L402.7,1929.91 L404.7,1929.58 L406.7,1929.14 L408.7,1928.6 L410.7,1927.98 L412.7,1927.3 L414.7,1926.57 L416.7,1925.83 L418.7,1925.1 L420.7,1924.39 L422.7,1923.73 L424.7,1923.14 L426.7,1922.65 L428.7,1922.25 L430.7,1921.98 L430.7,1938.48 L428.7,1938.75 L426.7,1939.15 L424.7,1939.64 L422.7,1940.23 L420.7,1940.89 L418.7,1941.6 L416.7,1942.33 L414.7,1943.07 L412.7,1943.8 L410.7,1944.48 L408.7,1945.1 L406.7,1945.64 L404.7,1946.08 L402.7,1946.41 L400.7,1946.62 L398.7,1946.7 L396.7,1946.65 L394.7,1946.46 L392.7,1946.16 L390.7,1945.74 L388.7,1945.22 L386.7,1944.61 L384.7,1943.94 L382.7,1943.22 L380.7,1942.48 L378.7,1941.74 L376.7,1941.03 L374.7,1940.36 L372.7,1939.75 L370.7,1939.24 L368.7,1938.82 L366.7,1938.52 L364.7,1938.35 L362.7,1938.3 L360.7,1938.39 L358.7,1938.6 L356.7,1938.94 L354.7,1939.38 L352.7,1939.93 L350.7,1940.55 L348.7,1941.24 L346.7,1941.96 L344.7,1942.7 L342.7,1943.44 L340.7,1944.15 L338.7,1944.8 L336.7,1945.38 L334.7,1945.88 L332.7,1946.26 L330.7,1946.53 L328.7,1946.68 L326.7,1946.69 L324.7,1946.57 L322.7,1946.33 L320.7,1945.96 L318.7,1945.49 L316.7,1944.92 L314.7,1944.28 L312.7,1943.58 L310.7,1942.85 L308.7,1942.11 L306.7,1941.38 L304.7,1940.68 L302.7,1940.05 L300.7,1939.48 L298.7,1939.02 L296.7,1938.66 L294.7,1938.42 L292.7,1938.31 L290.7,1938.33 L288.7,1938.48 L286.7,1938.75 L284.7,1939.15 L282.7,1939.64 L280.7,1940.23 L278.7,1940.89 L276.7,1941.6 L274.7,1942.33 L272.7,1943.07 L270.7,1943.8 L268.7,1944.48 L266.7,1945.1 L264.7,1945.64 L262.7,1946.08 L260.7,1946.41 L258.7,1946.62 L256.7,1946.7 L254.7,1946.65 L252.7,1946.46 L250.7,1946.16 L248.7,1945.74 L246.7,1945.22 L244.7,1944.61 L242.7,1943.94 L240.7,1943.22 L238.7,1942.48 L236.7,1941.74 L234.7,1941.03 L232.7,1940.36 L230.7,1939.75 L228.7,1939.24 L226.7,1938.82 L224.7,1938.52 L222.7,1938.35 L220.7,1938.3 L218.7,1938.39 L216.7,1938.6 L214.7,1938.94 L212.7,1939.38 L210.7,1939.93 L208.7,1940.55 L206.7,1941.24 L204.7,1941.96 L202.7,1942.7 L200.7,1943.44 L198.7,1944.15 L196.7,1944.8 L194.7,1945.38 L192.7,1945.88 L190.7,1946.26 L188.7,1946.53 L186.7,1946.68 L184.7,1946.69 L182.7,1946.57 L180.7,1946.33 L178.7,1945.96 L176.7,1945.49 L174.7,1944.92 L172.7,1944.28 L170.7,1943.58 L168.7,1942.85 L166.7,1942.11 L164.7,1941.38 L162.7,1940.68 L160.7,1940.05 L158.7,1939.48 L156.7,1939.02 L154.7,1938.66 L152.7,1938.42 L150.7,1938.31 L148.7,1938.33 L146.7,1938.48 L144.7,1938.75 L142.7,1939.15 L140.7,1939.64 L138.7,1940.23 L136.7,1940.89 L134.7,1941.6 L132.7,1942.33 L130.7,1943.07 L128.7,1943.8 L126.7,1944.48 L124.7,1945.1 L122.7,1945.64 L120.7,1946.08 L118.7,1946.41 L116.7,1946.62 L114.7,1946.7 L112.7,1946.65 L110.7,1946.46 L108.7,1946.16 L106.7,1945.74 L104.7,1945.22 L102.7,1944.61 L100.7,1943.94 L98.7,1943.22 L96.7,1942.48 L94.7,1941.74 L92.7,1941.03 L90.7,1940.36 L88.7,1939.75 L86.7,1939.24 L84.7,1938.82 L82.7,1938.52 L80.7,1938.35 L78.7,1938.3 Z" fill="#fff"/>
<path d="M78.7,1921.8 L80.7,1921.85 L82.7,1922.02 L84.7,1922.32 L86.7,1922.74 L88.7,1923.25 L90.7,1923.86 L92.7,1924.53 L94.7,1925.24 L96.7,1925.98 L98.7,1926.72 L100.7,1927.44 L102.7,1928.11 L104.7,1928.72 L106.7,1929.24 L108.7,1929.66 L110.7,1929.96 L112.7,1930.15 L114.7,1930.2 L116.7,1930.12 L118.7,1929.91 L120.7,1929.58 L122.7,1929.14 L124.7,1928.6 L126.7,1927.98 L128.7,1927.3 L130.7,1926.57 L132.7,1925.83 L134.7,1925.1 L136.7,1924.39 L138.7,1923.73 L140.7,1923.14 L142.7,1922.65 L144.7,1922.25 L146.7,1921.98 L148.7,1921.83 L150.7,1921.81 L152.7,1921.92 L154.7,1922.16 L156.7,1922.52 L158.7,1922.98 L160.7,1923.55 L162.7,1924.18 L164.7,1924.88 L166.7,1925.61 L168.7,1926.35 L170.7,1927.08 L172.7,1927.78 L174.7,1928.42 L176.7,1928.99 L178.7,1929.46 L180.7,1929.83 L182.7,1930.07 L184.7,1930.19 L186.7,1930.18 L188.7,1930.03 L190.7,1929.76 L192.7,1929.38 L194.7,1928.88 L196.7,1928.3 L198.7,1927.65 L200.7,1926.94 L202.7,1926.2 L204.7,1925.46 L206.7,1924.74 L208.7,1924.05 L210.7,1923.43 L212.7,1922.88 L214.7,1922.44 L216.7,1922.1 L218.7,1921.89 L220.7,1921.8 L222.7,1921.85 L224.7,1922.02 L226.7,1922.32 L228.7,1922.74 L230.7,1923.25 L232.7,1923.86 L234.7,1924.53 L236.7,1925.24 L238.7,1925.98 L240.7,1926.72 L242.7,1927.44 L244.7,1928.11 L246.7,1928.72 L248.7,1929.24 L250.7,1929.66 L252.7,1929.96 L254.7,1930.15 L256.7,1930.2 L258.7,1930.12 L260.7,1929.91 L262.7,1929.58 L264.7,1929.14 L266.7,1928.6 L268.7,1927.98 L270.7,1927.3 L272.7,1926.57 L274.7,1925.83 L276.7,1925.1 L278.7,1924.39 L280.7,1923.73 L282.7,1923.14 L284.7,1922.65 L286.7,1922.25 L288.7,1921.98 L290.7,1921.83 L292.7,1921.81 L294.7,1921.92 L296.7,1922.16 L298.7,1922.52 L300.7,1922.98 L302.7,1923.55 L304.7,1924.18 L306.7,1924.88 L308.7,1925.61 L310.7,1926.35 L312.7,1927.08 L314.7,1927.78 L316.7,1928.42 L318.7,1928.99 L320.7,1929.46 L322.7,1929.83 L324.7,1930.07 L326.7,1930.19 L328.7,1930.18 L330.7,1930.03 L332.7,1929.76 L334.7,1929.38 L336.7,1928.88 L338.7,1928.3 L340.7,1927.65 L342.7,1926.94 L344.7,1926.2 L346.7,1925.46 L348.7,1924.74 L350.7,1924.05 L352.7,1923.43 L354.7,1922.88 L356.7,1922.44 L358.7,1922.1 L360.7,1921.89 L362.7,1921.8 L364.7,1921.85 L366.7,1922.02 L368.7,1922.32 L370.7,1922.74 L372.7,1923.25 L374.7,1923.86 L376.7,1924.53 L378.7,1925.24 L380.7,1925.98 L382.7,1926.72 L384.7,1927.44 L386.7,1928.11 L388.7,1928.72 L390.7,1929.24 L392.7,1929.66 L394.7,1929.96 L396.7,1930.15 L398.7,1930.2 L400.7,1930.12 L402.7,1929.91 L404.7,1929.58 L406.7,1929.14 L408.7,1928.6 L410.7,1927.98 L412.7,1927.3 L414.7,1926.57 L416.7,1925.83 L418.7,1925.1 L420.7,1924.39 L422.7,1923.73 L424.7,1923.14 L426.7,1922.65 L428.7,1922.25 L430.7,1921.98" fill="none" stroke="#6a6a6a" stroke-width="1"/>
<path d="M78.7,1938.3 L80.7,1938.35 L82.7,1938.52 L84.7,1938.82 L86.7,1939.24 L88.7,1939.75 L90.7,1940.36 L92.7,1941.03 L94.7,1941.74 L96.7,1942.48 L98.7,1943.22 L100.7,1943.94 L102.7,1944.61 L104.7,1945.22 L106.7,1945.74 L108.7,1946.16 L110.7,1946.46 L112.7,1946.65 L114.7,1946.7 L116.7,1946.62 L118.7,1946.41 L120.7,1946.08 L122.7,1945.64 L124.7,1945.1 L126.7,1944.48 L128.7,1943.8 L130.7,1943.07 L132.7,1942.33 L134.7,1941.6 L136.7,1940.89 L138.7,1940.23 L140.7,1939.64 L142.7,1939.15 L144.7,1938.75 L146.7,1938.48 L148.7,1938.33 L150.7,1938.31 L152.7,1938.42 L154.7,1938.66 L156.7,1939.02 L158.7,1939.48 L160.7,1940.05 L162.7,1940.68 L164.7,1941.38 L166.7,1942.11 L168.7,1942.85 L170.7,1943.58 L172.7,1944.28 L174.7,1944.92 L176.7,1945.49 L178.7,1945.96 L180.7,1946.33 L182.7,1946.57 L184.7,1946.69 L186.7,1946.68 L188.7,1946.53 L190.7,1946.26 L192.7,1945.88 L194.7,1945.38 L196.7,1944.8 L198.7,1944.15 L200.7,1943.44 L202.7,1942.7 L204.7,1941.96 L206.7,1941.24 L208.7,1940.55 L210.7,1939.93 L212.7,1939.38 L214.7,1938.94 L216.7,1938.6 L218.7,1938.39 L220.7,1938.3 L222.7,1938.35 L224.7,1938.52 L226.7,1938.82 L228.7,1939.24 L230.7,1939.75 L232.7,1940.36 L234.7,1941.03 L236.7,1941.74 L238.7,1942.48 L240.7,1943.22 L242.7,1943.94 L244.7,1944.61 L246.7,1945.22 L248.7,1945.74 L250.7,1946.16 L252.7,1946.46 L254.7,1946.65 L256.7,1946.7 L258.7,1946.62 L260.7,1946.41 L262.7,1946.08 L264.7,1945.64 L266.7,1945.1 L268.7,1944.48 L270.7,1943.8 L272.7,1943.07 L274.7,1942.33 L276.7,1941.6 L278.7,1940.89 L280.7,1940.23 L282.7,1939.64 L284.7,1939.15 L286.7,1938.75 L288.7,1938.48 L290.7,1938.33 L292.7,1938.31 L294.7,1938.42 L296.7,1938.66 L298.7,1939.02 L300.7,1939.48 L302.7,1940.05 L304.7,1940.68 L306.7,1941.38 L308.7,1942.11 L310.7,1942.85 L312.7,1943.58 L314.7,1944.28 L316.7,1944.92 L318.7,1945.49 L320.7,1945.96 L322.7,1946.33 L324.7,1946.57 L326.7,1946.69 L328.7,1946.68 L330.7,1946.53 L332.7,1946.26 L334.7,1945.88 L336.7,1945.38 L338.7,1944.8 L340.7,1944.15 L342.7,1943.44 L344.7,1942.7 L346.7,1941.96 L348.7,1941.24 L350.7,1940.55 L352.7,1939.93 L354.7,1939.38 L356.7,1938.94 L358.7,1938.6 L360.7,1938.39 L362.7,1938.3 L364.7,1938.35 L366.7,1938.52 L368.7,1938.82 L370.7,1939.24 L372.7,1939.75 L374.7,1940.36 L376.7,1941.03 L378.7,1941.74 L380.7,1942.48 L382.7,1943.22 L384.7,1943.94 L386.7,1944.61 L388.7,1945.22 L390.7,1945.74 L392.7,1946.16 L394.7,1946.46 L396.7,1946.65 L398.7,1946.7 L400.7,1946.62 L402.7,1946.41 L404.7,1946.08 L406.7,1945.64 L408.7,1945.1 L410.7,1944.48 L412.7,1943.8 L414.7,1943.07 L416.7,1942.33 L418.7,1941.6 L420.7,1940.89 L422.7,1940.23 L424.7,1939.64 L426.7,1939.15 L428.7,1938.75 L430.7,1938.48" fill="none" stroke="#6a6a6a" stroke-width="1"/>
<text x="32.08" y="1758.4" font-size="29.5">0.8</text>
<text x="32.37" y="1818" font-size="29.5">0.7</text>
<text x="32.22" y="1877.6" font-size="29.5">0.6</text>
<text x="56.41" y="1996.6" font-size="29.5">0</text>
<path d="M138.5,1740.3Q138.5,1736.8 141.5,1736.8H390Q393,1736.8 393,1740.3" stroke="#000" stroke-width="1.5" fill="none"/>
<path d="M219.4,1749.5Q219.4,1746 222.4,1746H390Q393,1746 393,1749.5" stroke="#000" stroke-width="1.5" fill="none"/>
<path d="M306,1758.2Q306,1754.7 309,1754.7H390Q393,1754.7 393,1758.2" stroke="#000" stroke-width="1.5" fill="none"/>
<path d="M137.7,1783.7Q137.7,1780.2 140.7,1780.2H303Q306,1780.2 306,1783.7" stroke="#000" stroke-width="1.5" fill="none"/>
<path d="M136,1792.8Q136,1789.3 139,1789.3H219.6Q222.6,1789.3 222.6,1792.8" stroke="#000" stroke-width="1.5" fill="none"/>
<path d="M348.2,1728.9L348.2,1736.1M351.32,1730.7L345.08,1734.3M351.32,1734.3L345.08,1730.7" stroke="#222" stroke-width="1.1"/>
<path d="M348.2,1738L348.2,1745.2M351.32,1739.8L345.08,1743.4M351.32,1743.4L345.08,1739.8" stroke="#222" stroke-width="1.1"/>
<path d="M348.2,1746.8L348.2,1754M351.32,1748.6L345.08,1752.2M351.32,1752.2L345.08,1748.6" stroke="#222" stroke-width="1.1"/>
<path d="M178.2,1773.2L178.2,1780.4M181.32,1775L175.08,1778.6M181.32,1778.6L175.08,1775" stroke="#222" stroke-width="1.1"/>
<path d="M178.2,1782.1L178.2,1789.3M181.32,1783.9L175.08,1787.5M181.32,1787.5L175.08,1783.9" stroke="#222" stroke-width="1.1"/>
<text transform="translate(147.4,2017.9) rotate(-42.5)" font-size="30.3" text-anchor="end">CCN+</text>
<text transform="translate(230.55,2017.7) rotate(-42.5)" font-size="30.3" text-anchor="end">CCN-</text>
<text transform="translate(319.95,2017.7) rotate(-42.5)" font-size="30.3" text-anchor="end">Silicone+</text>
<text transform="translate(401.4,2017.4) rotate(-42.5)" font-size="30.3" text-anchor="end">Auto</text>
<text transform="translate(484.62,1656.3) scale(1.0500,1)" font-size="60">(d)</text>
<text transform="translate(626.14,1684.9) scale(0.9795,1)" font-size="36.5">Number of</text>
<text transform="translate(575.26,1715) scale(0.9853,1)" font-size="36.5">myelinated axons</text>
<rect x="571.4" y="1849" width="51.9" height="135.8"/>
<path d="M597.35,1850V1839.9M588.85,1839.9H605.85" stroke="#000" stroke-width="2.4" fill="none"/>
<rect x="655.1" y="1878.2" width="51.9" height="106.6"/>
<path d="M681.05,1879.2V1870.5M672.55,1870.5H689.55" stroke="#000" stroke-width="2.4" fill="none"/>
<rect x="738.5" y="1900.3" width="51.9" height="84.5"/>
<path d="M764.45,1901.3V1898M755.95,1898H772.95" stroke="#000" stroke-width="2.4" fill="none"/>
<rect x="822.5" y="1800.2" width="51.6" height="184.6"/>
<path d="M848.3,1801.2V1787.5M839.8,1787.5H856.8" stroke="#000" stroke-width="2.4" fill="none"/>
<path d="M555,1743.3V1984.8H890" stroke="#000" stroke-width="2.8" fill="none"/>
<path d="M538.6,1924.8 L540.6,1924.84 L542.6,1925.01 L544.6,1925.31 L546.6,1925.71 L548.6,1926.23 L550.6,1926.83 L552.6,1927.49 L554.6,1928.21 L556.6,1928.94 L558.6,1929.68 L560.6,1930.4 L562.6,1931.08 L564.6,1931.69 L566.6,1932.21 L568.6,1932.64 L570.6,1932.95 L572.6,1933.14 L574.6,1933.2 L576.6,1933.13 L578.6,1932.93 L580.6,1932.6 L582.6,1932.17 L584.6,1931.63 L586.6,1931.01 L588.6,1930.33 L590.6,1929.61 L592.6,1928.87 L594.6,1928.13 L596.6,1927.42 L598.6,1926.76 L600.6,1926.17 L602.6,1925.67 L604.6,1925.27 L606.6,1924.99 L608.6,1924.83 L610.6,1924.81 L612.6,1924.91 L614.6,1925.14 L616.6,1925.5 L618.6,1925.96 L620.6,1926.52 L622.6,1927.15 L624.6,1927.84 L626.6,1928.57 L628.6,1929.32 L630.6,1930.05 L632.6,1930.75 L634.6,1931.39 L636.6,1931.96 L638.6,1932.44 L640.6,1932.81 L642.6,1933.06 L644.6,1933.19 L646.6,1933.18 L648.6,1933.04 L650.6,1932.78 L652.6,1932.4 L654.6,1931.91 L656.6,1931.33 L658.6,1930.68 L660.6,1929.98 L662.6,1929.24 L664.6,1928.5 L666.6,1927.77 L668.6,1927.08 L670.6,1926.46 L672.6,1925.91 L674.6,1925.46 L676.6,1925.11 L678.6,1924.89 L680.6,1924.8 L682.6,1924.84 L684.6,1925.01 L686.6,1925.31 L688.6,1925.71 L690.6,1926.23 L692.6,1926.83 L694.6,1927.49 L696.6,1928.21 L698.6,1928.94 L700.6,1929.68 L702.6,1930.4 L704.6,1931.08 L706.6,1931.69 L708.6,1932.21 L710.6,1932.64 L712.6,1932.95 L714.6,1933.14 L716.6,1933.2 L718.6,1933.13 L720.6,1932.93 L722.6,1932.6 L724.6,1932.17 L726.6,1931.63 L728.6,1931.01 L730.6,1930.33 L732.6,1929.61 L734.6,1928.87 L736.6,1928.13 L738.6,1927.42 L740.6,1926.76 L742.6,1926.17 L744.6,1925.67 L746.6,1925.27 L748.6,1924.99 L750.6,1924.83 L752.6,1924.81 L754.6,1924.91 L756.6,1925.14 L758.6,1925.5 L760.6,1925.96 L762.6,1926.52 L764.6,1927.15 L766.6,1927.84 L768.6,1928.57 L770.6,1929.32 L772.6,1930.05 L774.6,1930.75 L776.6,1931.39 L778.6,1931.96 L780.6,1932.44 L782.6,1932.81 L784.6,1933.06 L786.6,1933.19 L788.6,1933.18 L790.6,1933.04 L792.6,1932.78 L794.6,1932.4 L796.6,1931.91 L798.6,1931.33 L800.6,1930.68 L802.6,1929.98 L804.6,1929.24 L806.6,1928.5 L808.6,1927.77 L810.6,1927.08 L812.6,1926.46 L814.6,1925.91 L816.6,1925.46 L818.6,1925.11 L820.6,1924.89 L822.6,1924.8 L824.6,1924.84 L826.6,1925.01 L828.6,1925.31 L830.6,1925.71 L832.6,1926.23 L834.6,1926.83 L836.6,1927.49 L838.6,1928.21 L840.6,1928.94 L842.6,1929.68 L844.6,1930.4 L846.6,1931.08 L848.6,1931.69 L850.6,1932.21 L852.6,1932.64 L854.6,1932.95 L856.6,1933.14 L858.6,1933.2 L860.6,1933.13 L862.6,1932.93 L864.6,1932.6 L866.6,1932.17 L868.6,1931.63 L870.6,1931.01 L872.6,1930.33 L874.6,1929.61 L876.6,1928.87 L878.6,1928.13 L880.6,1927.42 L882.6,1926.76 L884.6,1926.17 L886.6,1925.67 L888.6,1925.27 L890.6,1924.99 L890.6,1942.49 L888.6,1942.77 L886.6,1943.17 L884.6,1943.67 L882.6,1944.26 L880.6,1944.92 L878.6,1945.63 L876.6,1946.37 L874.6,1947.11 L872.6,1947.83 L870.6,1948.51 L868.6,1949.13 L866.6,1949.67 L864.6,1950.1 L862.6,1950.43 L860.6,1950.63 L858.6,1950.7 L856.6,1950.64 L854.6,1950.45 L852.6,1950.14 L850.6,1949.71 L848.6,1949.19 L846.6,1948.58 L844.6,1947.9 L842.6,1947.18 L840.6,1946.44 L838.6,1945.71 L836.6,1944.99 L834.6,1944.33 L832.6,1943.73 L830.6,1943.21 L828.6,1942.81 L826.6,1942.51 L824.6,1942.34 L822.6,1942.3 L820.6,1942.39 L818.6,1942.61 L816.6,1942.96 L814.6,1943.41 L812.6,1943.96 L810.6,1944.58 L808.6,1945.27 L806.6,1946 L804.6,1946.74 L802.6,1947.48 L800.6,1948.18 L798.6,1948.83 L796.6,1949.41 L794.6,1949.9 L792.6,1950.28 L790.6,1950.54 L788.6,1950.68 L786.6,1950.69 L784.6,1950.56 L782.6,1950.31 L780.6,1949.94 L778.6,1949.46 L776.6,1948.89 L774.6,1948.25 L772.6,1947.55 L770.6,1946.82 L768.6,1946.07 L766.6,1945.34 L764.6,1944.65 L762.6,1944.02 L760.6,1943.46 L758.6,1943 L756.6,1942.64 L754.6,1942.41 L752.6,1942.31 L750.6,1942.33 L748.6,1942.49 L746.6,1942.77 L744.6,1943.17 L742.6,1943.67 L740.6,1944.26 L738.6,1944.92 L736.6,1945.63 L734.6,1946.37 L732.6,1947.11 L730.6,1947.83 L728.6,1948.51 L726.6,1949.13 L724.6,1949.67 L722.6,1950.1 L720.6,1950.43 L718.6,1950.63 L716.6,1950.7 L714.6,1950.64 L712.6,1950.45 L710.6,1950.14 L708.6,1949.71 L706.6,1949.19 L704.6,1948.58 L702.6,1947.9 L700.6,1947.18 L698.6,1946.44 L696.6,1945.71 L694.6,1944.99 L692.6,1944.33 L690.6,1943.73 L688.6,1943.21 L686.6,1942.81 L684.6,1942.51 L682.6,1942.34 L680.6,1942.3 L678.6,1942.39 L676.6,1942.61 L674.6,1942.96 L672.6,1943.41 L670.6,1943.96 L668.6,1944.58 L666.6,1945.27 L664.6,1946 L662.6,1946.74 L660.6,1947.48 L658.6,1948.18 L656.6,1948.83 L654.6,1949.41 L652.6,1949.9 L650.6,1950.28 L648.6,1950.54 L646.6,1950.68 L644.6,1950.69 L642.6,1950.56 L640.6,1950.31 L638.6,1949.94 L636.6,1949.46 L634.6,1948.89 L632.6,1948.25 L630.6,1947.55 L628.6,1946.82 L626.6,1946.07 L624.6,1945.34 L622.6,1944.65 L620.6,1944.02 L618.6,1943.46 L616.6,1943 L614.6,1942.64 L612.6,1942.41 L610.6,1942.31 L608.6,1942.33 L606.6,1942.49 L604.6,1942.77 L602.6,1943.17 L600.6,1943.67 L598.6,1944.26 L596.6,1944.92 L594.6,1945.63 L592.6,1946.37 L590.6,1947.11 L588.6,1947.83 L586.6,1948.51 L584.6,1949.13 L582.6,1949.67 L580.6,1950.1 L578.6,1950.43 L576.6,1950.63 L574.6,1950.7 L572.6,1950.64 L570.6,1950.45 L568.6,1950.14 L566.6,1949.71 L564.6,1949.19 L562.6,1948.58 L560.6,1947.9 L558.6,1947.18 L556.6,1946.44 L554.6,1945.71 L552.6,1944.99 L550.6,1944.33 L548.6,1943.73 L546.6,1943.21 L544.6,1942.81 L542.6,1942.51 L540.6,1942.34 L538.6,1942.3 Z" fill="#fff"/>
<path d="M538.6,1924.8 L540.6,1924.84 L542.6,1925.01 L544.6,1925.31 L546.6,1925.71 L548.6,1926.23 L550.6,1926.83 L552.6,1927.49 L554.6,1928.21 L556.6,1928.94 L558.6,1929.68 L560.6,1930.4 L562.6,1931.08 L564.6,1931.69 L566.6,1932.21 L568.6,1932.64 L570.6,1932.95 L572.6,1933.14 L574.6,1933.2 L576.6,1933.13 L578.6,1932.93 L580.6,1932.6 L582.6,1932.17 L584.6,1931.63 L586.6,1931.01 L588.6,1930.33 L590.6,1929.61 L592.6,1928.87 L594.6,1928.13 L596.6,1927.42 L598.6,1926.76 L600.6,1926.17 L602.6,1925.67 L604.6,1925.27 L606.6,1924.99 L608.6,1924.83 L610.6,1924.81 L612.6,1924.91 L614.6,1925.14 L616.6,1925.5 L618.6,1925.96 L620.6,1926.52 L622.6,1927.15 L624.6,1927.84 L626.6,1928.57 L628.6,1929.32 L630.6,1930.05 L632.6,1930.75 L634.6,1931.39 L636.6,1931.96 L638.6,1932.44 L640.6,1932.81 L642.6,1933.06 L644.6,1933.19 L646.6,1933.18 L648.6,1933.04 L650.6,1932.78 L652.6,1932.4 L654.6,1931.91 L656.6,1931.33 L658.6,1930.68 L660.6,1929.98 L662.6,1929.24 L664.6,1928.5 L666.6,1927.77 L668.6,1927.08 L670.6,1926.46 L672.6,1925.91 L674.6,1925.46 L676.6,1925.11 L678.6,1924.89 L680.6,1924.8 L682.6,1924.84 L684.6,1925.01 L686.6,1925.31 L688.6,1925.71 L690.6,1926.23 L692.6,1926.83 L694.6,1927.49 L696.6,1928.21 L698.6,1928.94 L700.6,1929.68 L702.6,1930.4 L704.6,1931.08 L706.6,1931.69 L708.6,1932.21 L710.6,1932.64 L712.6,1932.95 L714.6,1933.14 L716.6,1933.2 L718.6,1933.13 L720.6,1932.93 L722.6,1932.6 L724.6,1932.17 L726.6,1931.63 L728.6,1931.01 L730.6,1930.33 L732.6,1929.61 L734.6,1928.87 L736.6,1928.13 L738.6,1927.42 L740.6,1926.76 L742.6,1926.17 L744.6,1925.67 L746.6,1925.27 L748.6,1924.99 L750.6,1924.83 L752.6,1924.81 L754.6,1924.91 L756.6,1925.14 L758.6,1925.5 L760.6,1925.96 L762.6,1926.52 L764.6,1927.15 L766.6,1927.84 L768.6,1928.57 L770.6,1929.32 L772.6,1930.05 L774.6,1930.75 L776.6,1931.39 L778.6,1931.96 L780.6,1932.44 L782.6,1932.81 L784.6,1933.06 L786.6,1933.19 L788.6,1933.18 L790.6,1933.04 L792.6,1932.78 L794.6,1932.4 L796.6,1931.91 L798.6,1931.33 L800.6,1930.68 L802.6,1929.98 L804.6,1929.24 L806.6,1928.5 L808.6,1927.77 L810.6,1927.08 L812.6,1926.46 L814.6,1925.91 L816.6,1925.46 L818.6,1925.11 L820.6,1924.89 L822.6,1924.8 L824.6,1924.84 L826.6,1925.01 L828.6,1925.31 L830.6,1925.71 L832.6,1926.23 L834.6,1926.83 L836.6,1927.49 L838.6,1928.21 L840.6,1928.94 L842.6,1929.68 L844.6,1930.4 L846.6,1931.08 L848.6,1931.69 L850.6,1932.21 L852.6,1932.64 L854.6,1932.95 L856.6,1933.14 L858.6,1933.2 L860.6,1933.13 L862.6,1932.93 L864.6,1932.6 L866.6,1932.17 L868.6,1931.63 L870.6,1931.01 L872.6,1930.33 L874.6,1929.61 L876.6,1928.87 L878.6,1928.13 L880.6,1927.42 L882.6,1926.76 L884.6,1926.17 L886.6,1925.67 L888.6,1925.27 L890.6,1924.99" fill="none" stroke="#6a6a6a" stroke-width="1"/>
<path d="M538.6,1942.3 L540.6,1942.34 L542.6,1942.51 L544.6,1942.81 L546.6,1943.21 L548.6,1943.73 L550.6,1944.33 L552.6,1944.99 L554.6,1945.71 L556.6,1946.44 L558.6,1947.18 L560.6,1947.9 L562.6,1948.58 L564.6,1949.19 L566.6,1949.71 L568.6,1950.14 L570.6,1950.45 L572.6,1950.64 L574.6,1950.7 L576.6,1950.63 L578.6,1950.43 L580.6,1950.1 L582.6,1949.67 L584.6,1949.13 L586.6,1948.51 L588.6,1947.83 L590.6,1947.11 L592.6,1946.37 L594.6,1945.63 L596.6,1944.92 L598.6,1944.26 L600.6,1943.67 L602.6,1943.17 L604.6,1942.77 L606.6,1942.49 L608.6,1942.33 L610.6,1942.31 L612.6,1942.41 L614.6,1942.64 L616.6,1943 L618.6,1943.46 L620.6,1944.02 L622.6,1944.65 L624.6,1945.34 L626.6,1946.07 L628.6,1946.82 L630.6,1947.55 L632.6,1948.25 L634.6,1948.89 L636.6,1949.46 L638.6,1949.94 L640.6,1950.31 L642.6,1950.56 L644.6,1950.69 L646.6,1950.68 L648.6,1950.54 L650.6,1950.28 L652.6,1949.9 L654.6,1949.41 L656.6,1948.83 L658.6,1948.18 L660.6,1947.48 L662.6,1946.74 L664.6,1946 L666.6,1945.27 L668.6,1944.58 L670.6,1943.96 L672.6,1943.41 L674.6,1942.96 L676.6,1942.61 L678.6,1942.39 L680.6,1942.3 L682.6,1942.34 L684.6,1942.51 L686.6,1942.81 L688.6,1943.21 L690.6,1943.73 L692.6,1944.33 L694.6,1944.99 L696.6,1945.71 L698.6,1946.44 L700.6,1947.18 L702.6,1947.9 L704.6,1948.58 L706.6,1949.19 L708.6,1949.71 L710.6,1950.14 L712.6,1950.45 L714.6,1950.64 L716.6,1950.7 L718.6,1950.63 L720.6,1950.43 L722.6,1950.1 L724.6,1949.67 L726.6,1949.13 L728.6,1948.51 L730.6,1947.83 L732.6,1947.11 L734.6,1946.37 L736.6,1945.63 L738.6,1944.92 L740.6,1944.26 L742.6,1943.67 L744.6,1943.17 L746.6,1942.77 L748.6,1942.49 L750.6,1942.33 L752.6,1942.31 L754.6,1942.41 L756.6,1942.64 L758.6,1943 L760.6,1943.46 L762.6,1944.02 L764.6,1944.65 L766.6,1945.34 L768.6,1946.07 L770.6,1946.82 L772.6,1947.55 L774.6,1948.25 L776.6,1948.89 L778.6,1949.46 L780.6,1949.94 L782.6,1950.31 L784.6,1950.56 L786.6,1950.69 L788.6,1950.68 L790.6,1950.54 L792.6,1950.28 L794.6,1949.9 L796.6,1949.41 L798.6,1948.83 L800.6,1948.18 L802.6,1947.48 L804.6,1946.74 L806.6,1946 L808.6,1945.27 L810.6,1944.58 L812.6,1943.96 L814.6,1943.41 L816.6,1942.96 L818.6,1942.61 L820.6,1942.39 L822.6,1942.3 L824.6,1942.34 L826.6,1942.51 L828.6,1942.81 L830.6,1943.21 L832.6,1943.73 L834.6,1944.33 L836.6,1944.99 L838.6,1945.71 L840.6,1946.44 L842.6,1947.18 L844.6,1947.9 L846.6,1948.58 L848.6,1949.19 L850.6,1949.71 L852.6,1950.14 L854.6,1950.45 L856.6,1950.64 L858.6,1950.7 L860.6,1950.63 L862.6,1950.43 L864.6,1950.1 L866.6,1949.67 L868.6,1949.13 L870.6,1948.51 L872.6,1947.83 L874.6,1947.11 L876.6,1946.37 L878.6,1945.63 L880.6,1944.92 L882.6,1944.26 L884.6,1943.67 L886.6,1943.17 L888.6,1942.77 L890.6,1942.49" fill="none" stroke="#6a6a6a" stroke-width="1"/>
<text x="488.06" y="1797.7" font-size="29.5">300</text>
<text x="488.06" y="1894.1" font-size="29.5">200</text>
<text x="514.31" y="1990" font-size="29.5">0</text>
<path d="M598.9,1751.9Q598.9,1748.4 601.9,1748.4H847Q850,1748.4 850,1751.9" stroke="#000" stroke-width="1.5" fill="none"/>
<path d="M682.6,1760.9Q682.6,1757.4 685.6,1757.4H847Q850,1757.4 850,1760.9" stroke="#000" stroke-width="1.5" fill="none"/>
<path d="M763,1769.9Q763,1766.4 766,1766.4H847Q850,1766.4 850,1769.9" stroke="#000" stroke-width="1.5" fill="none"/>
<path d="M594.9,1820.1Q594.9,1816.6 597.9,1816.6H761Q764,1816.6 764,1820.1" stroke="#000" stroke-width="1.5" fill="none"/>
<path d="M804.8,1740.4L804.8,1747.6M807.92,1742.2L801.68,1745.8M807.92,1745.8L801.68,1742.2" stroke="#222" stroke-width="1.1"/>
<path d="M804.8,1749.8L804.8,1757M807.92,1751.6L801.68,1755.2M807.92,1755.2L801.68,1751.6" stroke="#222" stroke-width="1.1"/>
<path d="M804.8,1758.8L804.8,1766M807.92,1760.6L801.68,1764.2M807.92,1764.2L801.68,1760.6" stroke="#222" stroke-width="1.1"/>
<path d="M635.7,1808.4L635.7,1815.6M638.82,1810.2L632.58,1813.8M638.82,1813.8L632.58,1810.2" stroke="#222" stroke-width="1.1"/>
<text transform="translate(608.25,2010.8) rotate(-42.5)" font-size="30.3" text-anchor="end">CCN+</text>
<text transform="translate(689.15,2013.6) rotate(-42.5)" font-size="30.3" text-anchor="end">CCN-</text>
<text transform="translate(776.95,2009.4) rotate(-42.5)" font-size="30.3" text-anchor="end">Silicone+</text>
<text transform="translate(856.4,2010.4) rotate(-42.5)" font-size="30.3" text-anchor="end">Auto</text>
<text transform="translate(962.79,1656.3) scale(1.0303,1)" font-size="60">(e)</text>
<text transform="translate(1074.47,1707.2) scale(0.9596,1)" font-size="43">Total axon area</text>
<text x="985.7" y="1711.4" font-size="31" font-style="italic">μ</text>
<text x="1003.5" y="1711.4" font-size="31">m</text>
<text x="1022.2" y="1692.6" font-size="10.5">2</text>
<rect x="1062.6" y="1870.2" width="48.9" height="118.4"/>
<path d="M1087.05,1871.2V1855.5M1078.55,1855.5H1095.55" stroke="#000" stroke-width="2.4" fill="none"/>
<rect x="1142.3" y="1899.3" width="49.2" height="89.3"/>
<path d="M1166.9,1900.3V1894.3M1158.4,1894.3H1175.4" stroke="#000" stroke-width="2.4" fill="none"/>
<rect x="1221.9" y="1912" width="49.3" height="76.6"/>
<path d="M1246.55,1913V1907M1238.05,1907H1255.05" stroke="#000" stroke-width="2.4" fill="none"/>
<rect x="1301.9" y="1783.8" width="49.6" height="204.8"/>
<path d="M1326.7,1784.8V1769.1M1318.2,1769.1H1335.2" stroke="#000" stroke-width="2.4" fill="none"/>
<path d="M1045.2,1747V1988.6H1365.9" stroke="#000" stroke-width="2.8" fill="none"/>
<path d="M1025.8,1947.4 L1027.8,1947.45 L1029.8,1947.64 L1031.8,1947.94 L1033.8,1948.36 L1035.8,1948.88 L1037.8,1949.49 L1039.8,1950.16 L1041.8,1950.88 L1043.8,1951.62 L1045.8,1952.36 L1047.8,1953.07 L1049.8,1953.74 L1051.8,1954.35 L1053.8,1954.86 L1055.8,1955.28 L1057.8,1955.58 L1059.8,1955.75 L1061.8,1955.8 L1063.8,1955.71 L1065.8,1955.5 L1067.8,1955.16 L1069.8,1954.72 L1071.8,1954.17 L1073.8,1953.55 L1075.8,1952.86 L1077.8,1952.14 L1079.8,1951.4 L1081.8,1950.66 L1083.8,1949.95 L1085.8,1949.3 L1087.8,1948.72 L1089.8,1948.22 L1091.8,1947.84 L1093.8,1947.57 L1095.8,1947.42 L1097.8,1947.41 L1099.8,1947.53 L1101.8,1947.77 L1103.8,1948.14 L1105.8,1948.61 L1107.8,1949.18 L1109.8,1949.82 L1111.8,1950.52 L1113.8,1951.25 L1115.8,1951.99 L1117.8,1952.72 L1119.8,1953.42 L1121.8,1954.05 L1123.8,1954.62 L1125.8,1955.08 L1127.8,1955.44 L1129.8,1955.68 L1131.8,1955.79 L1133.8,1955.77 L1135.8,1955.62 L1137.8,1955.35 L1139.8,1954.95 L1141.8,1954.46 L1143.8,1953.87 L1145.8,1953.21 L1147.8,1952.5 L1149.8,1951.77 L1151.8,1951.03 L1153.8,1950.3 L1155.8,1949.62 L1157.8,1949 L1159.8,1948.46 L1161.8,1948.02 L1163.8,1947.69 L1165.8,1947.48 L1167.8,1947.4 L1169.8,1947.45 L1171.8,1947.64 L1173.8,1947.94 L1175.8,1948.36 L1177.8,1948.88 L1179.8,1949.49 L1181.8,1950.16 L1183.8,1950.88 L1185.8,1951.62 L1187.8,1952.36 L1189.8,1953.07 L1191.8,1953.74 L1193.8,1954.35 L1195.8,1954.86 L1197.8,1955.28 L1199.8,1955.58 L1201.8,1955.75 L1203.8,1955.8 L1205.8,1955.71 L1207.8,1955.5 L1209.8,1955.16 L1211.8,1954.72 L1213.8,1954.17 L1215.8,1953.55 L1217.8,1952.86 L1219.8,1952.14 L1221.8,1951.4 L1223.8,1950.66 L1225.8,1949.95 L1227.8,1949.3 L1229.8,1948.72 L1231.8,1948.22 L1233.8,1947.84 L1235.8,1947.57 L1237.8,1947.42 L1239.8,1947.41 L1241.8,1947.53 L1243.8,1947.77 L1245.8,1948.14 L1247.8,1948.61 L1249.8,1949.18 L1251.8,1949.82 L1253.8,1950.52 L1255.8,1951.25 L1257.8,1951.99 L1259.8,1952.72 L1261.8,1953.42 L1263.8,1954.05 L1265.8,1954.62 L1267.8,1955.08 L1269.8,1955.44 L1271.8,1955.68 L1273.8,1955.79 L1275.8,1955.77 L1277.8,1955.62 L1279.8,1955.35 L1281.8,1954.95 L1283.8,1954.46 L1285.8,1953.87 L1287.8,1953.21 L1289.8,1952.5 L1291.8,1951.77 L1293.8,1951.03 L1295.8,1950.3 L1297.8,1949.62 L1299.8,1949 L1301.8,1948.46 L1303.8,1948.02 L1305.8,1947.69 L1307.8,1947.48 L1309.8,1947.4 L1311.8,1947.45 L1313.8,1947.64 L1315.8,1947.94 L1317.8,1948.36 L1319.8,1948.88 L1321.8,1949.49 L1323.8,1950.16 L1325.8,1950.88 L1327.8,1951.62 L1329.8,1952.36 L1331.8,1953.07 L1333.8,1953.74 L1335.8,1954.35 L1337.8,1954.86 L1339.8,1955.28 L1341.8,1955.58 L1343.8,1955.75 L1345.8,1955.8 L1347.8,1955.71 L1349.8,1955.5 L1351.8,1955.16 L1353.8,1954.72 L1355.8,1954.17 L1357.8,1953.55 L1359.8,1952.86 L1361.8,1952.14 L1363.8,1951.4 L1365.8,1950.66 L1367.8,1949.95 L1369.8,1949.3 L1371.8,1948.72 L1373.8,1948.22 L1375.8,1947.84 L1377.8,1947.57 L1377.8,1964.27 L1375.8,1964.54 L1373.8,1964.92 L1371.8,1965.42 L1369.8,1966 L1367.8,1966.65 L1365.8,1967.36 L1363.8,1968.1 L1361.8,1968.84 L1359.8,1969.56 L1357.8,1970.25 L1355.8,1970.87 L1353.8,1971.42 L1351.8,1971.86 L1349.8,1972.2 L1347.8,1972.41 L1345.8,1972.5 L1343.8,1972.45 L1341.8,1972.28 L1339.8,1971.98 L1337.8,1971.56 L1335.8,1971.05 L1333.8,1970.44 L1331.8,1969.77 L1329.8,1969.06 L1327.8,1968.32 L1325.8,1967.58 L1323.8,1966.86 L1321.8,1966.19 L1319.8,1965.58 L1317.8,1965.06 L1315.8,1964.64 L1313.8,1964.34 L1311.8,1964.15 L1309.8,1964.1 L1307.8,1964.18 L1305.8,1964.39 L1303.8,1964.72 L1301.8,1965.16 L1299.8,1965.7 L1297.8,1966.32 L1295.8,1967 L1293.8,1967.73 L1291.8,1968.47 L1289.8,1969.2 L1287.8,1969.91 L1285.8,1970.57 L1283.8,1971.16 L1281.8,1971.65 L1279.8,1972.05 L1277.8,1972.32 L1275.8,1972.47 L1273.8,1972.49 L1271.8,1972.38 L1269.8,1972.14 L1267.8,1971.78 L1265.8,1971.32 L1263.8,1970.75 L1261.8,1970.12 L1259.8,1969.42 L1257.8,1968.69 L1255.8,1967.95 L1253.8,1967.22 L1251.8,1966.52 L1249.8,1965.88 L1247.8,1965.31 L1245.8,1964.84 L1243.8,1964.47 L1241.8,1964.23 L1239.8,1964.11 L1237.8,1964.12 L1235.8,1964.27 L1233.8,1964.54 L1231.8,1964.92 L1229.8,1965.42 L1227.8,1966 L1225.8,1966.65 L1223.8,1967.36 L1221.8,1968.1 L1219.8,1968.84 L1217.8,1969.56 L1215.8,1970.25 L1213.8,1970.87 L1211.8,1971.42 L1209.8,1971.86 L1207.8,1972.2 L1205.8,1972.41 L1203.8,1972.5 L1201.8,1972.45 L1199.8,1972.28 L1197.8,1971.98 L1195.8,1971.56 L1193.8,1971.05 L1191.8,1970.44 L1189.8,1969.77 L1187.8,1969.06 L1185.8,1968.32 L1183.8,1967.58 L1181.8,1966.86 L1179.8,1966.19 L1177.8,1965.58 L1175.8,1965.06 L1173.8,1964.64 L1171.8,1964.34 L1169.8,1964.15 L1167.8,1964.1 L1165.8,1964.18 L1163.8,1964.39 L1161.8,1964.72 L1159.8,1965.16 L1157.8,1965.7 L1155.8,1966.32 L1153.8,1967 L1151.8,1967.73 L1149.8,1968.47 L1147.8,1969.2 L1145.8,1969.91 L1143.8,1970.57 L1141.8,1971.16 L1139.8,1971.65 L1137.8,1972.05 L1135.8,1972.32 L1133.8,1972.47 L1131.8,1972.49 L1129.8,1972.38 L1127.8,1972.14 L1125.8,1971.78 L1123.8,1971.32 L1121.8,1970.75 L1119.8,1970.12 L1117.8,1969.42 L1115.8,1968.69 L1113.8,1967.95 L1111.8,1967.22 L1109.8,1966.52 L1107.8,1965.88 L1105.8,1965.31 L1103.8,1964.84 L1101.8,1964.47 L1099.8,1964.23 L1097.8,1964.11 L1095.8,1964.12 L1093.8,1964.27 L1091.8,1964.54 L1089.8,1964.92 L1087.8,1965.42 L1085.8,1966 L1083.8,1966.65 L1081.8,1967.36 L1079.8,1968.1 L1077.8,1968.84 L1075.8,1969.56 L1073.8,1970.25 L1071.8,1970.87 L1069.8,1971.42 L1067.8,1971.86 L1065.8,1972.2 L1063.8,1972.41 L1061.8,1972.5 L1059.8,1972.45 L1057.8,1972.28 L1055.8,1971.98 L1053.8,1971.56 L1051.8,1971.05 L1049.8,1970.44 L1047.8,1969.77 L1045.8,1969.06 L1043.8,1968.32 L1041.8,1967.58 L1039.8,1966.86 L1037.8,1966.19 L1035.8,1965.58 L1033.8,1965.06 L1031.8,1964.64 L1029.8,1964.34 L1027.8,1964.15 L1025.8,1964.1 Z" fill="#fff"/>
<path d="M1025.8,1947.4 L1027.8,1947.45 L1029.8,1947.64 L1031.8,1947.94 L1033.8,1948.36 L1035.8,1948.88 L1037.8,1949.49 L1039.8,1950.16 L1041.8,1950.88 L1043.8,1951.62 L1045.8,1952.36 L1047.8,1953.07 L1049.8,1953.74 L1051.8,1954.35 L1053.8,1954.86 L1055.8,1955.28 L1057.8,1955.58 L1059.8,1955.75 L1061.8,1955.8 L1063.8,1955.71 L1065.8,1955.5 L1067.8,1955.16 L1069.8,1954.72 L1071.8,1954.17 L1073.8,1953.55 L1075.8,1952.86 L1077.8,1952.14 L1079.8,1951.4 L1081.8,1950.66 L1083.8,1949.95 L1085.8,1949.3 L1087.8,1948.72 L1089.8,1948.22 L1091.8,1947.84 L1093.8,1947.57 L1095.8,1947.42 L1097.8,1947.41 L1099.8,1947.53 L1101.8,1947.77 L1103.8,1948.14 L1105.8,1948.61 L1107.8,1949.18 L1109.8,1949.82 L1111.8,1950.52 L1113.8,1951.25 L1115.8,1951.99 L1117.8,1952.72 L1119.8,1953.42 L1121.8,1954.05 L1123.8,1954.62 L1125.8,1955.08 L1127.8,1955.44 L1129.8,1955.68 L1131.8,1955.79 L1133.8,1955.77 L1135.8,1955.62 L1137.8,1955.35 L1139.8,1954.95 L1141.8,1954.46 L1143.8,1953.87 L1145.8,1953.21 L1147.8,1952.5 L1149.8,1951.77 L1151.8,1951.03 L1153.8,1950.3 L1155.8,1949.62 L1157.8,1949 L1159.8,1948.46 L1161.8,1948.02 L1163.8,1947.69 L1165.8,1947.48 L1167.8,1947.4 L1169.8,1947.45 L1171.8,1947.64 L1173.8,1947.94 L1175.8,1948.36 L1177.8,1948.88 L1179.8,1949.49 L1181.8,1950.16 L1183.8,1950.88 L1185.8,1951.62 L1187.8,1952.36 L1189.8,1953.07 L1191.8,1953.74 L1193.8,1954.35 L1195.8,1954.86 L1197.8,1955.28 L1199.8,1955.58 L1201.8,1955.75 L1203.8,1955.8 L1205.8,1955.71 L1207.8,1955.5 L1209.8,1955.16 L1211.8,1954.72 L1213.8,1954.17 L1215.8,1953.55 L1217.8,1952.86 L1219.8,1952.14 L1221.8,1951.4 L1223.8,1950.66 L1225.8,1949.95 L1227.8,1949.3 L1229.8,1948.72 L1231.8,1948.22 L1233.8,1947.84 L1235.8,1947.57 L1237.8,1947.42 L1239.8,1947.41 L1241.8,1947.53 L1243.8,1947.77 L1245.8,1948.14 L1247.8,1948.61 L1249.8,1949.18 L1251.8,1949.82 L1253.8,1950.52 L1255.8,1951.25 L1257.8,1951.99 L1259.8,1952.72 L1261.8,1953.42 L1263.8,1954.05 L1265.8,1954.62 L1267.8,1955.08 L1269.8,1955.44 L1271.8,1955.68 L1273.8,1955.79 L1275.8,1955.77 L1277.8,1955.62 L1279.8,1955.35 L1281.8,1954.95 L1283.8,1954.46 L1285.8,1953.87 L1287.8,1953.21 L1289.8,1952.5 L1291.8,1951.77 L1293.8,1951.03 L1295.8,1950.3 L1297.8,1949.62 L1299.8,1949 L1301.8,1948.46 L1303.8,1948.02 L1305.8,1947.69 L1307.8,1947.48 L1309.8,1947.4 L1311.8,1947.45 L1313.8,1947.64 L1315.8,1947.94 L1317.8,1948.36 L1319.8,1948.88 L1321.8,1949.49 L1323.8,1950.16 L1325.8,1950.88 L1327.8,1951.62 L1329.8,1952.36 L1331.8,1953.07 L1333.8,1953.74 L1335.8,1954.35 L1337.8,1954.86 L1339.8,1955.28 L1341.8,1955.58 L1343.8,1955.75 L1345.8,1955.8 L1347.8,1955.71 L1349.8,1955.5 L1351.8,1955.16 L1353.8,1954.72 L1355.8,1954.17 L1357.8,1953.55 L1359.8,1952.86 L1361.8,1952.14 L1363.8,1951.4 L1365.8,1950.66 L1367.8,1949.95 L1369.8,1949.3 L1371.8,1948.72 L1373.8,1948.22 L1375.8,1947.84 L1377.8,1947.57" fill="none" stroke="#6a6a6a" stroke-width="1"/>
<path d="M1025.8,1964.1 L1027.8,1964.15 L1029.8,1964.34 L1031.8,1964.64 L1033.8,1965.06 L1035.8,1965.58 L1037.8,1966.19 L1039.8,1966.86 L1041.8,1967.58 L1043.8,1968.32 L1045.8,1969.06 L1047.8,1969.77 L1049.8,1970.44 L1051.8,1971.05 L1053.8,1971.56 L1055.8,1971.98 L1057.8,1972.28 L1059.8,1972.45 L1061.8,1972.5 L1063.8,1972.41 L1065.8,1972.2 L1067.8,1971.86 L1069.8,1971.42 L1071.8,1970.87 L1073.8,1970.25 L1075.8,1969.56 L1077.8,1968.84 L1079.8,1968.1 L1081.8,1967.36 L1083.8,1966.65 L1085.8,1966 L1087.8,1965.42 L1089.8,1964.92 L1091.8,1964.54 L1093.8,1964.27 L1095.8,1964.12 L1097.8,1964.11 L1099.8,1964.23 L1101.8,1964.47 L1103.8,1964.84 L1105.8,1965.31 L1107.8,1965.88 L1109.8,1966.52 L1111.8,1967.22 L1113.8,1967.95 L1115.8,1968.69 L1117.8,1969.42 L1119.8,1970.12 L1121.8,1970.75 L1123.8,1971.32 L1125.8,1971.78 L1127.8,1972.14 L1129.8,1972.38 L1131.8,1972.49 L1133.8,1972.47 L1135.8,1972.32 L1137.8,1972.05 L1139.8,1971.65 L1141.8,1971.16 L1143.8,1970.57 L1145.8,1969.91 L1147.8,1969.2 L1149.8,1968.47 L1151.8,1967.73 L1153.8,1967 L1155.8,1966.32 L1157.8,1965.7 L1159.8,1965.16 L1161.8,1964.72 L1163.8,1964.39 L1165.8,1964.18 L1167.8,1964.1 L1169.8,1964.15 L1171.8,1964.34 L1173.8,1964.64 L1175.8,1965.06 L1177.8,1965.58 L1179.8,1966.19 L1181.8,1966.86 L1183.8,1967.58 L1185.8,1968.32 L1187.8,1969.06 L1189.8,1969.77 L1191.8,1970.44 L1193.8,1971.05 L1195.8,1971.56 L1197.8,1971.98 L1199.8,1972.28 L1201.8,1972.45 L1203.8,1972.5 L1205.8,1972.41 L1207.8,1972.2 L1209.8,1971.86 L1211.8,1971.42 L1213.8,1970.87 L1215.8,1970.25 L1217.8,1969.56 L1219.8,1968.84 L1221.8,1968.1 L1223.8,1967.36 L1225.8,1966.65 L1227.8,1966 L1229.8,1965.42 L1231.8,1964.92 L1233.8,1964.54 L1235.8,1964.27 L1237.8,1964.12 L1239.8,1964.11 L1241.8,1964.23 L1243.8,1964.47 L1245.8,1964.84 L1247.8,1965.31 L1249.8,1965.88 L1251.8,1966.52 L1253.8,1967.22 L1255.8,1967.95 L1257.8,1968.69 L1259.8,1969.42 L1261.8,1970.12 L1263.8,1970.75 L1265.8,1971.32 L1267.8,1971.78 L1269.8,1972.14 L1271.8,1972.38 L1273.8,1972.49 L1275.8,1972.47 L1277.8,1972.32 L1279.8,1972.05 L1281.8,1971.65 L1283.8,1971.16 L1285.8,1970.57 L1287.8,1969.91 L1289.8,1969.2 L1291.8,1968.47 L1293.8,1967.73 L1295.8,1967 L1297.8,1966.32 L1299.8,1965.7 L1301.8,1965.16 L1303.8,1964.72 L1305.8,1964.39 L1307.8,1964.18 L1309.8,1964.1 L1311.8,1964.15 L1313.8,1964.34 L1315.8,1964.64 L1317.8,1965.06 L1319.8,1965.58 L1321.8,1966.19 L1323.8,1966.86 L1325.8,1967.58 L1327.8,1968.32 L1329.8,1969.06 L1331.8,1969.77 L1333.8,1970.44 L1335.8,1971.05 L1337.8,1971.56 L1339.8,1971.98 L1341.8,1972.28 L1343.8,1972.45 L1345.8,1972.5 L1347.8,1972.41 L1349.8,1972.2 L1351.8,1971.86 L1353.8,1971.42 L1355.8,1970.87 L1357.8,1970.25 L1359.8,1969.56 L1361.8,1968.84 L1363.8,1968.1 L1365.8,1967.36 L1367.8,1966.65 L1369.8,1966 L1371.8,1965.42 L1373.8,1964.92 L1375.8,1964.54 L1377.8,1964.27" fill="none" stroke="#6a6a6a" stroke-width="1"/>
<text x="963.63" y="1754.3" font-size="29.5">2,500</text>
<text x="963.63" y="1814.9" font-size="29.5">2,000</text>
<text x="963.63" y="1874.4" font-size="29.5">1,500</text>
<text x="963.63" y="1933.6" font-size="29.5">1,000</text>
<text x="1004.81" y="1996.5" font-size="29.5">0</text>
<path d="M1083.7,1744.3Q1083.7,1740.8 1086.7,1740.8H1322.7Q1325.7,1740.8 1325.7,1744.3" stroke="#000" stroke-width="1.5" fill="none"/>
<path d="M1164.7,1752.9Q1164.7,1749.4 1167.7,1749.4H1322.7Q1325.7,1749.4 1325.7,1752.9" stroke="#000" stroke-width="1.5" fill="none"/>
<path d="M1245,1761.5Q1245,1758 1248,1758H1322.7Q1325.7,1758 1325.7,1761.5" stroke="#000" stroke-width="1.5" fill="none"/>
<path d="M1280.5,1732.4L1280.5,1739.6M1283.62,1734.2L1277.38,1737.8M1283.62,1737.8L1277.38,1734.2" stroke="#222" stroke-width="1.1"/>
<path d="M1280.5,1741.4L1280.5,1748.6M1283.62,1743.2L1277.38,1746.8M1283.62,1746.8L1277.38,1743.2" stroke="#222" stroke-width="1.1"/>
<path d="M1280.5,1750.4L1280.5,1757.6M1283.62,1752.2L1277.38,1755.8M1283.62,1755.8L1277.38,1752.2" stroke="#222" stroke-width="1.1"/>
<text transform="translate(1097.95,2016.2) rotate(-42.5)" font-size="30.3" text-anchor="end">CCN+</text>
<text transform="translate(1175,2016.2) rotate(-42.5)" font-size="30.3" text-anchor="end">CCN-</text>
<text transform="translate(1259.05,2014.5) rotate(-42.5)" font-size="30.3" text-anchor="end">Silicone+</text>
<text transform="translate(1334.8,2015.5) rotate(-42.5)" font-size="30.3" text-anchor="end">Auto</text>
<text transform="translate(25.78,2149.6) scale(1.0325,1)" font-size="60">(f)</text>
<text transform="translate(103.23,2203.6) scale(0.9482,1)" font-size="43">Inner diameter</text>
<text x="15.3" y="2218.8" font-size="30"><tspan font-style="italic">μ</tspan>m</text>
<rect x="93.7" y="2338.7" width="53.6" height="146.5"/>
<path d="M120.5,2339.7V2323.3M112,2323.3H129" stroke="#000" stroke-width="2.4" fill="none"/>
<rect x="180.1" y="2361.1" width="53.2" height="124.1"/>
<path d="M206.7,2362.1V2346M198.2,2346H215.2" stroke="#000" stroke-width="2.4" fill="none"/>
<rect x="265.5" y="2357.1" width="53.2" height="128.1"/>
<path d="M292.1,2358.1V2351M283.6,2351H300.6" stroke="#000" stroke-width="2.4" fill="none"/>
<rect x="351.5" y="2270" width="53.6" height="215.2"/>
<path d="M378.3,2271V2264M369.8,2264H386.8" stroke="#000" stroke-width="2.4" fill="none"/>
<path d="M77.7,2244.6V2485.2H421.2" stroke="#000" stroke-width="2.8" fill="none"/>
<path d="M63,2441.6 L65,2441.67 L67,2441.86 L69,2442.18 L71,2442.61 L73,2443.14 L75,2443.75 L77,2444.43 L79,2445.15 L81,2445.89 L83,2446.63 L85,2447.34 L87,2448.01 L89,2448.6 L91,2449.11 L93,2449.51 L95,2449.8 L97,2449.96 L99,2450 L101,2449.9 L103,2449.67 L105,2449.32 L107,2448.87 L109,2448.31 L111,2447.68 L113,2446.99 L115,2446.26 L117,2445.52 L119,2444.79 L121,2444.09 L123,2443.44 L125,2442.86 L127,2442.38 L129,2442 L131,2441.75 L133,2441.62 L135,2441.62 L137,2441.75 L139,2442 L141,2442.38 L143,2442.86 L145,2443.44 L147,2444.09 L149,2444.79 L151,2445.52 L153,2446.26 L155,2446.99 L157,2447.68 L159,2448.31 L161,2448.87 L163,2449.32 L165,2449.67 L167,2449.9 L169,2450 L171,2449.96 L173,2449.8 L175,2449.51 L177,2449.11 L179,2448.6 L181,2448.01 L183,2447.34 L185,2446.63 L187,2445.89 L189,2445.15 L191,2444.43 L193,2443.75 L195,2443.14 L197,2442.61 L199,2442.18 L201,2441.86 L203,2441.67 L205,2441.6 L207,2441.67 L209,2441.86 L211,2442.18 L213,2442.61 L215,2443.14 L217,2443.75 L219,2444.43 L221,2445.15 L223,2445.89 L225,2446.63 L227,2447.34 L229,2448.01 L231,2448.6 L233,2449.11 L235,2449.51 L237,2449.8 L239,2449.96 L241,2450 L243,2449.9 L245,2449.67 L247,2449.32 L249,2448.87 L251,2448.31 L253,2447.68 L255,2446.99 L257,2446.26 L259,2445.52 L261,2444.79 L263,2444.09 L265,2443.44 L267,2442.86 L269,2442.38 L271,2442 L273,2441.75 L275,2441.62 L277,2441.62 L279,2441.75 L281,2442 L283,2442.38 L285,2442.86 L287,2443.44 L289,2444.09 L291,2444.79 L293,2445.52 L295,2446.26 L297,2446.99 L299,2447.68 L301,2448.31 L303,2448.87 L305,2449.32 L307,2449.67 L309,2449.9 L311,2450 L313,2449.96 L315,2449.8 L317,2449.51 L319,2449.11 L321,2448.6 L323,2448.01 L325,2447.34 L327,2446.63 L329,2445.89 L331,2445.15 L333,2444.43 L335,2443.75 L337,2443.14 L339,2442.61 L341,2442.18 L343,2441.86 L345,2441.67 L347,2441.6 L349,2441.67 L351,2441.86 L353,2442.18 L355,2442.61 L357,2443.14 L359,2443.75 L361,2444.43 L363,2445.15 L365,2445.89 L367,2446.63 L369,2447.34 L371,2448.01 L373,2448.6 L375,2449.11 L377,2449.51 L379,2449.8 L381,2449.96 L383,2450 L385,2449.9 L387,2449.67 L389,2449.32 L391,2448.87 L393,2448.31 L395,2447.68 L397,2446.99 L399,2446.26 L401,2445.52 L403,2444.79 L405,2444.09 L407,2443.44 L409,2442.86 L411,2442.38 L413,2442 L413,2459.4 L411,2459.78 L409,2460.26 L407,2460.84 L405,2461.49 L403,2462.19 L401,2462.92 L399,2463.66 L397,2464.39 L395,2465.08 L393,2465.71 L391,2466.27 L389,2466.72 L387,2467.07 L385,2467.3 L383,2467.4 L381,2467.36 L379,2467.2 L377,2466.91 L375,2466.51 L373,2466 L371,2465.41 L369,2464.74 L367,2464.03 L365,2463.29 L363,2462.55 L361,2461.83 L359,2461.15 L357,2460.54 L355,2460.01 L353,2459.58 L351,2459.26 L349,2459.07 L347,2459 L345,2459.07 L343,2459.26 L341,2459.58 L339,2460.01 L337,2460.54 L335,2461.15 L333,2461.83 L331,2462.55 L329,2463.29 L327,2464.03 L325,2464.74 L323,2465.41 L321,2466 L319,2466.51 L317,2466.91 L315,2467.2 L313,2467.36 L311,2467.4 L309,2467.3 L307,2467.07 L305,2466.72 L303,2466.27 L301,2465.71 L299,2465.08 L297,2464.39 L295,2463.66 L293,2462.92 L291,2462.19 L289,2461.49 L287,2460.84 L285,2460.26 L283,2459.78 L281,2459.4 L279,2459.15 L277,2459.02 L275,2459.02 L273,2459.15 L271,2459.4 L269,2459.78 L267,2460.26 L265,2460.84 L263,2461.49 L261,2462.19 L259,2462.92 L257,2463.66 L255,2464.39 L253,2465.08 L251,2465.71 L249,2466.27 L247,2466.72 L245,2467.07 L243,2467.3 L241,2467.4 L239,2467.36 L237,2467.2 L235,2466.91 L233,2466.51 L231,2466 L229,2465.41 L227,2464.74 L225,2464.03 L223,2463.29 L221,2462.55 L219,2461.83 L217,2461.15 L215,2460.54 L213,2460.01 L211,2459.58 L209,2459.26 L207,2459.07 L205,2459 L203,2459.07 L201,2459.26 L199,2459.58 L197,2460.01 L195,2460.54 L193,2461.15 L191,2461.83 L189,2462.55 L187,2463.29 L185,2464.03 L183,2464.74 L181,2465.41 L179,2466 L177,2466.51 L175,2466.91 L173,2467.2 L171,2467.36 L169,2467.4 L167,2467.3 L165,2467.07 L163,2466.72 L161,2466.27 L159,2465.71 L157,2465.08 L155,2464.39 L153,2463.66 L151,2462.92 L149,2462.19 L147,2461.49 L145,2460.84 L143,2460.26 L141,2459.78 L139,2459.4 L137,2459.15 L135,2459.02 L133,2459.02 L131,2459.15 L129,2459.4 L127,2459.78 L125,2460.26 L123,2460.84 L121,2461.49 L119,2462.19 L117,2462.92 L115,2463.66 L113,2464.39 L111,2465.08 L109,2465.71 L107,2466.27 L105,2466.72 L103,2467.07 L101,2467.3 L99,2467.4 L97,2467.36 L95,2467.2 L93,2466.91 L91,2466.51 L89,2466 L87,2465.41 L85,2464.74 L83,2464.03 L81,2463.29 L79,2462.55 L77,2461.83 L75,2461.15 L73,2460.54 L71,2460.01 L69,2459.58 L67,2459.26 L65,2459.07 L63,2459 Z" fill="#fff"/>
<path d="M63,2441.6 L65,2441.67 L67,2441.86 L69,2442.18 L71,2442.61 L73,2443.14 L75,2443.75 L77,2444.43 L79,2445.15 L81,2445.89 L83,2446.63 L85,2447.34 L87,2448.01 L89,2448.6 L91,2449.11 L93,2449.51 L95,2449.8 L97,2449.96 L99,2450 L101,2449.9 L103,2449.67 L105,2449.32 L107,2448.87 L109,2448.31 L111,2447.68 L113,2446.99 L115,2446.26 L117,2445.52 L119,2444.79 L121,2444.09 L123,2443.44 L125,2442.86 L127,2442.38 L129,2442 L131,2441.75 L133,2441.62 L135,2441.62 L137,2441.75 L139,2442 L141,2442.38 L143,2442.86 L145,2443.44 L147,2444.09 L149,2444.79 L151,2445.52 L153,2446.26 L155,2446.99 L157,2447.68 L159,2448.31 L161,2448.87 L163,2449.32 L165,2449.67 L167,2449.9 L169,2450 L171,2449.96 L173,2449.8 L175,2449.51 L177,2449.11 L179,2448.6 L181,2448.01 L183,2447.34 L185,2446.63 L187,2445.89 L189,2445.15 L191,2444.43 L193,2443.75 L195,2443.14 L197,2442.61 L199,2442.18 L201,2441.86 L203,2441.67 L205,2441.6 L207,2441.67 L209,2441.86 L211,2442.18 L213,2442.61 L215,2443.14 L217,2443.75 L219,2444.43 L221,2445.15 L223,2445.89 L225,2446.63 L227,2447.34 L229,2448.01 L231,2448.6 L233,2449.11 L235,2449.51 L237,2449.8 L239,2449.96 L241,2450 L243,2449.9 L245,2449.67 L247,2449.32 L249,2448.87 L251,2448.31 L253,2447.68 L255,2446.99 L257,2446.26 L259,2445.52 L261,2444.79 L263,2444.09 L265,2443.44 L267,2442.86 L269,2442.38 L271,2442 L273,2441.75 L275,2441.62 L277,2441.62 L279,2441.75 L281,2442 L283,2442.38 L285,2442.86 L287,2443.44 L289,2444.09 L291,2444.79 L293,2445.52 L295,2446.26 L297,2446.99 L299,2447.68 L301,2448.31 L303,2448.87 L305,2449.32 L307,2449.67 L309,2449.9 L311,2450 L313,2449.96 L315,2449.8 L317,2449.51 L319,2449.11 L321,2448.6 L323,2448.01 L325,2447.34 L327,2446.63 L329,2445.89 L331,2445.15 L333,2444.43 L335,2443.75 L337,2443.14 L339,2442.61 L341,2442.18 L343,2441.86 L345,2441.67 L347,2441.6 L349,2441.67 L351,2441.86 L353,2442.18 L355,2442.61 L357,2443.14 L359,2443.75 L361,2444.43 L363,2445.15 L365,2445.89 L367,2446.63 L369,2447.34 L371,2448.01 L373,2448.6 L375,2449.11 L377,2449.51 L379,2449.8 L381,2449.96 L383,2450 L385,2449.9 L387,2449.67 L389,2449.32 L391,2448.87 L393,2448.31 L395,2447.68 L397,2446.99 L399,2446.26 L401,2445.52 L403,2444.79 L405,2444.09 L407,2443.44 L409,2442.86 L411,2442.38 L413,2442" fill="none" stroke="#6a6a6a" stroke-width="1"/>
<path d="M63,2459 L65,2459.07 L67,2459.26 L69,2459.58 L71,2460.01 L73,2460.54 L75,2461.15 L77,2461.83 L79,2462.55 L81,2463.29 L83,2464.03 L85,2464.74 L87,2465.41 L89,2466 L91,2466.51 L93,2466.91 L95,2467.2 L97,2467.36 L99,2467.4 L101,2467.3 L103,2467.07 L105,2466.72 L107,2466.27 L109,2465.71 L111,2465.08 L113,2464.39 L115,2463.66 L117,2462.92 L119,2462.19 L121,2461.49 L123,2460.84 L125,2460.26 L127,2459.78 L129,2459.4 L131,2459.15 L133,2459.02 L135,2459.02 L137,2459.15 L139,2459.4 L141,2459.78 L143,2460.26 L145,2460.84 L147,2461.49 L149,2462.19 L151,2462.92 L153,2463.66 L155,2464.39 L157,2465.08 L159,2465.71 L161,2466.27 L163,2466.72 L165,2467.07 L167,2467.3 L169,2467.4 L171,2467.36 L173,2467.2 L175,2466.91 L177,2466.51 L179,2466 L181,2465.41 L183,2464.74 L185,2464.03 L187,2463.29 L189,2462.55 L191,2461.83 L193,2461.15 L195,2460.54 L197,2460.01 L199,2459.58 L201,2459.26 L203,2459.07 L205,2459 L207,2459.07 L209,2459.26 L211,2459.58 L213,2460.01 L215,2460.54 L217,2461.15 L219,2461.83 L221,2462.55 L223,2463.29 L225,2464.03 L227,2464.74 L229,2465.41 L231,2466 L233,2466.51 L235,2466.91 L237,2467.2 L239,2467.36 L241,2467.4 L243,2467.3 L245,2467.07 L247,2466.72 L249,2466.27 L251,2465.71 L253,2465.08 L255,2464.39 L257,2463.66 L259,2462.92 L261,2462.19 L263,2461.49 L265,2460.84 L267,2460.26 L269,2459.78 L271,2459.4 L273,2459.15 L275,2459.02 L277,2459.02 L279,2459.15 L281,2459.4 L283,2459.78 L285,2460.26 L287,2460.84 L289,2461.49 L291,2462.19 L293,2462.92 L295,2463.66 L297,2464.39 L299,2465.08 L301,2465.71 L303,2466.27 L305,2466.72 L307,2467.07 L309,2467.3 L311,2467.4 L313,2467.36 L315,2467.2 L317,2466.91 L319,2466.51 L321,2466 L323,2465.41 L325,2464.74 L327,2464.03 L329,2463.29 L331,2462.55 L333,2461.83 L335,2461.15 L337,2460.54 L339,2460.01 L341,2459.58 L343,2459.26 L345,2459.07 L347,2459 L349,2459.07 L351,2459.26 L353,2459.58 L355,2460.01 L357,2460.54 L359,2461.15 L361,2461.83 L363,2462.55 L365,2463.29 L367,2464.03 L369,2464.74 L371,2465.41 L373,2466 L375,2466.51 L377,2466.91 L379,2467.2 L381,2467.36 L383,2467.4 L385,2467.3 L387,2467.07 L389,2466.72 L391,2466.27 L393,2465.71 L395,2465.08 L397,2464.39 L399,2463.66 L401,2462.92 L403,2462.19 L405,2461.49 L407,2460.84 L409,2460.26 L411,2459.78 L413,2459.4" fill="none" stroke="#6a6a6a" stroke-width="1"/>
<text x="41.85" y="2254.4" font-size="29.5">3</text>
<text x="17.78" y="2314.4" font-size="29.5">2.8</text>
<text x="17.92" y="2374.6" font-size="29.5">2.6</text>
<text x="17.48" y="2434.9" font-size="29.5">2.4</text>
<text x="41.71" y="2495.2" font-size="29.5">0</text>
<path d="M124.9,2239.1Q124.9,2235.6 127.9,2235.6H375.3Q378.3,2235.6 378.3,2239.1" stroke="#000" stroke-width="1.5" fill="none"/>
<path d="M205.2,2248.1Q205.2,2244.6 208.2,2244.6H375.3Q378.3,2244.6 378.3,2248.1" stroke="#000" stroke-width="1.5" fill="none"/>
<path d="M291.9,2256.8Q291.9,2253.3 294.9,2253.3H375.3Q378.3,2253.3 378.3,2256.8" stroke="#000" stroke-width="1.5" fill="none"/>
<path d="M333.1,2227L333.1,2234.2M336.22,2228.8L329.98,2232.4M336.22,2232.4L329.98,2228.8" stroke="#222" stroke-width="1.1"/>
<path d="M333.1,2236.4L333.1,2243.6M336.22,2238.2L329.98,2241.8M336.22,2241.8L329.98,2238.2" stroke="#222" stroke-width="1.1"/>
<path d="M333.1,2245.4L333.1,2252.6M336.22,2247.2L329.98,2250.8M336.22,2250.8L329.98,2247.2" stroke="#222" stroke-width="1.1"/>
<text transform="translate(131.4,2510.1) rotate(-42.5)" font-size="30.3" text-anchor="end">CCN+</text>
<text transform="translate(214.8,2511.6) rotate(-42.5)" font-size="30.3" text-anchor="end">CCN-</text>
<text transform="translate(304.6,2510.1) rotate(-42.5)" font-size="30.3" text-anchor="end">Silicone+</text>
<text transform="translate(386.4,2511.1) rotate(-42.5)" font-size="30.3" text-anchor="end">Auto</text>
<text transform="translate(481.25,2151.2) scale(1.0409,1)" font-size="60">(g)</text>
<text transform="translate(585.02,2202.9) scale(0.9832,1)" font-size="42.5">Outer diameter</text>
<text x="500.3" y="2218.8" font-size="30"><tspan font-style="italic">μ</tspan>m</text>
<rect x="577.1" y="2368.8" width="52.9" height="116.9"/>
<path d="M603.55,2369.8V2358.5M595.05,2358.5H612.05" stroke="#000" stroke-width="2.4" fill="none"/>
<rect x="663.2" y="2405.7" width="52.8" height="80"/>
<path d="M689.6,2406.7V2399.6M681.1,2399.6H698.1" stroke="#000" stroke-width="2.4" fill="none"/>
<rect x="748.5" y="2403" width="52.9" height="82.7"/>
<path d="M774.95,2404V2401.3M766.45,2401.3H783.45" stroke="#000" stroke-width="2.4" fill="none"/>
<rect x="834.2" y="2257.3" width="52.6" height="228.4"/>
<path d="M860.5,2258.3V2250.7M852,2250.7H869" stroke="#000" stroke-width="2.4" fill="none"/>
<path d="M561,2243.3V2485.7H903.5" stroke="#000" stroke-width="2.8" fill="none"/>
<path d="M546.3,2440.61 L548.3,2440.63 L550.3,2440.78 L552.3,2441.05 L554.3,2441.45 L556.3,2441.94 L558.3,2442.53 L560.3,2443.19 L562.3,2443.9 L564.3,2444.63 L566.3,2445.37 L568.3,2446.1 L570.3,2446.78 L572.3,2447.4 L574.3,2447.94 L576.3,2448.38 L578.3,2448.71 L580.3,2448.92 L582.3,2449 L584.3,2448.95 L586.3,2448.76 L588.3,2448.46 L590.3,2448.04 L592.3,2447.52 L594.3,2446.91 L596.3,2446.24 L598.3,2445.52 L600.3,2444.78 L602.3,2444.04 L604.3,2443.33 L606.3,2442.66 L608.3,2442.05 L610.3,2441.54 L612.3,2441.12 L614.3,2440.82 L616.3,2440.65 L618.3,2440.6 L620.3,2440.69 L622.3,2440.9 L624.3,2441.24 L626.3,2441.68 L628.3,2442.23 L630.3,2442.85 L632.3,2443.54 L634.3,2444.26 L636.3,2445 L638.3,2445.74 L640.3,2446.45 L642.3,2447.1 L644.3,2447.68 L646.3,2448.18 L648.3,2448.56 L650.3,2448.83 L652.3,2448.98 L654.3,2448.99 L656.3,2448.87 L658.3,2448.63 L660.3,2448.26 L662.3,2447.79 L664.3,2447.22 L666.3,2446.58 L668.3,2445.88 L670.3,2445.15 L672.3,2444.41 L674.3,2443.68 L676.3,2442.98 L678.3,2442.35 L680.3,2441.78 L682.3,2441.32 L684.3,2440.96 L686.3,2440.72 L688.3,2440.61 L690.3,2440.63 L692.3,2440.78 L694.3,2441.05 L696.3,2441.45 L698.3,2441.94 L700.3,2442.53 L702.3,2443.19 L704.3,2443.9 L706.3,2444.63 L708.3,2445.37 L710.3,2446.1 L712.3,2446.78 L714.3,2447.4 L716.3,2447.94 L718.3,2448.38 L720.3,2448.71 L722.3,2448.92 L724.3,2449 L726.3,2448.95 L728.3,2448.76 L730.3,2448.46 L732.3,2448.04 L734.3,2447.52 L736.3,2446.91 L738.3,2446.24 L740.3,2445.52 L742.3,2444.78 L744.3,2444.04 L746.3,2443.33 L748.3,2442.66 L750.3,2442.05 L752.3,2441.54 L754.3,2441.12 L756.3,2440.82 L758.3,2440.65 L760.3,2440.6 L762.3,2440.69 L764.3,2440.9 L766.3,2441.24 L768.3,2441.68 L770.3,2442.23 L772.3,2442.85 L774.3,2443.54 L776.3,2444.26 L778.3,2445 L780.3,2445.74 L782.3,2446.45 L784.3,2447.1 L786.3,2447.68 L788.3,2448.18 L790.3,2448.56 L792.3,2448.83 L794.3,2448.98 L796.3,2448.99 L798.3,2448.87 L800.3,2448.63 L802.3,2448.26 L804.3,2447.79 L806.3,2447.22 L808.3,2446.58 L810.3,2445.88 L812.3,2445.15 L814.3,2444.41 L816.3,2443.68 L818.3,2442.98 L820.3,2442.35 L822.3,2441.78 L824.3,2441.32 L826.3,2440.96 L828.3,2440.72 L830.3,2440.61 L832.3,2440.63 L834.3,2440.78 L836.3,2441.05 L838.3,2441.45 L840.3,2441.94 L842.3,2442.53 L844.3,2443.19 L846.3,2443.9 L848.3,2444.63 L850.3,2445.37 L852.3,2446.1 L854.3,2446.78 L856.3,2447.4 L858.3,2447.94 L860.3,2448.38 L862.3,2448.71 L864.3,2448.92 L866.3,2449 L868.3,2448.95 L870.3,2448.76 L872.3,2448.46 L874.3,2448.04 L876.3,2447.52 L878.3,2446.91 L880.3,2446.24 L882.3,2445.52 L884.3,2444.78 L886.3,2444.04 L888.3,2443.33 L890.3,2442.66 L892.3,2442.05 L894.3,2441.54 L896.3,2441.12 L898.3,2440.82 L898.3,2457.62 L896.3,2457.92 L894.3,2458.34 L892.3,2458.85 L890.3,2459.46 L888.3,2460.13 L886.3,2460.84 L884.3,2461.58 L882.3,2462.32 L880.3,2463.04 L878.3,2463.71 L876.3,2464.32 L874.3,2464.84 L872.3,2465.26 L870.3,2465.56 L868.3,2465.75 L866.3,2465.8 L864.3,2465.72 L862.3,2465.51 L860.3,2465.18 L858.3,2464.74 L856.3,2464.2 L854.3,2463.58 L852.3,2462.9 L850.3,2462.17 L848.3,2461.43 L846.3,2460.7 L844.3,2459.99 L842.3,2459.33 L840.3,2458.74 L838.3,2458.25 L836.3,2457.85 L834.3,2457.58 L832.3,2457.43 L830.3,2457.41 L828.3,2457.52 L826.3,2457.76 L824.3,2458.12 L822.3,2458.58 L820.3,2459.15 L818.3,2459.78 L816.3,2460.48 L814.3,2461.21 L812.3,2461.95 L810.3,2462.68 L808.3,2463.38 L806.3,2464.02 L804.3,2464.59 L802.3,2465.06 L800.3,2465.43 L798.3,2465.67 L796.3,2465.79 L794.3,2465.78 L792.3,2465.63 L790.3,2465.36 L788.3,2464.98 L786.3,2464.48 L784.3,2463.9 L782.3,2463.25 L780.3,2462.54 L778.3,2461.8 L776.3,2461.06 L774.3,2460.34 L772.3,2459.65 L770.3,2459.03 L768.3,2458.48 L766.3,2458.04 L764.3,2457.7 L762.3,2457.49 L760.3,2457.4 L758.3,2457.45 L756.3,2457.62 L754.3,2457.92 L752.3,2458.34 L750.3,2458.85 L748.3,2459.46 L746.3,2460.13 L744.3,2460.84 L742.3,2461.58 L740.3,2462.32 L738.3,2463.04 L736.3,2463.71 L734.3,2464.32 L732.3,2464.84 L730.3,2465.26 L728.3,2465.56 L726.3,2465.75 L724.3,2465.8 L722.3,2465.72 L720.3,2465.51 L718.3,2465.18 L716.3,2464.74 L714.3,2464.2 L712.3,2463.58 L710.3,2462.9 L708.3,2462.17 L706.3,2461.43 L704.3,2460.7 L702.3,2459.99 L700.3,2459.33 L698.3,2458.74 L696.3,2458.25 L694.3,2457.85 L692.3,2457.58 L690.3,2457.43 L688.3,2457.41 L686.3,2457.52 L684.3,2457.76 L682.3,2458.12 L680.3,2458.58 L678.3,2459.15 L676.3,2459.78 L674.3,2460.48 L672.3,2461.21 L670.3,2461.95 L668.3,2462.68 L666.3,2463.38 L664.3,2464.02 L662.3,2464.59 L660.3,2465.06 L658.3,2465.43 L656.3,2465.67 L654.3,2465.79 L652.3,2465.78 L650.3,2465.63 L648.3,2465.36 L646.3,2464.98 L644.3,2464.48 L642.3,2463.9 L640.3,2463.25 L638.3,2462.54 L636.3,2461.8 L634.3,2461.06 L632.3,2460.34 L630.3,2459.65 L628.3,2459.03 L626.3,2458.48 L624.3,2458.04 L622.3,2457.7 L620.3,2457.49 L618.3,2457.4 L616.3,2457.45 L614.3,2457.62 L612.3,2457.92 L610.3,2458.34 L608.3,2458.85 L606.3,2459.46 L604.3,2460.13 L602.3,2460.84 L600.3,2461.58 L598.3,2462.32 L596.3,2463.04 L594.3,2463.71 L592.3,2464.32 L590.3,2464.84 L588.3,2465.26 L586.3,2465.56 L584.3,2465.75 L582.3,2465.8 L580.3,2465.72 L578.3,2465.51 L576.3,2465.18 L574.3,2464.74 L572.3,2464.2 L570.3,2463.58 L568.3,2462.9 L566.3,2462.17 L564.3,2461.43 L562.3,2460.7 L560.3,2459.99 L558.3,2459.33 L556.3,2458.74 L554.3,2458.25 L552.3,2457.85 L550.3,2457.58 L548.3,2457.43 L546.3,2457.41 Z" fill="#fff"/>
<path d="M546.3,2440.61 L548.3,2440.63 L550.3,2440.78 L552.3,2441.05 L554.3,2441.45 L556.3,2441.94 L558.3,2442.53 L560.3,2443.19 L562.3,2443.9 L564.3,2444.63 L566.3,2445.37 L568.3,2446.1 L570.3,2446.78 L572.3,2447.4 L574.3,2447.94 L576.3,2448.38 L578.3,2448.71 L580.3,2448.92 L582.3,2449 L584.3,2448.95 L586.3,2448.76 L588.3,2448.46 L590.3,2448.04 L592.3,2447.52 L594.3,2446.91 L596.3,2446.24 L598.3,2445.52 L600.3,2444.78 L602.3,2444.04 L604.3,2443.33 L606.3,2442.66 L608.3,2442.05 L610.3,2441.54 L612.3,2441.12 L614.3,2440.82 L616.3,2440.65 L618.3,2440.6 L620.3,2440.69 L622.3,2440.9 L624.3,2441.24 L626.3,2441.68 L628.3,2442.23 L630.3,2442.85 L632.3,2443.54 L634.3,2444.26 L636.3,2445 L638.3,2445.74 L640.3,2446.45 L642.3,2447.1 L644.3,2447.68 L646.3,2448.18 L648.3,2448.56 L650.3,2448.83 L652.3,2448.98 L654.3,2448.99 L656.3,2448.87 L658.3,2448.63 L660.3,2448.26 L662.3,2447.79 L664.3,2447.22 L666.3,2446.58 L668.3,2445.88 L670.3,2445.15 L672.3,2444.41 L674.3,2443.68 L676.3,2442.98 L678.3,2442.35 L680.3,2441.78 L682.3,2441.32 L684.3,2440.96 L686.3,2440.72 L688.3,2440.61 L690.3,2440.63 L692.3,2440.78 L694.3,2441.05 L696.3,2441.45 L698.3,2441.94 L700.3,2442.53 L702.3,2443.19 L704.3,2443.9 L706.3,2444.63 L708.3,2445.37 L710.3,2446.1 L712.3,2446.78 L714.3,2447.4 L716.3,2447.94 L718.3,2448.38 L720.3,2448.71 L722.3,2448.92 L724.3,2449 L726.3,2448.95 L728.3,2448.76 L730.3,2448.46 L732.3,2448.04 L734.3,2447.52 L736.3,2446.91 L738.3,2446.24 L740.3,2445.52 L742.3,2444.78 L744.3,2444.04 L746.3,2443.33 L748.3,2442.66 L750.3,2442.05 L752.3,2441.54 L754.3,2441.12 L756.3,2440.82 L758.3,2440.65 L760.3,2440.6 L762.3,2440.69 L764.3,2440.9 L766.3,2441.24 L768.3,2441.68 L770.3,2442.23 L772.3,2442.85 L774.3,2443.54 L776.3,2444.26 L778.3,2445 L780.3,2445.74 L782.3,2446.45 L784.3,2447.1 L786.3,2447.68 L788.3,2448.18 L790.3,2448.56 L792.3,2448.83 L794.3,2448.98 L796.3,2448.99 L798.3,2448.87 L800.3,2448.63 L802.3,2448.26 L804.3,2447.79 L806.3,2447.22 L808.3,2446.58 L810.3,2445.88 L812.3,2445.15 L814.3,2444.41 L816.3,2443.68 L818.3,2442.98 L820.3,2442.35 L822.3,2441.78 L824.3,2441.32 L826.3,2440.96 L828.3,2440.72 L830.3,2440.61 L832.3,2440.63 L834.3,2440.78 L836.3,2441.05 L838.3,2441.45 L840.3,2441.94 L842.3,2442.53 L844.3,2443.19 L846.3,2443.9 L848.3,2444.63 L850.3,2445.37 L852.3,2446.1 L854.3,2446.78 L856.3,2447.4 L858.3,2447.94 L860.3,2448.38 L862.3,2448.71 L864.3,2448.92 L866.3,2449 L868.3,2448.95 L870.3,2448.76 L872.3,2448.46 L874.3,2448.04 L876.3,2447.52 L878.3,2446.91 L880.3,2446.24 L882.3,2445.52 L884.3,2444.78 L886.3,2444.04 L888.3,2443.33 L890.3,2442.66 L892.3,2442.05 L894.3,2441.54 L896.3,2441.12 L898.3,2440.82" fill="none" stroke="#6a6a6a" stroke-width="1"/>
<path d="M546.3,2457.41 L548.3,2457.43 L550.3,2457.58 L552.3,2457.85 L554.3,2458.25 L556.3,2458.74 L558.3,2459.33 L560.3,2459.99 L562.3,2460.7 L564.3,2461.43 L566.3,2462.17 L568.3,2462.9 L570.3,2463.58 L572.3,2464.2 L574.3,2464.74 L576.3,2465.18 L578.3,2465.51 L580.3,2465.72 L582.3,2465.8 L584.3,2465.75 L586.3,2465.56 L588.3,2465.26 L590.3,2464.84 L592.3,2464.32 L594.3,2463.71 L596.3,2463.04 L598.3,2462.32 L600.3,2461.58 L602.3,2460.84 L604.3,2460.13 L606.3,2459.46 L608.3,2458.85 L610.3,2458.34 L612.3,2457.92 L614.3,2457.62 L616.3,2457.45 L618.3,2457.4 L620.3,2457.49 L622.3,2457.7 L624.3,2458.04 L626.3,2458.48 L628.3,2459.03 L630.3,2459.65 L632.3,2460.34 L634.3,2461.06 L636.3,2461.8 L638.3,2462.54 L640.3,2463.25 L642.3,2463.9 L644.3,2464.48 L646.3,2464.98 L648.3,2465.36 L650.3,2465.63 L652.3,2465.78 L654.3,2465.79 L656.3,2465.67 L658.3,2465.43 L660.3,2465.06 L662.3,2464.59 L664.3,2464.02 L666.3,2463.38 L668.3,2462.68 L670.3,2461.95 L672.3,2461.21 L674.3,2460.48 L676.3,2459.78 L678.3,2459.15 L680.3,2458.58 L682.3,2458.12 L684.3,2457.76 L686.3,2457.52 L688.3,2457.41 L690.3,2457.43 L692.3,2457.58 L694.3,2457.85 L696.3,2458.25 L698.3,2458.74 L700.3,2459.33 L702.3,2459.99 L704.3,2460.7 L706.3,2461.43 L708.3,2462.17 L710.3,2462.9 L712.3,2463.58 L714.3,2464.2 L716.3,2464.74 L718.3,2465.18 L720.3,2465.51 L722.3,2465.72 L724.3,2465.8 L726.3,2465.75 L728.3,2465.56 L730.3,2465.26 L732.3,2464.84 L734.3,2464.32 L736.3,2463.71 L738.3,2463.04 L740.3,2462.32 L742.3,2461.58 L744.3,2460.84 L746.3,2460.13 L748.3,2459.46 L750.3,2458.85 L752.3,2458.34 L754.3,2457.92 L756.3,2457.62 L758.3,2457.45 L760.3,2457.4 L762.3,2457.49 L764.3,2457.7 L766.3,2458.04 L768.3,2458.48 L770.3,2459.03 L772.3,2459.65 L774.3,2460.34 L776.3,2461.06 L778.3,2461.8 L780.3,2462.54 L782.3,2463.25 L784.3,2463.9 L786.3,2464.48 L788.3,2464.98 L790.3,2465.36 L792.3,2465.63 L794.3,2465.78 L796.3,2465.79 L798.3,2465.67 L800.3,2465.43 L802.3,2465.06 L804.3,2464.59 L806.3,2464.02 L808.3,2463.38 L810.3,2462.68 L812.3,2461.95 L814.3,2461.21 L816.3,2460.48 L818.3,2459.78 L820.3,2459.15 L822.3,2458.58 L824.3,2458.12 L826.3,2457.76 L828.3,2457.52 L830.3,2457.41 L832.3,2457.43 L834.3,2457.58 L836.3,2457.85 L838.3,2458.25 L840.3,2458.74 L842.3,2459.33 L844.3,2459.99 L846.3,2460.7 L848.3,2461.43 L850.3,2462.17 L852.3,2462.9 L854.3,2463.58 L856.3,2464.2 L858.3,2464.74 L860.3,2465.18 L862.3,2465.51 L864.3,2465.72 L866.3,2465.8 L868.3,2465.75 L870.3,2465.56 L872.3,2465.26 L874.3,2464.84 L876.3,2464.32 L878.3,2463.71 L880.3,2463.04 L882.3,2462.32 L884.3,2461.58 L886.3,2460.84 L888.3,2460.13 L890.3,2459.46 L892.3,2458.85 L894.3,2458.34 L896.3,2457.92 L898.3,2457.62" fill="none" stroke="#6a6a6a" stroke-width="1"/>
<text x="525.11" y="2254.4" font-size="29.5">5</text>
<text x="501.18" y="2314.4" font-size="29.5">4.5</text>
<text x="524.81" y="2374.6" font-size="29.5">4</text>
<text x="501.18" y="2434.4" font-size="29.5">3.5</text>
<text x="525.11" y="2494.6" font-size="29.5">0</text>
<path d="M604.6,2224.7Q604.6,2221.2 607.6,2221.2H855.3Q858.3,2221.2 858.3,2224.7" stroke="#000" stroke-width="1.5" fill="none"/>
<path d="M685.3,2233.7Q685.3,2230.2 688.3,2230.2H855.3Q858.3,2230.2 858.3,2233.7" stroke="#000" stroke-width="1.5" fill="none"/>
<path d="M772.3,2242.5Q772.3,2239 775.3,2239H855.3Q858.3,2239 858.3,2242.5" stroke="#000" stroke-width="1.5" fill="none"/>
<path d="M604.6,2335.2Q604.6,2331.7 607.6,2331.7H770Q773,2331.7 773,2335.2" stroke="#000" stroke-width="1.5" fill="none"/>
<path d="M604,2344.5Q604,2341 607,2341H686.3Q689.3,2341 689.3,2344.5" stroke="#000" stroke-width="1.5" fill="none"/>
<path d="M814.2,2212.9L814.2,2220.1M817.32,2214.7L811.08,2218.3M817.32,2218.3L811.08,2214.7" stroke="#222" stroke-width="1.1"/>
<path d="M814.2,2221.9L814.2,2229.1M817.32,2223.7L811.08,2227.3M817.32,2227.3L811.08,2223.7" stroke="#222" stroke-width="1.1"/>
<path d="M814.2,2231L814.2,2238.2M817.32,2232.8L811.08,2236.4M817.32,2236.4L811.08,2232.8" stroke="#222" stroke-width="1.1"/>
<path d="M645.1,2325.1L645.1,2332.3M648.22,2326.9L641.98,2330.5M648.22,2330.5L641.98,2326.9" stroke="#222" stroke-width="1.1"/>
<path d="M645.1,2334.1L645.1,2341.3M648.22,2335.9L641.98,2339.5M648.22,2339.5L641.98,2335.9" stroke="#222" stroke-width="1.1"/>
<text transform="translate(614.45,2512.1) rotate(-42.5)" font-size="30.3" text-anchor="end">CCN+</text>
<text transform="translate(697.7,2512) rotate(-42.5)" font-size="30.3" text-anchor="end">CCN-</text>
<text transform="translate(787.45,2511) rotate(-42.5)" font-size="30.3" text-anchor="end">Silicone+</text>
<text transform="translate(868.6,2512) rotate(-42.5)" font-size="30.3" text-anchor="end">Auto</text>
<text transform="translate(963.82,2157.9) scale(1.0227,1)" font-size="60">(h)</text>
<text transform="translate(1046.25,2201.3) scale(0.9822,1)" font-size="42.6">Myelin thickness</text>
<text x="986.4" y="2218.8" font-size="30"><tspan font-style="italic">μ</tspan>m</text>
<rect x="1061.2" y="2368.8" width="53.3" height="116.9"/>
<path d="M1087.85,2369.8V2361.1M1079.35,2361.1H1096.35" stroke="#000" stroke-width="2.4" fill="none"/>
<rect x="1147.3" y="2409.7" width="52.9" height="76"/>
<path d="M1173.75,2410.7V2407M1165.25,2407H1182.25" stroke="#000" stroke-width="2.4" fill="none"/>
<rect x="1232" y="2408.3" width="53.2" height="77.4"/>
<path d="M1258.6,2409.3V2403.6M1250.1,2403.6H1267.1" stroke="#000" stroke-width="2.4" fill="none"/>
<rect x="1318" y="2249.6" width="53.6" height="236.1"/>
<path d="M1344.8,2250.6V2238.3M1336.3,2238.3H1353.3" stroke="#000" stroke-width="2.4" fill="none"/>
<path d="M1045.2,2247.3V2485.7H1386.7" stroke="#000" stroke-width="2.8" fill="none"/>
<path d="M1031.1,2441.61 L1033.1,2441.62 L1035.1,2441.76 L1037.1,2442.02 L1039.1,2442.4 L1041.1,2442.89 L1043.1,2443.47 L1045.1,2444.12 L1047.1,2444.82 L1049.1,2445.56 L1051.1,2446.3 L1053.1,2447.03 L1055.1,2447.72 L1057.1,2448.34 L1059.1,2448.89 L1061.1,2449.34 L1063.1,2449.69 L1065.1,2449.91 L1067.1,2450 L1069.1,2449.96 L1071.1,2449.79 L1073.1,2449.49 L1075.1,2449.09 L1077.1,2448.57 L1079.1,2447.97 L1081.1,2447.31 L1083.1,2446.59 L1085.1,2445.86 L1087.1,2445.12 L1089.1,2444.4 L1091.1,2443.72 L1093.1,2443.11 L1095.1,2442.59 L1097.1,2442.16 L1099.1,2441.85 L1101.1,2441.66 L1103.1,2441.6 L1105.1,2441.67 L1107.1,2441.87 L1109.1,2442.2 L1111.1,2442.63 L1113.1,2443.17 L1115.1,2443.79 L1117.1,2444.47 L1119.1,2445.19 L1121.1,2445.93 L1123.1,2446.67 L1125.1,2447.38 L1127.1,2448.04 L1129.1,2448.63 L1131.1,2449.13 L1133.1,2449.53 L1135.1,2449.81 L1137.1,2449.97 L1139.1,2449.99 L1141.1,2449.89 L1143.1,2449.66 L1145.1,2449.3 L1147.1,2448.84 L1149.1,2448.28 L1151.1,2447.65 L1153.1,2446.96 L1155.1,2446.23 L1157.1,2445.48 L1159.1,2444.75 L1161.1,2444.05 L1163.1,2443.41 L1165.1,2442.84 L1167.1,2442.36 L1169.1,2441.99 L1171.1,2441.74 L1173.1,2441.61 L1175.1,2441.62 L1177.1,2441.76 L1179.1,2442.02 L1181.1,2442.4 L1183.1,2442.89 L1185.1,2443.47 L1187.1,2444.12 L1189.1,2444.82 L1191.1,2445.56 L1193.1,2446.3 L1195.1,2447.03 L1197.1,2447.72 L1199.1,2448.34 L1201.1,2448.89 L1203.1,2449.34 L1205.1,2449.69 L1207.1,2449.91 L1209.1,2450 L1211.1,2449.96 L1213.1,2449.79 L1215.1,2449.49 L1217.1,2449.09 L1219.1,2448.57 L1221.1,2447.97 L1223.1,2447.31 L1225.1,2446.59 L1227.1,2445.86 L1229.1,2445.12 L1231.1,2444.4 L1233.1,2443.72 L1235.1,2443.11 L1237.1,2442.59 L1239.1,2442.16 L1241.1,2441.85 L1243.1,2441.66 L1245.1,2441.6 L1247.1,2441.67 L1249.1,2441.87 L1251.1,2442.2 L1253.1,2442.63 L1255.1,2443.17 L1257.1,2443.79 L1259.1,2444.47 L1261.1,2445.19 L1263.1,2445.93 L1265.1,2446.67 L1267.1,2447.38 L1269.1,2448.04 L1271.1,2448.63 L1273.1,2449.13 L1275.1,2449.53 L1277.1,2449.81 L1279.1,2449.97 L1281.1,2449.99 L1283.1,2449.89 L1285.1,2449.66 L1287.1,2449.3 L1289.1,2448.84 L1291.1,2448.28 L1293.1,2447.65 L1295.1,2446.96 L1297.1,2446.23 L1299.1,2445.48 L1301.1,2444.75 L1303.1,2444.05 L1305.1,2443.41 L1307.1,2442.84 L1309.1,2442.36 L1311.1,2441.99 L1313.1,2441.74 L1315.1,2441.61 L1317.1,2441.62 L1319.1,2441.76 L1321.1,2442.02 L1323.1,2442.4 L1325.1,2442.89 L1327.1,2443.47 L1329.1,2444.12 L1331.1,2444.82 L1333.1,2445.56 L1335.1,2446.3 L1337.1,2447.03 L1339.1,2447.72 L1341.1,2448.34 L1343.1,2448.89 L1345.1,2449.34 L1347.1,2449.69 L1349.1,2449.91 L1351.1,2450 L1353.1,2449.96 L1355.1,2449.79 L1357.1,2449.49 L1359.1,2449.09 L1361.1,2448.57 L1363.1,2447.97 L1365.1,2447.31 L1367.1,2446.59 L1369.1,2445.86 L1371.1,2445.12 L1373.1,2444.4 L1375.1,2443.72 L1377.1,2443.11 L1379.1,2442.59 L1381.1,2442.16 L1383.1,2441.85 L1383.1,2458.65 L1381.1,2458.96 L1379.1,2459.39 L1377.1,2459.91 L1375.1,2460.52 L1373.1,2461.2 L1371.1,2461.92 L1369.1,2462.66 L1367.1,2463.39 L1365.1,2464.11 L1363.1,2464.77 L1361.1,2465.37 L1359.1,2465.89 L1357.1,2466.29 L1355.1,2466.59 L1353.1,2466.76 L1351.1,2466.8 L1349.1,2466.71 L1347.1,2466.49 L1345.1,2466.14 L1343.1,2465.69 L1341.1,2465.14 L1339.1,2464.52 L1337.1,2463.83 L1335.1,2463.1 L1333.1,2462.36 L1331.1,2461.62 L1329.1,2460.92 L1327.1,2460.27 L1325.1,2459.69 L1323.1,2459.2 L1321.1,2458.82 L1319.1,2458.56 L1317.1,2458.42 L1315.1,2458.41 L1313.1,2458.54 L1311.1,2458.79 L1309.1,2459.16 L1307.1,2459.64 L1305.1,2460.21 L1303.1,2460.85 L1301.1,2461.55 L1299.1,2462.28 L1297.1,2463.03 L1295.1,2463.76 L1293.1,2464.45 L1291.1,2465.08 L1289.1,2465.64 L1287.1,2466.1 L1285.1,2466.46 L1283.1,2466.69 L1281.1,2466.79 L1279.1,2466.77 L1277.1,2466.61 L1275.1,2466.33 L1273.1,2465.93 L1271.1,2465.43 L1269.1,2464.84 L1267.1,2464.18 L1265.1,2463.47 L1263.1,2462.73 L1261.1,2461.99 L1259.1,2461.27 L1257.1,2460.59 L1255.1,2459.97 L1253.1,2459.43 L1251.1,2459 L1249.1,2458.67 L1247.1,2458.47 L1245.1,2458.4 L1243.1,2458.46 L1241.1,2458.65 L1239.1,2458.96 L1237.1,2459.39 L1235.1,2459.91 L1233.1,2460.52 L1231.1,2461.2 L1229.1,2461.92 L1227.1,2462.66 L1225.1,2463.39 L1223.1,2464.11 L1221.1,2464.77 L1219.1,2465.37 L1217.1,2465.89 L1215.1,2466.29 L1213.1,2466.59 L1211.1,2466.76 L1209.1,2466.8 L1207.1,2466.71 L1205.1,2466.49 L1203.1,2466.14 L1201.1,2465.69 L1199.1,2465.14 L1197.1,2464.52 L1195.1,2463.83 L1193.1,2463.1 L1191.1,2462.36 L1189.1,2461.62 L1187.1,2460.92 L1185.1,2460.27 L1183.1,2459.69 L1181.1,2459.2 L1179.1,2458.82 L1177.1,2458.56 L1175.1,2458.42 L1173.1,2458.41 L1171.1,2458.54 L1169.1,2458.79 L1167.1,2459.16 L1165.1,2459.64 L1163.1,2460.21 L1161.1,2460.85 L1159.1,2461.55 L1157.1,2462.28 L1155.1,2463.03 L1153.1,2463.76 L1151.1,2464.45 L1149.1,2465.08 L1147.1,2465.64 L1145.1,2466.1 L1143.1,2466.46 L1141.1,2466.69 L1139.1,2466.79 L1137.1,2466.77 L1135.1,2466.61 L1133.1,2466.33 L1131.1,2465.93 L1129.1,2465.43 L1127.1,2464.84 L1125.1,2464.18 L1123.1,2463.47 L1121.1,2462.73 L1119.1,2461.99 L1117.1,2461.27 L1115.1,2460.59 L1113.1,2459.97 L1111.1,2459.43 L1109.1,2459 L1107.1,2458.67 L1105.1,2458.47 L1103.1,2458.4 L1101.1,2458.46 L1099.1,2458.65 L1097.1,2458.96 L1095.1,2459.39 L1093.1,2459.91 L1091.1,2460.52 L1089.1,2461.2 L1087.1,2461.92 L1085.1,2462.66 L1083.1,2463.39 L1081.1,2464.11 L1079.1,2464.77 L1077.1,2465.37 L1075.1,2465.89 L1073.1,2466.29 L1071.1,2466.59 L1069.1,2466.76 L1067.1,2466.8 L1065.1,2466.71 L1063.1,2466.49 L1061.1,2466.14 L1059.1,2465.69 L1057.1,2465.14 L1055.1,2464.52 L1053.1,2463.83 L1051.1,2463.1 L1049.1,2462.36 L1047.1,2461.62 L1045.1,2460.92 L1043.1,2460.27 L1041.1,2459.69 L1039.1,2459.2 L1037.1,2458.82 L1035.1,2458.56 L1033.1,2458.42 L1031.1,2458.41 Z" fill="#fff"/>
<path d="M1031.1,2441.61 L1033.1,2441.62 L1035.1,2441.76 L1037.1,2442.02 L1039.1,2442.4 L1041.1,2442.89 L1043.1,2443.47 L1045.1,2444.12 L1047.1,2444.82 L1049.1,2445.56 L1051.1,2446.3 L1053.1,2447.03 L1055.1,2447.72 L1057.1,2448.34 L1059.1,2448.89 L1061.1,2449.34 L1063.1,2449.69 L1065.1,2449.91 L1067.1,2450 L1069.1,2449.96 L1071.1,2449.79 L1073.1,2449.49 L1075.1,2449.09 L1077.1,2448.57 L1079.1,2447.97 L1081.1,2447.31 L1083.1,2446.59 L1085.1,2445.86 L1087.1,2445.12 L1089.1,2444.4 L1091.1,2443.72 L1093.1,2443.11 L1095.1,2442.59 L1097.1,2442.16 L1099.1,2441.85 L1101.1,2441.66 L1103.1,2441.6 L1105.1,2441.67 L1107.1,2441.87 L1109.1,2442.2 L1111.1,2442.63 L1113.1,2443.17 L1115.1,2443.79 L1117.1,2444.47 L1119.1,2445.19 L1121.1,2445.93 L1123.1,2446.67 L1125.1,2447.38 L1127.1,2448.04 L1129.1,2448.63 L1131.1,2449.13 L1133.1,2449.53 L1135.1,2449.81 L1137.1,2449.97 L1139.1,2449.99 L1141.1,2449.89 L1143.1,2449.66 L1145.1,2449.3 L1147.1,2448.84 L1149.1,2448.28 L1151.1,2447.65 L1153.1,2446.96 L1155.1,2446.23 L1157.1,2445.48 L1159.1,2444.75 L1161.1,2444.05 L1163.1,2443.41 L1165.1,2442.84 L1167.1,2442.36 L1169.1,2441.99 L1171.1,2441.74 L1173.1,2441.61 L1175.1,2441.62 L1177.1,2441.76 L1179.1,2442.02 L1181.1,2442.4 L1183.1,2442.89 L1185.1,2443.47 L1187.1,2444.12 L1189.1,2444.82 L1191.1,2445.56 L1193.1,2446.3 L1195.1,2447.03 L1197.1,2447.72 L1199.1,2448.34 L1201.1,2448.89 L1203.1,2449.34 L1205.1,2449.69 L1207.1,2449.91 L1209.1,2450 L1211.1,2449.96 L1213.1,2449.79 L1215.1,2449.49 L1217.1,2449.09 L1219.1,2448.57 L1221.1,2447.97 L1223.1,2447.31 L1225.1,2446.59 L1227.1,2445.86 L1229.1,2445.12 L1231.1,2444.4 L1233.1,2443.72 L1235.1,2443.11 L1237.1,2442.59 L1239.1,2442.16 L1241.1,2441.85 L1243.1,2441.66 L1245.1,2441.6 L1247.1,2441.67 L1249.1,2441.87 L1251.1,2442.2 L1253.1,2442.63 L1255.1,2443.17 L1257.1,2443.79 L1259.1,2444.47 L1261.1,2445.19 L1263.1,2445.93 L1265.1,2446.67 L1267.1,2447.38 L1269.1,2448.04 L1271.1,2448.63 L1273.1,2449.13 L1275.1,2449.53 L1277.1,2449.81 L1279.1,2449.97 L1281.1,2449.99 L1283.1,2449.89 L1285.1,2449.66 L1287.1,2449.3 L1289.1,2448.84 L1291.1,2448.28 L1293.1,2447.65 L1295.1,2446.96 L1297.1,2446.23 L1299.1,2445.48 L1301.1,2444.75 L1303.1,2444.05 L1305.1,2443.41 L1307.1,2442.84 L1309.1,2442.36 L1311.1,2441.99 L1313.1,2441.74 L1315.1,2441.61 L1317.1,2441.62 L1319.1,2441.76 L1321.1,2442.02 L1323.1,2442.4 L1325.1,2442.89 L1327.1,2443.47 L1329.1,2444.12 L1331.1,2444.82 L1333.1,2445.56 L1335.1,2446.3 L1337.1,2447.03 L1339.1,2447.72 L1341.1,2448.34 L1343.1,2448.89 L1345.1,2449.34 L1347.1,2449.69 L1349.1,2449.91 L1351.1,2450 L1353.1,2449.96 L1355.1,2449.79 L1357.1,2449.49 L1359.1,2449.09 L1361.1,2448.57 L1363.1,2447.97 L1365.1,2447.31 L1367.1,2446.59 L1369.1,2445.86 L1371.1,2445.12 L1373.1,2444.4 L1375.1,2443.72 L1377.1,2443.11 L1379.1,2442.59 L1381.1,2442.16 L1383.1,2441.85" fill="none" stroke="#6a6a6a" stroke-width="1"/>
<path d="M1031.1,2458.41 L1033.1,2458.42 L1035.1,2458.56 L1037.1,2458.82 L1039.1,2459.2 L1041.1,2459.69 L1043.1,2460.27 L1045.1,2460.92 L1047.1,2461.62 L1049.1,2462.36 L1051.1,2463.1 L1053.1,2463.83 L1055.1,2464.52 L1057.1,2465.14 L1059.1,2465.69 L1061.1,2466.14 L1063.1,2466.49 L1065.1,2466.71 L1067.1,2466.8 L1069.1,2466.76 L1071.1,2466.59 L1073.1,2466.29 L1075.1,2465.89 L1077.1,2465.37 L1079.1,2464.77 L1081.1,2464.11 L1083.1,2463.39 L1085.1,2462.66 L1087.1,2461.92 L1089.1,2461.2 L1091.1,2460.52 L1093.1,2459.91 L1095.1,2459.39 L1097.1,2458.96 L1099.1,2458.65 L1101.1,2458.46 L1103.1,2458.4 L1105.1,2458.47 L1107.1,2458.67 L1109.1,2459 L1111.1,2459.43 L1113.1,2459.97 L1115.1,2460.59 L1117.1,2461.27 L1119.1,2461.99 L1121.1,2462.73 L1123.1,2463.47 L1125.1,2464.18 L1127.1,2464.84 L1129.1,2465.43 L1131.1,2465.93 L1133.1,2466.33 L1135.1,2466.61 L1137.1,2466.77 L1139.1,2466.79 L1141.1,2466.69 L1143.1,2466.46 L1145.1,2466.1 L1147.1,2465.64 L1149.1,2465.08 L1151.1,2464.45 L1153.1,2463.76 L1155.1,2463.03 L1157.1,2462.28 L1159.1,2461.55 L1161.1,2460.85 L1163.1,2460.21 L1165.1,2459.64 L1167.1,2459.16 L1169.1,2458.79 L1171.1,2458.54 L1173.1,2458.41 L1175.1,2458.42 L1177.1,2458.56 L1179.1,2458.82 L1181.1,2459.2 L1183.1,2459.69 L1185.1,2460.27 L1187.1,2460.92 L1189.1,2461.62 L1191.1,2462.36 L1193.1,2463.1 L1195.1,2463.83 L1197.1,2464.52 L1199.1,2465.14 L1201.1,2465.69 L1203.1,2466.14 L1205.1,2466.49 L1207.1,2466.71 L1209.1,2466.8 L1211.1,2466.76 L1213.1,2466.59 L1215.1,2466.29 L1217.1,2465.89 L1219.1,2465.37 L1221.1,2464.77 L1223.1,2464.11 L1225.1,2463.39 L1227.1,2462.66 L1229.1,2461.92 L1231.1,2461.2 L1233.1,2460.52 L1235.1,2459.91 L1237.1,2459.39 L1239.1,2458.96 L1241.1,2458.65 L1243.1,2458.46 L1245.1,2458.4 L1247.1,2458.47 L1249.1,2458.67 L1251.1,2459 L1253.1,2459.43 L1255.1,2459.97 L1257.1,2460.59 L1259.1,2461.27 L1261.1,2461.99 L1263.1,2462.73 L1265.1,2463.47 L1267.1,2464.18 L1269.1,2464.84 L1271.1,2465.43 L1273.1,2465.93 L1275.1,2466.33 L1277.1,2466.61 L1279.1,2466.77 L1281.1,2466.79 L1283.1,2466.69 L1285.1,2466.46 L1287.1,2466.1 L1289.1,2465.64 L1291.1,2465.08 L1293.1,2464.45 L1295.1,2463.76 L1297.1,2463.03 L1299.1,2462.28 L1301.1,2461.55 L1303.1,2460.85 L1305.1,2460.21 L1307.1,2459.64 L1309.1,2459.16 L1311.1,2458.79 L1313.1,2458.54 L1315.1,2458.41 L1317.1,2458.42 L1319.1,2458.56 L1321.1,2458.82 L1323.1,2459.2 L1325.1,2459.69 L1327.1,2460.27 L1329.1,2460.92 L1331.1,2461.62 L1333.1,2462.36 L1335.1,2463.1 L1337.1,2463.83 L1339.1,2464.52 L1341.1,2465.14 L1343.1,2465.69 L1345.1,2466.14 L1347.1,2466.49 L1349.1,2466.71 L1351.1,2466.8 L1353.1,2466.76 L1355.1,2466.59 L1357.1,2466.29 L1359.1,2465.89 L1361.1,2465.37 L1363.1,2464.77 L1365.1,2464.11 L1367.1,2463.39 L1369.1,2462.66 L1371.1,2461.92 L1373.1,2461.2 L1375.1,2460.52 L1377.1,2459.91 L1379.1,2459.39 L1381.1,2458.96 L1383.1,2458.65" fill="none" stroke="#6a6a6a" stroke-width="1"/>
<text x="985.32" y="2285.6" font-size="29.5">0.9</text>
<text x="985.47" y="2356.4" font-size="29.5">0.7</text>
<text x="985.17" y="2425.7" font-size="29.5">0.5</text>
<text x="1004.81" y="2495.3" font-size="29.5">0</text>
<path d="M1101.4,2219Q1101.4,2215.5 1104.4,2215.5H1340.1Q1343.1,2215.5 1343.1,2219" stroke="#000" stroke-width="1.5" fill="none"/>
<path d="M1183.1,2228.4Q1183.1,2224.9 1186.1,2224.9H1340.1Q1343.1,2224.9 1343.1,2228.4" stroke="#000" stroke-width="1.5" fill="none"/>
<path d="M1263.5,2237.1Q1263.5,2233.6 1266.5,2233.6H1340.1Q1343.1,2233.6 1343.1,2237.1" stroke="#000" stroke-width="1.5" fill="none"/>
<path d="M1088.7,2334.5Q1088.7,2331 1091.7,2331H1254Q1257,2331 1257,2334.5" stroke="#000" stroke-width="1.5" fill="none"/>
<path d="M1087,2343.5Q1087,2340 1090,2340H1171Q1174,2340 1174,2343.5" stroke="#000" stroke-width="1.5" fill="none"/>
<path d="M1298.6,2206.9L1298.6,2214.1M1301.72,2208.7L1295.48,2212.3M1301.72,2212.3L1295.48,2208.7" stroke="#222" stroke-width="1.1"/>
<path d="M1298.6,2216.3L1298.6,2223.5M1301.72,2218.1L1295.48,2221.7M1301.72,2221.7L1295.48,2218.1" stroke="#222" stroke-width="1.1"/>
<path d="M1298.6,2225.3L1298.6,2232.5M1301.72,2227.1L1295.48,2230.7M1301.72,2230.7L1295.48,2227.1" stroke="#222" stroke-width="1.1"/>
<path d="M1128.9,2323L1128.9,2330.2M1132.02,2324.8L1125.78,2328.4M1132.02,2328.4L1125.78,2324.8" stroke="#222" stroke-width="1.1"/>
<path d="M1128.9,2332.8L1128.9,2340M1132.02,2334.6L1125.78,2338.2M1132.02,2338.2L1125.78,2334.6" stroke="#222" stroke-width="1.1"/>
<text transform="translate(1098.75,2514) rotate(-42.5)" font-size="30.3" text-anchor="end">CCN+</text>
<text transform="translate(1181.85,2514) rotate(-42.5)" font-size="30.3" text-anchor="end">CCN-</text>
<text transform="translate(1271.1,2512.5) rotate(-42.5)" font-size="30.3" text-anchor="end">Silicone+</text>
<text transform="translate(1352.9,2513.5) rotate(-42.5)" font-size="30.3" text-anchor="end">Auto</text>
</svg></body></html>
